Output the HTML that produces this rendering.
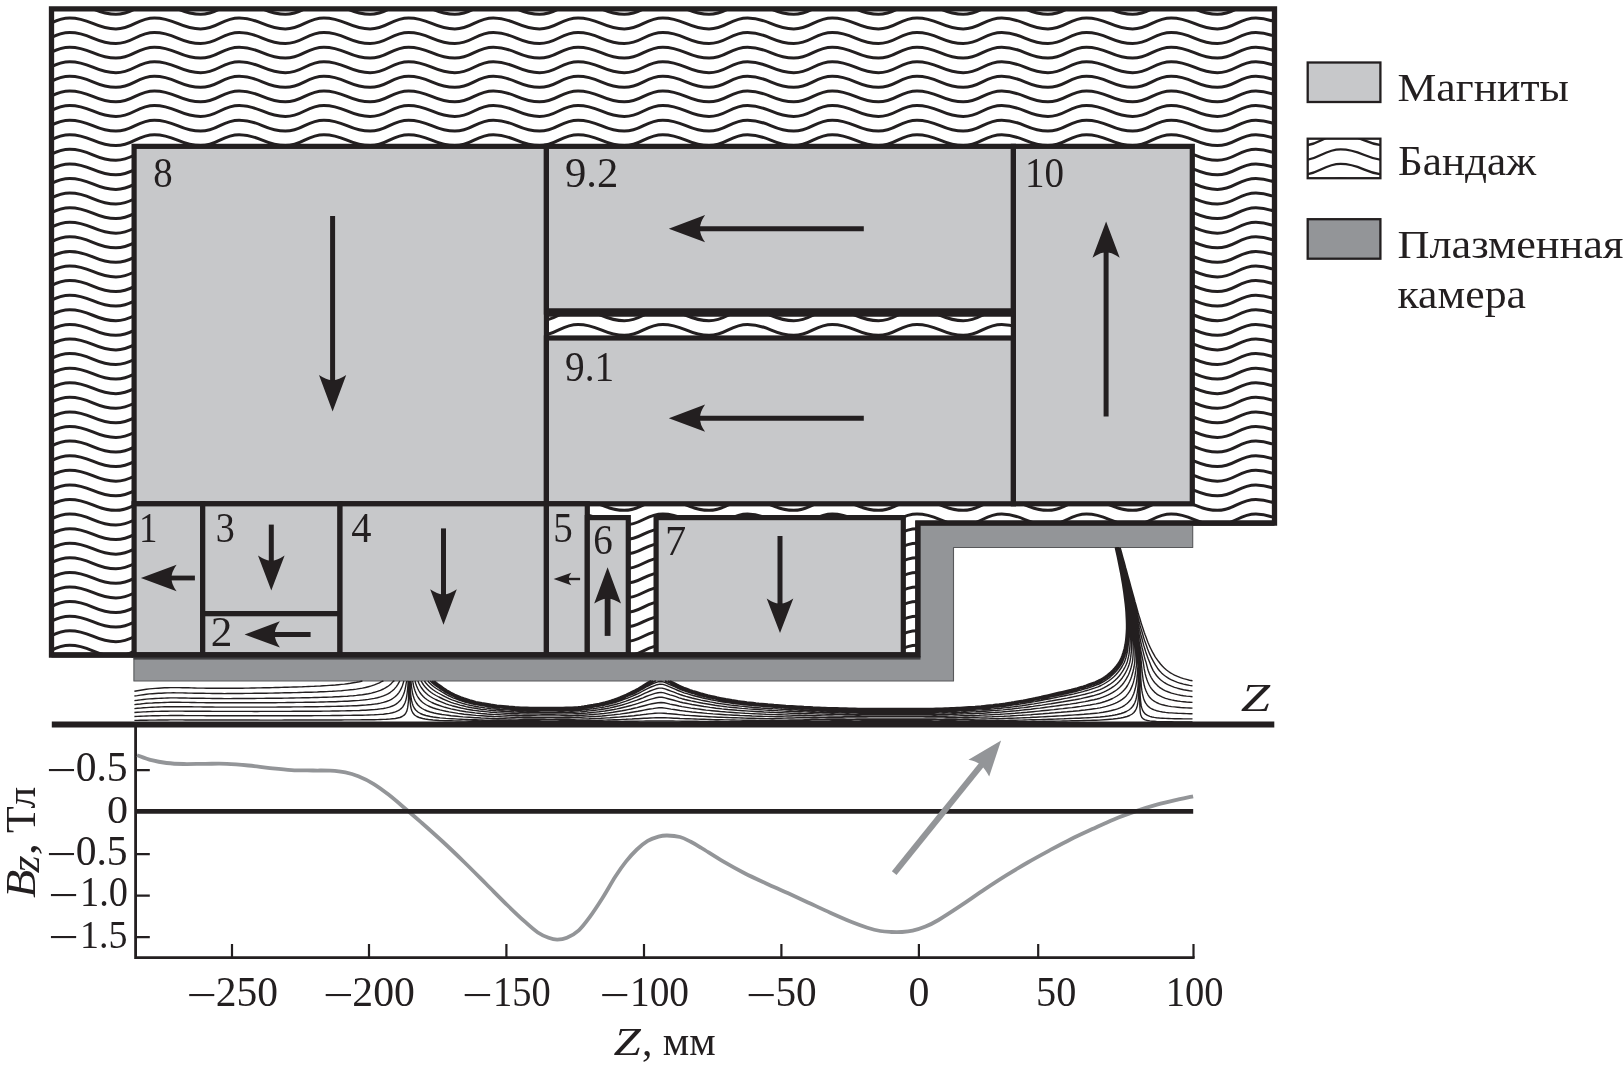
<!DOCTYPE html>
<html lang="ru"><head><meta charset="utf-8"><title>Магнитная система</title>
<style>html,body{margin:0;padding:0;background:#fff}body{width:1624px;height:1068px;overflow:hidden}svg{display:block;will-change:transform}text{font-family:'Liberation Serif','Times New Roman',serif;fill:#231f20}</style></head><body>
<svg width="1624" height="1068" viewBox="0 0 1624 1068">
<rect width="1624" height="1068" fill="#fff"/>
<defs><clipPath id="cb"><path d="M51.5 8.95H1274.5V523.1H917.9V655H51.5Z"/></clipPath>
<clipPath id="cl2"><rect x="1307.7" y="138.7" width="72.7" height="39.5"/></clipPath>
</defs>
<g clip-path="url(#cb)" fill="none" stroke="#231f20" stroke-width="3">
<path d="M-99.76 3.41C-78.97 3.41 -74.35 14.31 -53.56 14.31C-36.22 14.31 -32.37 3.41 -15.03 3.41C5.76 3.41 10.38 14.31 31.17 14.31C48.51 14.31 52.36 3.41 69.7 3.41C90.49 3.41 95.11 14.31 115.9 14.31C133.24 14.31 137.09 3.41 154.43 3.41C175.22 3.41 179.84 14.31 200.63 14.31C217.97 14.31 221.82 3.41 239.16 3.41C259.95 3.41 264.57 14.31 285.36 14.31C302.7 14.31 306.55 3.41 323.89 3.41C344.68 3.41 349.3 14.31 370.09 14.31C387.43 14.31 391.28 3.41 408.62 3.41C429.41 3.41 434.03 14.31 454.82 14.31C472.16 14.31 476.01 3.41 493.35 3.41C514.14 3.41 518.76 14.31 539.55 14.31C556.89 14.31 560.74 3.41 578.08 3.41C598.87 3.41 603.49 14.31 624.28 14.31C641.62 14.31 645.47 3.41 662.81 3.41C683.6 3.41 688.22 14.31 709.01 14.31C726.35 14.31 730.2 3.41 747.54 3.41C768.33 3.41 772.95 14.31 793.74 14.31C811.08 14.31 814.93 3.41 832.27 3.41C853.06 3.41 857.68 14.31 878.47 14.31C895.81 14.31 899.66 3.41 917 3.41C937.79 3.41 942.41 14.31 963.2 14.31C980.54 14.31 984.39 3.41 1001.73 3.41C1022.52 3.41 1027.14 14.31 1047.93 14.31C1065.27 14.31 1069.12 3.41 1086.46 3.41C1107.25 3.41 1111.87 14.31 1132.66 14.31C1150 14.31 1153.85 3.41 1171.19 3.41C1191.98 3.41 1196.6 14.31 1217.39 14.31C1234.73 14.31 1238.58 3.41 1255.92 3.41C1276.71 3.41 1281.33 14.31 1302.12 14.31C1319.46 14.31 1323.31 3.41 1340.65 3.41C1361.44 3.41 1366.06 14.31 1386.85 14.31C1404.19 14.31 1408.04 3.41 1425.38 3.41"/>
<path d="M-99.76 18C-78.97 18 -74.35 28.9 -53.56 28.9C-36.22 28.9 -32.37 18 -15.03 18C5.76 18 10.38 28.9 31.17 28.9C48.51 28.9 52.36 18 69.7 18C90.49 18 95.11 28.9 115.9 28.9C133.24 28.9 137.09 18 154.43 18C175.22 18 179.84 28.9 200.63 28.9C217.97 28.9 221.82 18 239.16 18C259.95 18 264.57 28.9 285.36 28.9C302.7 28.9 306.55 18 323.89 18C344.68 18 349.3 28.9 370.09 28.9C387.43 28.9 391.28 18 408.62 18C429.41 18 434.03 28.9 454.82 28.9C472.16 28.9 476.01 18 493.35 18C514.14 18 518.76 28.9 539.55 28.9C556.89 28.9 560.74 18 578.08 18C598.87 18 603.49 28.9 624.28 28.9C641.62 28.9 645.47 18 662.81 18C683.6 18 688.22 28.9 709.01 28.9C726.35 28.9 730.2 18 747.54 18C768.33 18 772.95 28.9 793.74 28.9C811.08 28.9 814.93 18 832.27 18C853.06 18 857.68 28.9 878.47 28.9C895.81 28.9 899.66 18 917 18C937.79 18 942.41 28.9 963.2 28.9C980.54 28.9 984.39 18 1001.73 18C1022.52 18 1027.14 28.9 1047.93 28.9C1065.27 28.9 1069.12 18 1086.46 18C1107.25 18 1111.87 28.9 1132.66 28.9C1150 28.9 1153.85 18 1171.19 18C1191.98 18 1196.6 28.9 1217.39 28.9C1234.73 28.9 1238.58 18 1255.92 18C1276.71 18 1281.33 28.9 1302.12 28.9C1319.46 28.9 1323.31 18 1340.65 18C1361.44 18 1366.06 28.9 1386.85 28.9C1404.19 28.9 1408.04 18 1425.38 18"/>
<path d="M-99.76 32.59C-78.97 32.59 -74.35 43.49 -53.56 43.49C-36.22 43.49 -32.37 32.59 -15.03 32.59C5.76 32.59 10.38 43.49 31.17 43.49C48.51 43.49 52.36 32.59 69.7 32.59C90.49 32.59 95.11 43.49 115.9 43.49C133.24 43.49 137.09 32.59 154.43 32.59C175.22 32.59 179.84 43.49 200.63 43.49C217.97 43.49 221.82 32.59 239.16 32.59C259.95 32.59 264.57 43.49 285.36 43.49C302.7 43.49 306.55 32.59 323.89 32.59C344.68 32.59 349.3 43.49 370.09 43.49C387.43 43.49 391.28 32.59 408.62 32.59C429.41 32.59 434.03 43.49 454.82 43.49C472.16 43.49 476.01 32.59 493.35 32.59C514.14 32.59 518.76 43.49 539.55 43.49C556.89 43.49 560.74 32.59 578.08 32.59C598.87 32.59 603.49 43.49 624.28 43.49C641.62 43.49 645.47 32.59 662.81 32.59C683.6 32.59 688.22 43.49 709.01 43.49C726.35 43.49 730.2 32.59 747.54 32.59C768.33 32.59 772.95 43.49 793.74 43.49C811.08 43.49 814.93 32.59 832.27 32.59C853.06 32.59 857.68 43.49 878.47 43.49C895.81 43.49 899.66 32.59 917 32.59C937.79 32.59 942.41 43.49 963.2 43.49C980.54 43.49 984.39 32.59 1001.73 32.59C1022.52 32.59 1027.14 43.49 1047.93 43.49C1065.27 43.49 1069.12 32.59 1086.46 32.59C1107.25 32.59 1111.87 43.49 1132.66 43.49C1150 43.49 1153.85 32.59 1171.19 32.59C1191.98 32.59 1196.6 43.49 1217.39 43.49C1234.73 43.49 1238.58 32.59 1255.92 32.59C1276.71 32.59 1281.33 43.49 1302.12 43.49C1319.46 43.49 1323.31 32.59 1340.65 32.59C1361.44 32.59 1366.06 43.49 1386.85 43.49C1404.19 43.49 1408.04 32.59 1425.38 32.59"/>
<path d="M-99.76 47.18C-78.97 47.18 -74.35 58.08 -53.56 58.08C-36.22 58.08 -32.37 47.18 -15.03 47.18C5.76 47.18 10.38 58.08 31.17 58.08C48.51 58.08 52.36 47.18 69.7 47.18C90.49 47.18 95.11 58.08 115.9 58.08C133.24 58.08 137.09 47.18 154.43 47.18C175.22 47.18 179.84 58.08 200.63 58.08C217.97 58.08 221.82 47.18 239.16 47.18C259.95 47.18 264.57 58.08 285.36 58.08C302.7 58.08 306.55 47.18 323.89 47.18C344.68 47.18 349.3 58.08 370.09 58.08C387.43 58.08 391.28 47.18 408.62 47.18C429.41 47.18 434.03 58.08 454.82 58.08C472.16 58.08 476.01 47.18 493.35 47.18C514.14 47.18 518.76 58.08 539.55 58.08C556.89 58.08 560.74 47.18 578.08 47.18C598.87 47.18 603.49 58.08 624.28 58.08C641.62 58.08 645.47 47.18 662.81 47.18C683.6 47.18 688.22 58.08 709.01 58.08C726.35 58.08 730.2 47.18 747.54 47.18C768.33 47.18 772.95 58.08 793.74 58.08C811.08 58.08 814.93 47.18 832.27 47.18C853.06 47.18 857.68 58.08 878.47 58.08C895.81 58.08 899.66 47.18 917 47.18C937.79 47.18 942.41 58.08 963.2 58.08C980.54 58.08 984.39 47.18 1001.73 47.18C1022.52 47.18 1027.14 58.08 1047.93 58.08C1065.27 58.08 1069.12 47.18 1086.46 47.18C1107.25 47.18 1111.87 58.08 1132.66 58.08C1150 58.08 1153.85 47.18 1171.19 47.18C1191.98 47.18 1196.6 58.08 1217.39 58.08C1234.73 58.08 1238.58 47.18 1255.92 47.18C1276.71 47.18 1281.33 58.08 1302.12 58.08C1319.46 58.08 1323.31 47.18 1340.65 47.18C1361.44 47.18 1366.06 58.08 1386.85 58.08C1404.19 58.08 1408.04 47.18 1425.38 47.18"/>
<path d="M-99.76 61.77C-78.97 61.77 -74.35 72.67 -53.56 72.67C-36.22 72.67 -32.37 61.77 -15.03 61.77C5.76 61.77 10.38 72.67 31.17 72.67C48.51 72.67 52.36 61.77 69.7 61.77C90.49 61.77 95.11 72.67 115.9 72.67C133.24 72.67 137.09 61.77 154.43 61.77C175.22 61.77 179.84 72.67 200.63 72.67C217.97 72.67 221.82 61.77 239.16 61.77C259.95 61.77 264.57 72.67 285.36 72.67C302.7 72.67 306.55 61.77 323.89 61.77C344.68 61.77 349.3 72.67 370.09 72.67C387.43 72.67 391.28 61.77 408.62 61.77C429.41 61.77 434.03 72.67 454.82 72.67C472.16 72.67 476.01 61.77 493.35 61.77C514.14 61.77 518.76 72.67 539.55 72.67C556.89 72.67 560.74 61.77 578.08 61.77C598.87 61.77 603.49 72.67 624.28 72.67C641.62 72.67 645.47 61.77 662.81 61.77C683.6 61.77 688.22 72.67 709.01 72.67C726.35 72.67 730.2 61.77 747.54 61.77C768.33 61.77 772.95 72.67 793.74 72.67C811.08 72.67 814.93 61.77 832.27 61.77C853.06 61.77 857.68 72.67 878.47 72.67C895.81 72.67 899.66 61.77 917 61.77C937.79 61.77 942.41 72.67 963.2 72.67C980.54 72.67 984.39 61.77 1001.73 61.77C1022.52 61.77 1027.14 72.67 1047.93 72.67C1065.27 72.67 1069.12 61.77 1086.46 61.77C1107.25 61.77 1111.87 72.67 1132.66 72.67C1150 72.67 1153.85 61.77 1171.19 61.77C1191.98 61.77 1196.6 72.67 1217.39 72.67C1234.73 72.67 1238.58 61.77 1255.92 61.77C1276.71 61.77 1281.33 72.67 1302.12 72.67C1319.46 72.67 1323.31 61.77 1340.65 61.77C1361.44 61.77 1366.06 72.67 1386.85 72.67C1404.19 72.67 1408.04 61.77 1425.38 61.77"/>
<path d="M-99.76 76.36C-78.97 76.36 -74.35 87.26 -53.56 87.26C-36.22 87.26 -32.37 76.36 -15.03 76.36C5.76 76.36 10.38 87.26 31.17 87.26C48.51 87.26 52.36 76.36 69.7 76.36C90.49 76.36 95.11 87.26 115.9 87.26C133.24 87.26 137.09 76.36 154.43 76.36C175.22 76.36 179.84 87.26 200.63 87.26C217.97 87.26 221.82 76.36 239.16 76.36C259.95 76.36 264.57 87.26 285.36 87.26C302.7 87.26 306.55 76.36 323.89 76.36C344.68 76.36 349.3 87.26 370.09 87.26C387.43 87.26 391.28 76.36 408.62 76.36C429.41 76.36 434.03 87.26 454.82 87.26C472.16 87.26 476.01 76.36 493.35 76.36C514.14 76.36 518.76 87.26 539.55 87.26C556.89 87.26 560.74 76.36 578.08 76.36C598.87 76.36 603.49 87.26 624.28 87.26C641.62 87.26 645.47 76.36 662.81 76.36C683.6 76.36 688.22 87.26 709.01 87.26C726.35 87.26 730.2 76.36 747.54 76.36C768.33 76.36 772.95 87.26 793.74 87.26C811.08 87.26 814.93 76.36 832.27 76.36C853.06 76.36 857.68 87.26 878.47 87.26C895.81 87.26 899.66 76.36 917 76.36C937.79 76.36 942.41 87.26 963.2 87.26C980.54 87.26 984.39 76.36 1001.73 76.36C1022.52 76.36 1027.14 87.26 1047.93 87.26C1065.27 87.26 1069.12 76.36 1086.46 76.36C1107.25 76.36 1111.87 87.26 1132.66 87.26C1150 87.26 1153.85 76.36 1171.19 76.36C1191.98 76.36 1196.6 87.26 1217.39 87.26C1234.73 87.26 1238.58 76.36 1255.92 76.36C1276.71 76.36 1281.33 87.26 1302.12 87.26C1319.46 87.26 1323.31 76.36 1340.65 76.36C1361.44 76.36 1366.06 87.26 1386.85 87.26C1404.19 87.26 1408.04 76.36 1425.38 76.36"/>
<path d="M-99.76 90.95C-78.97 90.95 -74.35 101.85 -53.56 101.85C-36.22 101.85 -32.37 90.95 -15.03 90.95C5.76 90.95 10.38 101.85 31.17 101.85C48.51 101.85 52.36 90.95 69.7 90.95C90.49 90.95 95.11 101.85 115.9 101.85C133.24 101.85 137.09 90.95 154.43 90.95C175.22 90.95 179.84 101.85 200.63 101.85C217.97 101.85 221.82 90.95 239.16 90.95C259.95 90.95 264.57 101.85 285.36 101.85C302.7 101.85 306.55 90.95 323.89 90.95C344.68 90.95 349.3 101.85 370.09 101.85C387.43 101.85 391.28 90.95 408.62 90.95C429.41 90.95 434.03 101.85 454.82 101.85C472.16 101.85 476.01 90.95 493.35 90.95C514.14 90.95 518.76 101.85 539.55 101.85C556.89 101.85 560.74 90.95 578.08 90.95C598.87 90.95 603.49 101.85 624.28 101.85C641.62 101.85 645.47 90.95 662.81 90.95C683.6 90.95 688.22 101.85 709.01 101.85C726.35 101.85 730.2 90.95 747.54 90.95C768.33 90.95 772.95 101.85 793.74 101.85C811.08 101.85 814.93 90.95 832.27 90.95C853.06 90.95 857.68 101.85 878.47 101.85C895.81 101.85 899.66 90.95 917 90.95C937.79 90.95 942.41 101.85 963.2 101.85C980.54 101.85 984.39 90.95 1001.73 90.95C1022.52 90.95 1027.14 101.85 1047.93 101.85C1065.27 101.85 1069.12 90.95 1086.46 90.95C1107.25 90.95 1111.87 101.85 1132.66 101.85C1150 101.85 1153.85 90.95 1171.19 90.95C1191.98 90.95 1196.6 101.85 1217.39 101.85C1234.73 101.85 1238.58 90.95 1255.92 90.95C1276.71 90.95 1281.33 101.85 1302.12 101.85C1319.46 101.85 1323.31 90.95 1340.65 90.95C1361.44 90.95 1366.06 101.85 1386.85 101.85C1404.19 101.85 1408.04 90.95 1425.38 90.95"/>
<path d="M-99.76 105.54C-78.97 105.54 -74.35 116.44 -53.56 116.44C-36.22 116.44 -32.37 105.54 -15.03 105.54C5.76 105.54 10.38 116.44 31.17 116.44C48.51 116.44 52.36 105.54 69.7 105.54C90.49 105.54 95.11 116.44 115.9 116.44C133.24 116.44 137.09 105.54 154.43 105.54C175.22 105.54 179.84 116.44 200.63 116.44C217.97 116.44 221.82 105.54 239.16 105.54C259.95 105.54 264.57 116.44 285.36 116.44C302.7 116.44 306.55 105.54 323.89 105.54C344.68 105.54 349.3 116.44 370.09 116.44C387.43 116.44 391.28 105.54 408.62 105.54C429.41 105.54 434.03 116.44 454.82 116.44C472.16 116.44 476.01 105.54 493.35 105.54C514.14 105.54 518.76 116.44 539.55 116.44C556.89 116.44 560.74 105.54 578.08 105.54C598.87 105.54 603.49 116.44 624.28 116.44C641.62 116.44 645.47 105.54 662.81 105.54C683.6 105.54 688.22 116.44 709.01 116.44C726.35 116.44 730.2 105.54 747.54 105.54C768.33 105.54 772.95 116.44 793.74 116.44C811.08 116.44 814.93 105.54 832.27 105.54C853.06 105.54 857.68 116.44 878.47 116.44C895.81 116.44 899.66 105.54 917 105.54C937.79 105.54 942.41 116.44 963.2 116.44C980.54 116.44 984.39 105.54 1001.73 105.54C1022.52 105.54 1027.14 116.44 1047.93 116.44C1065.27 116.44 1069.12 105.54 1086.46 105.54C1107.25 105.54 1111.87 116.44 1132.66 116.44C1150 116.44 1153.85 105.54 1171.19 105.54C1191.98 105.54 1196.6 116.44 1217.39 116.44C1234.73 116.44 1238.58 105.54 1255.92 105.54C1276.71 105.54 1281.33 116.44 1302.12 116.44C1319.46 116.44 1323.31 105.54 1340.65 105.54C1361.44 105.54 1366.06 116.44 1386.85 116.44C1404.19 116.44 1408.04 105.54 1425.38 105.54"/>
<path d="M-99.76 120.13C-78.97 120.13 -74.35 131.03 -53.56 131.03C-36.22 131.03 -32.37 120.13 -15.03 120.13C5.76 120.13 10.38 131.03 31.17 131.03C48.51 131.03 52.36 120.13 69.7 120.13C90.49 120.13 95.11 131.03 115.9 131.03C133.24 131.03 137.09 120.13 154.43 120.13C175.22 120.13 179.84 131.03 200.63 131.03C217.97 131.03 221.82 120.13 239.16 120.13C259.95 120.13 264.57 131.03 285.36 131.03C302.7 131.03 306.55 120.13 323.89 120.13C344.68 120.13 349.3 131.03 370.09 131.03C387.43 131.03 391.28 120.13 408.62 120.13C429.41 120.13 434.03 131.03 454.82 131.03C472.16 131.03 476.01 120.13 493.35 120.13C514.14 120.13 518.76 131.03 539.55 131.03C556.89 131.03 560.74 120.13 578.08 120.13C598.87 120.13 603.49 131.03 624.28 131.03C641.62 131.03 645.47 120.13 662.81 120.13C683.6 120.13 688.22 131.03 709.01 131.03C726.35 131.03 730.2 120.13 747.54 120.13C768.33 120.13 772.95 131.03 793.74 131.03C811.08 131.03 814.93 120.13 832.27 120.13C853.06 120.13 857.68 131.03 878.47 131.03C895.81 131.03 899.66 120.13 917 120.13C937.79 120.13 942.41 131.03 963.2 131.03C980.54 131.03 984.39 120.13 1001.73 120.13C1022.52 120.13 1027.14 131.03 1047.93 131.03C1065.27 131.03 1069.12 120.13 1086.46 120.13C1107.25 120.13 1111.87 131.03 1132.66 131.03C1150 131.03 1153.85 120.13 1171.19 120.13C1191.98 120.13 1196.6 131.03 1217.39 131.03C1234.73 131.03 1238.58 120.13 1255.92 120.13C1276.71 120.13 1281.33 131.03 1302.12 131.03C1319.46 131.03 1323.31 120.13 1340.65 120.13C1361.44 120.13 1366.06 131.03 1386.85 131.03C1404.19 131.03 1408.04 120.13 1425.38 120.13"/>
<path d="M-99.76 134.72C-78.97 134.72 -74.35 145.62 -53.56 145.62C-36.22 145.62 -32.37 134.72 -15.03 134.72C5.76 134.72 10.38 145.62 31.17 145.62C48.51 145.62 52.36 134.72 69.7 134.72C90.49 134.72 95.11 145.62 115.9 145.62C133.24 145.62 137.09 134.72 154.43 134.72C175.22 134.72 179.84 145.62 200.63 145.62C217.97 145.62 221.82 134.72 239.16 134.72C259.95 134.72 264.57 145.62 285.36 145.62C302.7 145.62 306.55 134.72 323.89 134.72C344.68 134.72 349.3 145.62 370.09 145.62C387.43 145.62 391.28 134.72 408.62 134.72C429.41 134.72 434.03 145.62 454.82 145.62C472.16 145.62 476.01 134.72 493.35 134.72C514.14 134.72 518.76 145.62 539.55 145.62C556.89 145.62 560.74 134.72 578.08 134.72C598.87 134.72 603.49 145.62 624.28 145.62C641.62 145.62 645.47 134.72 662.81 134.72C683.6 134.72 688.22 145.62 709.01 145.62C726.35 145.62 730.2 134.72 747.54 134.72C768.33 134.72 772.95 145.62 793.74 145.62C811.08 145.62 814.93 134.72 832.27 134.72C853.06 134.72 857.68 145.62 878.47 145.62C895.81 145.62 899.66 134.72 917 134.72C937.79 134.72 942.41 145.62 963.2 145.62C980.54 145.62 984.39 134.72 1001.73 134.72C1022.52 134.72 1027.14 145.62 1047.93 145.62C1065.27 145.62 1069.12 134.72 1086.46 134.72C1107.25 134.72 1111.87 145.62 1132.66 145.62C1150 145.62 1153.85 134.72 1171.19 134.72C1191.98 134.72 1196.6 145.62 1217.39 145.62C1234.73 145.62 1238.58 134.72 1255.92 134.72C1276.71 134.72 1281.33 145.62 1302.12 145.62C1319.46 145.62 1323.31 134.72 1340.65 134.72C1361.44 134.72 1366.06 145.62 1386.85 145.62C1404.19 145.62 1408.04 134.72 1425.38 134.72"/>
<path d="M-99.76 149.31C-78.97 149.31 -74.35 160.21 -53.56 160.21C-36.22 160.21 -32.37 149.31 -15.03 149.31C5.76 149.31 10.38 160.21 31.17 160.21C48.51 160.21 52.36 149.31 69.7 149.31C90.49 149.31 95.11 160.21 115.9 160.21C133.24 160.21 137.09 149.31 154.43 149.31C175.22 149.31 179.84 160.21 200.63 160.21C217.97 160.21 221.82 149.31 239.16 149.31C259.95 149.31 264.57 160.21 285.36 160.21C302.7 160.21 306.55 149.31 323.89 149.31C344.68 149.31 349.3 160.21 370.09 160.21C387.43 160.21 391.28 149.31 408.62 149.31C429.41 149.31 434.03 160.21 454.82 160.21C472.16 160.21 476.01 149.31 493.35 149.31C514.14 149.31 518.76 160.21 539.55 160.21C556.89 160.21 560.74 149.31 578.08 149.31C598.87 149.31 603.49 160.21 624.28 160.21C641.62 160.21 645.47 149.31 662.81 149.31C683.6 149.31 688.22 160.21 709.01 160.21C726.35 160.21 730.2 149.31 747.54 149.31C768.33 149.31 772.95 160.21 793.74 160.21C811.08 160.21 814.93 149.31 832.27 149.31C853.06 149.31 857.68 160.21 878.47 160.21C895.81 160.21 899.66 149.31 917 149.31C937.79 149.31 942.41 160.21 963.2 160.21C980.54 160.21 984.39 149.31 1001.73 149.31C1022.52 149.31 1027.14 160.21 1047.93 160.21C1065.27 160.21 1069.12 149.31 1086.46 149.31C1107.25 149.31 1111.87 160.21 1132.66 160.21C1150 160.21 1153.85 149.31 1171.19 149.31C1191.98 149.31 1196.6 160.21 1217.39 160.21C1234.73 160.21 1238.58 149.31 1255.92 149.31C1276.71 149.31 1281.33 160.21 1302.12 160.21C1319.46 160.21 1323.31 149.31 1340.65 149.31C1361.44 149.31 1366.06 160.21 1386.85 160.21C1404.19 160.21 1408.04 149.31 1425.38 149.31"/>
<path d="M-99.76 163.9C-78.97 163.9 -74.35 174.8 -53.56 174.8C-36.22 174.8 -32.37 163.9 -15.03 163.9C5.76 163.9 10.38 174.8 31.17 174.8C48.51 174.8 52.36 163.9 69.7 163.9C90.49 163.9 95.11 174.8 115.9 174.8C133.24 174.8 137.09 163.9 154.43 163.9C175.22 163.9 179.84 174.8 200.63 174.8C217.97 174.8 221.82 163.9 239.16 163.9C259.95 163.9 264.57 174.8 285.36 174.8C302.7 174.8 306.55 163.9 323.89 163.9C344.68 163.9 349.3 174.8 370.09 174.8C387.43 174.8 391.28 163.9 408.62 163.9C429.41 163.9 434.03 174.8 454.82 174.8C472.16 174.8 476.01 163.9 493.35 163.9C514.14 163.9 518.76 174.8 539.55 174.8C556.89 174.8 560.74 163.9 578.08 163.9C598.87 163.9 603.49 174.8 624.28 174.8C641.62 174.8 645.47 163.9 662.81 163.9C683.6 163.9 688.22 174.8 709.01 174.8C726.35 174.8 730.2 163.9 747.54 163.9C768.33 163.9 772.95 174.8 793.74 174.8C811.08 174.8 814.93 163.9 832.27 163.9C853.06 163.9 857.68 174.8 878.47 174.8C895.81 174.8 899.66 163.9 917 163.9C937.79 163.9 942.41 174.8 963.2 174.8C980.54 174.8 984.39 163.9 1001.73 163.9C1022.52 163.9 1027.14 174.8 1047.93 174.8C1065.27 174.8 1069.12 163.9 1086.46 163.9C1107.25 163.9 1111.87 174.8 1132.66 174.8C1150 174.8 1153.85 163.9 1171.19 163.9C1191.98 163.9 1196.6 174.8 1217.39 174.8C1234.73 174.8 1238.58 163.9 1255.92 163.9C1276.71 163.9 1281.33 174.8 1302.12 174.8C1319.46 174.8 1323.31 163.9 1340.65 163.9C1361.44 163.9 1366.06 174.8 1386.85 174.8C1404.19 174.8 1408.04 163.9 1425.38 163.9"/>
<path d="M-99.76 178.49C-78.97 178.49 -74.35 189.39 -53.56 189.39C-36.22 189.39 -32.37 178.49 -15.03 178.49C5.76 178.49 10.38 189.39 31.17 189.39C48.51 189.39 52.36 178.49 69.7 178.49C90.49 178.49 95.11 189.39 115.9 189.39C133.24 189.39 137.09 178.49 154.43 178.49C175.22 178.49 179.84 189.39 200.63 189.39C217.97 189.39 221.82 178.49 239.16 178.49C259.95 178.49 264.57 189.39 285.36 189.39C302.7 189.39 306.55 178.49 323.89 178.49C344.68 178.49 349.3 189.39 370.09 189.39C387.43 189.39 391.28 178.49 408.62 178.49C429.41 178.49 434.03 189.39 454.82 189.39C472.16 189.39 476.01 178.49 493.35 178.49C514.14 178.49 518.76 189.39 539.55 189.39C556.89 189.39 560.74 178.49 578.08 178.49C598.87 178.49 603.49 189.39 624.28 189.39C641.62 189.39 645.47 178.49 662.81 178.49C683.6 178.49 688.22 189.39 709.01 189.39C726.35 189.39 730.2 178.49 747.54 178.49C768.33 178.49 772.95 189.39 793.74 189.39C811.08 189.39 814.93 178.49 832.27 178.49C853.06 178.49 857.68 189.39 878.47 189.39C895.81 189.39 899.66 178.49 917 178.49C937.79 178.49 942.41 189.39 963.2 189.39C980.54 189.39 984.39 178.49 1001.73 178.49C1022.52 178.49 1027.14 189.39 1047.93 189.39C1065.27 189.39 1069.12 178.49 1086.46 178.49C1107.25 178.49 1111.87 189.39 1132.66 189.39C1150 189.39 1153.85 178.49 1171.19 178.49C1191.98 178.49 1196.6 189.39 1217.39 189.39C1234.73 189.39 1238.58 178.49 1255.92 178.49C1276.71 178.49 1281.33 189.39 1302.12 189.39C1319.46 189.39 1323.31 178.49 1340.65 178.49C1361.44 178.49 1366.06 189.39 1386.85 189.39C1404.19 189.39 1408.04 178.49 1425.38 178.49"/>
<path d="M-99.76 193.08C-78.97 193.08 -74.35 203.98 -53.56 203.98C-36.22 203.98 -32.37 193.08 -15.03 193.08C5.76 193.08 10.38 203.98 31.17 203.98C48.51 203.98 52.36 193.08 69.7 193.08C90.49 193.08 95.11 203.98 115.9 203.98C133.24 203.98 137.09 193.08 154.43 193.08C175.22 193.08 179.84 203.98 200.63 203.98C217.97 203.98 221.82 193.08 239.16 193.08C259.95 193.08 264.57 203.98 285.36 203.98C302.7 203.98 306.55 193.08 323.89 193.08C344.68 193.08 349.3 203.98 370.09 203.98C387.43 203.98 391.28 193.08 408.62 193.08C429.41 193.08 434.03 203.98 454.82 203.98C472.16 203.98 476.01 193.08 493.35 193.08C514.14 193.08 518.76 203.98 539.55 203.98C556.89 203.98 560.74 193.08 578.08 193.08C598.87 193.08 603.49 203.98 624.28 203.98C641.62 203.98 645.47 193.08 662.81 193.08C683.6 193.08 688.22 203.98 709.01 203.98C726.35 203.98 730.2 193.08 747.54 193.08C768.33 193.08 772.95 203.98 793.74 203.98C811.08 203.98 814.93 193.08 832.27 193.08C853.06 193.08 857.68 203.98 878.47 203.98C895.81 203.98 899.66 193.08 917 193.08C937.79 193.08 942.41 203.98 963.2 203.98C980.54 203.98 984.39 193.08 1001.73 193.08C1022.52 193.08 1027.14 203.98 1047.93 203.98C1065.27 203.98 1069.12 193.08 1086.46 193.08C1107.25 193.08 1111.87 203.98 1132.66 203.98C1150 203.98 1153.85 193.08 1171.19 193.08C1191.98 193.08 1196.6 203.98 1217.39 203.98C1234.73 203.98 1238.58 193.08 1255.92 193.08C1276.71 193.08 1281.33 203.98 1302.12 203.98C1319.46 203.98 1323.31 193.08 1340.65 193.08C1361.44 193.08 1366.06 203.98 1386.85 203.98C1404.19 203.98 1408.04 193.08 1425.38 193.08"/>
<path d="M-99.76 207.67C-78.97 207.67 -74.35 218.57 -53.56 218.57C-36.22 218.57 -32.37 207.67 -15.03 207.67C5.76 207.67 10.38 218.57 31.17 218.57C48.51 218.57 52.36 207.67 69.7 207.67C90.49 207.67 95.11 218.57 115.9 218.57C133.24 218.57 137.09 207.67 154.43 207.67C175.22 207.67 179.84 218.57 200.63 218.57C217.97 218.57 221.82 207.67 239.16 207.67C259.95 207.67 264.57 218.57 285.36 218.57C302.7 218.57 306.55 207.67 323.89 207.67C344.68 207.67 349.3 218.57 370.09 218.57C387.43 218.57 391.28 207.67 408.62 207.67C429.41 207.67 434.03 218.57 454.82 218.57C472.16 218.57 476.01 207.67 493.35 207.67C514.14 207.67 518.76 218.57 539.55 218.57C556.89 218.57 560.74 207.67 578.08 207.67C598.87 207.67 603.49 218.57 624.28 218.57C641.62 218.57 645.47 207.67 662.81 207.67C683.6 207.67 688.22 218.57 709.01 218.57C726.35 218.57 730.2 207.67 747.54 207.67C768.33 207.67 772.95 218.57 793.74 218.57C811.08 218.57 814.93 207.67 832.27 207.67C853.06 207.67 857.68 218.57 878.47 218.57C895.81 218.57 899.66 207.67 917 207.67C937.79 207.67 942.41 218.57 963.2 218.57C980.54 218.57 984.39 207.67 1001.73 207.67C1022.52 207.67 1027.14 218.57 1047.93 218.57C1065.27 218.57 1069.12 207.67 1086.46 207.67C1107.25 207.67 1111.87 218.57 1132.66 218.57C1150 218.57 1153.85 207.67 1171.19 207.67C1191.98 207.67 1196.6 218.57 1217.39 218.57C1234.73 218.57 1238.58 207.67 1255.92 207.67C1276.71 207.67 1281.33 218.57 1302.12 218.57C1319.46 218.57 1323.31 207.67 1340.65 207.67C1361.44 207.67 1366.06 218.57 1386.85 218.57C1404.19 218.57 1408.04 207.67 1425.38 207.67"/>
<path d="M-99.76 222.26C-78.97 222.26 -74.35 233.16 -53.56 233.16C-36.22 233.16 -32.37 222.26 -15.03 222.26C5.76 222.26 10.38 233.16 31.17 233.16C48.51 233.16 52.36 222.26 69.7 222.26C90.49 222.26 95.11 233.16 115.9 233.16C133.24 233.16 137.09 222.26 154.43 222.26C175.22 222.26 179.84 233.16 200.63 233.16C217.97 233.16 221.82 222.26 239.16 222.26C259.95 222.26 264.57 233.16 285.36 233.16C302.7 233.16 306.55 222.26 323.89 222.26C344.68 222.26 349.3 233.16 370.09 233.16C387.43 233.16 391.28 222.26 408.62 222.26C429.41 222.26 434.03 233.16 454.82 233.16C472.16 233.16 476.01 222.26 493.35 222.26C514.14 222.26 518.76 233.16 539.55 233.16C556.89 233.16 560.74 222.26 578.08 222.26C598.87 222.26 603.49 233.16 624.28 233.16C641.62 233.16 645.47 222.26 662.81 222.26C683.6 222.26 688.22 233.16 709.01 233.16C726.35 233.16 730.2 222.26 747.54 222.26C768.33 222.26 772.95 233.16 793.74 233.16C811.08 233.16 814.93 222.26 832.27 222.26C853.06 222.26 857.68 233.16 878.47 233.16C895.81 233.16 899.66 222.26 917 222.26C937.79 222.26 942.41 233.16 963.2 233.16C980.54 233.16 984.39 222.26 1001.73 222.26C1022.52 222.26 1027.14 233.16 1047.93 233.16C1065.27 233.16 1069.12 222.26 1086.46 222.26C1107.25 222.26 1111.87 233.16 1132.66 233.16C1150 233.16 1153.85 222.26 1171.19 222.26C1191.98 222.26 1196.6 233.16 1217.39 233.16C1234.73 233.16 1238.58 222.26 1255.92 222.26C1276.71 222.26 1281.33 233.16 1302.12 233.16C1319.46 233.16 1323.31 222.26 1340.65 222.26C1361.44 222.26 1366.06 233.16 1386.85 233.16C1404.19 233.16 1408.04 222.26 1425.38 222.26"/>
<path d="M-99.76 236.85C-78.97 236.85 -74.35 247.75 -53.56 247.75C-36.22 247.75 -32.37 236.85 -15.03 236.85C5.76 236.85 10.38 247.75 31.17 247.75C48.51 247.75 52.36 236.85 69.7 236.85C90.49 236.85 95.11 247.75 115.9 247.75C133.24 247.75 137.09 236.85 154.43 236.85C175.22 236.85 179.84 247.75 200.63 247.75C217.97 247.75 221.82 236.85 239.16 236.85C259.95 236.85 264.57 247.75 285.36 247.75C302.7 247.75 306.55 236.85 323.89 236.85C344.68 236.85 349.3 247.75 370.09 247.75C387.43 247.75 391.28 236.85 408.62 236.85C429.41 236.85 434.03 247.75 454.82 247.75C472.16 247.75 476.01 236.85 493.35 236.85C514.14 236.85 518.76 247.75 539.55 247.75C556.89 247.75 560.74 236.85 578.08 236.85C598.87 236.85 603.49 247.75 624.28 247.75C641.62 247.75 645.47 236.85 662.81 236.85C683.6 236.85 688.22 247.75 709.01 247.75C726.35 247.75 730.2 236.85 747.54 236.85C768.33 236.85 772.95 247.75 793.74 247.75C811.08 247.75 814.93 236.85 832.27 236.85C853.06 236.85 857.68 247.75 878.47 247.75C895.81 247.75 899.66 236.85 917 236.85C937.79 236.85 942.41 247.75 963.2 247.75C980.54 247.75 984.39 236.85 1001.73 236.85C1022.52 236.85 1027.14 247.75 1047.93 247.75C1065.27 247.75 1069.12 236.85 1086.46 236.85C1107.25 236.85 1111.87 247.75 1132.66 247.75C1150 247.75 1153.85 236.85 1171.19 236.85C1191.98 236.85 1196.6 247.75 1217.39 247.75C1234.73 247.75 1238.58 236.85 1255.92 236.85C1276.71 236.85 1281.33 247.75 1302.12 247.75C1319.46 247.75 1323.31 236.85 1340.65 236.85C1361.44 236.85 1366.06 247.75 1386.85 247.75C1404.19 247.75 1408.04 236.85 1425.38 236.85"/>
<path d="M-99.76 251.44C-78.97 251.44 -74.35 262.34 -53.56 262.34C-36.22 262.34 -32.37 251.44 -15.03 251.44C5.76 251.44 10.38 262.34 31.17 262.34C48.51 262.34 52.36 251.44 69.7 251.44C90.49 251.44 95.11 262.34 115.9 262.34C133.24 262.34 137.09 251.44 154.43 251.44C175.22 251.44 179.84 262.34 200.63 262.34C217.97 262.34 221.82 251.44 239.16 251.44C259.95 251.44 264.57 262.34 285.36 262.34C302.7 262.34 306.55 251.44 323.89 251.44C344.68 251.44 349.3 262.34 370.09 262.34C387.43 262.34 391.28 251.44 408.62 251.44C429.41 251.44 434.03 262.34 454.82 262.34C472.16 262.34 476.01 251.44 493.35 251.44C514.14 251.44 518.76 262.34 539.55 262.34C556.89 262.34 560.74 251.44 578.08 251.44C598.87 251.44 603.49 262.34 624.28 262.34C641.62 262.34 645.47 251.44 662.81 251.44C683.6 251.44 688.22 262.34 709.01 262.34C726.35 262.34 730.2 251.44 747.54 251.44C768.33 251.44 772.95 262.34 793.74 262.34C811.08 262.34 814.93 251.44 832.27 251.44C853.06 251.44 857.68 262.34 878.47 262.34C895.81 262.34 899.66 251.44 917 251.44C937.79 251.44 942.41 262.34 963.2 262.34C980.54 262.34 984.39 251.44 1001.73 251.44C1022.52 251.44 1027.14 262.34 1047.93 262.34C1065.27 262.34 1069.12 251.44 1086.46 251.44C1107.25 251.44 1111.87 262.34 1132.66 262.34C1150 262.34 1153.85 251.44 1171.19 251.44C1191.98 251.44 1196.6 262.34 1217.39 262.34C1234.73 262.34 1238.58 251.44 1255.92 251.44C1276.71 251.44 1281.33 262.34 1302.12 262.34C1319.46 262.34 1323.31 251.44 1340.65 251.44C1361.44 251.44 1366.06 262.34 1386.85 262.34C1404.19 262.34 1408.04 251.44 1425.38 251.44"/>
<path d="M-99.76 266.03C-78.97 266.03 -74.35 276.93 -53.56 276.93C-36.22 276.93 -32.37 266.03 -15.03 266.03C5.76 266.03 10.38 276.93 31.17 276.93C48.51 276.93 52.36 266.03 69.7 266.03C90.49 266.03 95.11 276.93 115.9 276.93C133.24 276.93 137.09 266.03 154.43 266.03C175.22 266.03 179.84 276.93 200.63 276.93C217.97 276.93 221.82 266.03 239.16 266.03C259.95 266.03 264.57 276.93 285.36 276.93C302.7 276.93 306.55 266.03 323.89 266.03C344.68 266.03 349.3 276.93 370.09 276.93C387.43 276.93 391.28 266.03 408.62 266.03C429.41 266.03 434.03 276.93 454.82 276.93C472.16 276.93 476.01 266.03 493.35 266.03C514.14 266.03 518.76 276.93 539.55 276.93C556.89 276.93 560.74 266.03 578.08 266.03C598.87 266.03 603.49 276.93 624.28 276.93C641.62 276.93 645.47 266.03 662.81 266.03C683.6 266.03 688.22 276.93 709.01 276.93C726.35 276.93 730.2 266.03 747.54 266.03C768.33 266.03 772.95 276.93 793.74 276.93C811.08 276.93 814.93 266.03 832.27 266.03C853.06 266.03 857.68 276.93 878.47 276.93C895.81 276.93 899.66 266.03 917 266.03C937.79 266.03 942.41 276.93 963.2 276.93C980.54 276.93 984.39 266.03 1001.73 266.03C1022.52 266.03 1027.14 276.93 1047.93 276.93C1065.27 276.93 1069.12 266.03 1086.46 266.03C1107.25 266.03 1111.87 276.93 1132.66 276.93C1150 276.93 1153.85 266.03 1171.19 266.03C1191.98 266.03 1196.6 276.93 1217.39 276.93C1234.73 276.93 1238.58 266.03 1255.92 266.03C1276.71 266.03 1281.33 276.93 1302.12 276.93C1319.46 276.93 1323.31 266.03 1340.65 266.03C1361.44 266.03 1366.06 276.93 1386.85 276.93C1404.19 276.93 1408.04 266.03 1425.38 266.03"/>
<path d="M-99.76 280.62C-78.97 280.62 -74.35 291.52 -53.56 291.52C-36.22 291.52 -32.37 280.62 -15.03 280.62C5.76 280.62 10.38 291.52 31.17 291.52C48.51 291.52 52.36 280.62 69.7 280.62C90.49 280.62 95.11 291.52 115.9 291.52C133.24 291.52 137.09 280.62 154.43 280.62C175.22 280.62 179.84 291.52 200.63 291.52C217.97 291.52 221.82 280.62 239.16 280.62C259.95 280.62 264.57 291.52 285.36 291.52C302.7 291.52 306.55 280.62 323.89 280.62C344.68 280.62 349.3 291.52 370.09 291.52C387.43 291.52 391.28 280.62 408.62 280.62C429.41 280.62 434.03 291.52 454.82 291.52C472.16 291.52 476.01 280.62 493.35 280.62C514.14 280.62 518.76 291.52 539.55 291.52C556.89 291.52 560.74 280.62 578.08 280.62C598.87 280.62 603.49 291.52 624.28 291.52C641.62 291.52 645.47 280.62 662.81 280.62C683.6 280.62 688.22 291.52 709.01 291.52C726.35 291.52 730.2 280.62 747.54 280.62C768.33 280.62 772.95 291.52 793.74 291.52C811.08 291.52 814.93 280.62 832.27 280.62C853.06 280.62 857.68 291.52 878.47 291.52C895.81 291.52 899.66 280.62 917 280.62C937.79 280.62 942.41 291.52 963.2 291.52C980.54 291.52 984.39 280.62 1001.73 280.62C1022.52 280.62 1027.14 291.52 1047.93 291.52C1065.27 291.52 1069.12 280.62 1086.46 280.62C1107.25 280.62 1111.87 291.52 1132.66 291.52C1150 291.52 1153.85 280.62 1171.19 280.62C1191.98 280.62 1196.6 291.52 1217.39 291.52C1234.73 291.52 1238.58 280.62 1255.92 280.62C1276.71 280.62 1281.33 291.52 1302.12 291.52C1319.46 291.52 1323.31 280.62 1340.65 280.62C1361.44 280.62 1366.06 291.52 1386.85 291.52C1404.19 291.52 1408.04 280.62 1425.38 280.62"/>
<path d="M-99.76 295.21C-78.97 295.21 -74.35 306.11 -53.56 306.11C-36.22 306.11 -32.37 295.21 -15.03 295.21C5.76 295.21 10.38 306.11 31.17 306.11C48.51 306.11 52.36 295.21 69.7 295.21C90.49 295.21 95.11 306.11 115.9 306.11C133.24 306.11 137.09 295.21 154.43 295.21C175.22 295.21 179.84 306.11 200.63 306.11C217.97 306.11 221.82 295.21 239.16 295.21C259.95 295.21 264.57 306.11 285.36 306.11C302.7 306.11 306.55 295.21 323.89 295.21C344.68 295.21 349.3 306.11 370.09 306.11C387.43 306.11 391.28 295.21 408.62 295.21C429.41 295.21 434.03 306.11 454.82 306.11C472.16 306.11 476.01 295.21 493.35 295.21C514.14 295.21 518.76 306.11 539.55 306.11C556.89 306.11 560.74 295.21 578.08 295.21C598.87 295.21 603.49 306.11 624.28 306.11C641.62 306.11 645.47 295.21 662.81 295.21C683.6 295.21 688.22 306.11 709.01 306.11C726.35 306.11 730.2 295.21 747.54 295.21C768.33 295.21 772.95 306.11 793.74 306.11C811.08 306.11 814.93 295.21 832.27 295.21C853.06 295.21 857.68 306.11 878.47 306.11C895.81 306.11 899.66 295.21 917 295.21C937.79 295.21 942.41 306.11 963.2 306.11C980.54 306.11 984.39 295.21 1001.73 295.21C1022.52 295.21 1027.14 306.11 1047.93 306.11C1065.27 306.11 1069.12 295.21 1086.46 295.21C1107.25 295.21 1111.87 306.11 1132.66 306.11C1150 306.11 1153.85 295.21 1171.19 295.21C1191.98 295.21 1196.6 306.11 1217.39 306.11C1234.73 306.11 1238.58 295.21 1255.92 295.21C1276.71 295.21 1281.33 306.11 1302.12 306.11C1319.46 306.11 1323.31 295.21 1340.65 295.21C1361.44 295.21 1366.06 306.11 1386.85 306.11C1404.19 306.11 1408.04 295.21 1425.38 295.21"/>
<path d="M-99.76 309.8C-78.97 309.8 -74.35 320.7 -53.56 320.7C-36.22 320.7 -32.37 309.8 -15.03 309.8C5.76 309.8 10.38 320.7 31.17 320.7C48.51 320.7 52.36 309.8 69.7 309.8C90.49 309.8 95.11 320.7 115.9 320.7C133.24 320.7 137.09 309.8 154.43 309.8C175.22 309.8 179.84 320.7 200.63 320.7C217.97 320.7 221.82 309.8 239.16 309.8C259.95 309.8 264.57 320.7 285.36 320.7C302.7 320.7 306.55 309.8 323.89 309.8C344.68 309.8 349.3 320.7 370.09 320.7C387.43 320.7 391.28 309.8 408.62 309.8C429.41 309.8 434.03 320.7 454.82 320.7C472.16 320.7 476.01 309.8 493.35 309.8C514.14 309.8 518.76 320.7 539.55 320.7C556.89 320.7 560.74 309.8 578.08 309.8C598.87 309.8 603.49 320.7 624.28 320.7C641.62 320.7 645.47 309.8 662.81 309.8C683.6 309.8 688.22 320.7 709.01 320.7C726.35 320.7 730.2 309.8 747.54 309.8C768.33 309.8 772.95 320.7 793.74 320.7C811.08 320.7 814.93 309.8 832.27 309.8C853.06 309.8 857.68 320.7 878.47 320.7C895.81 320.7 899.66 309.8 917 309.8C937.79 309.8 942.41 320.7 963.2 320.7C980.54 320.7 984.39 309.8 1001.73 309.8C1022.52 309.8 1027.14 320.7 1047.93 320.7C1065.27 320.7 1069.12 309.8 1086.46 309.8C1107.25 309.8 1111.87 320.7 1132.66 320.7C1150 320.7 1153.85 309.8 1171.19 309.8C1191.98 309.8 1196.6 320.7 1217.39 320.7C1234.73 320.7 1238.58 309.8 1255.92 309.8C1276.71 309.8 1281.33 320.7 1302.12 320.7C1319.46 320.7 1323.31 309.8 1340.65 309.8C1361.44 309.8 1366.06 320.7 1386.85 320.7C1404.19 320.7 1408.04 309.8 1425.38 309.8"/>
<path d="M-99.76 324.39C-78.97 324.39 -74.35 335.29 -53.56 335.29C-36.22 335.29 -32.37 324.39 -15.03 324.39C5.76 324.39 10.38 335.29 31.17 335.29C48.51 335.29 52.36 324.39 69.7 324.39C90.49 324.39 95.11 335.29 115.9 335.29C133.24 335.29 137.09 324.39 154.43 324.39C175.22 324.39 179.84 335.29 200.63 335.29C217.97 335.29 221.82 324.39 239.16 324.39C259.95 324.39 264.57 335.29 285.36 335.29C302.7 335.29 306.55 324.39 323.89 324.39C344.68 324.39 349.3 335.29 370.09 335.29C387.43 335.29 391.28 324.39 408.62 324.39C429.41 324.39 434.03 335.29 454.82 335.29C472.16 335.29 476.01 324.39 493.35 324.39C514.14 324.39 518.76 335.29 539.55 335.29C556.89 335.29 560.74 324.39 578.08 324.39C598.87 324.39 603.49 335.29 624.28 335.29C641.62 335.29 645.47 324.39 662.81 324.39C683.6 324.39 688.22 335.29 709.01 335.29C726.35 335.29 730.2 324.39 747.54 324.39C768.33 324.39 772.95 335.29 793.74 335.29C811.08 335.29 814.93 324.39 832.27 324.39C853.06 324.39 857.68 335.29 878.47 335.29C895.81 335.29 899.66 324.39 917 324.39C937.79 324.39 942.41 335.29 963.2 335.29C980.54 335.29 984.39 324.39 1001.73 324.39C1022.52 324.39 1027.14 335.29 1047.93 335.29C1065.27 335.29 1069.12 324.39 1086.46 324.39C1107.25 324.39 1111.87 335.29 1132.66 335.29C1150 335.29 1153.85 324.39 1171.19 324.39C1191.98 324.39 1196.6 335.29 1217.39 335.29C1234.73 335.29 1238.58 324.39 1255.92 324.39C1276.71 324.39 1281.33 335.29 1302.12 335.29C1319.46 335.29 1323.31 324.39 1340.65 324.39C1361.44 324.39 1366.06 335.29 1386.85 335.29C1404.19 335.29 1408.04 324.39 1425.38 324.39"/>
<path d="M-99.76 338.98C-78.97 338.98 -74.35 349.88 -53.56 349.88C-36.22 349.88 -32.37 338.98 -15.03 338.98C5.76 338.98 10.38 349.88 31.17 349.88C48.51 349.88 52.36 338.98 69.7 338.98C90.49 338.98 95.11 349.88 115.9 349.88C133.24 349.88 137.09 338.98 154.43 338.98C175.22 338.98 179.84 349.88 200.63 349.88C217.97 349.88 221.82 338.98 239.16 338.98C259.95 338.98 264.57 349.88 285.36 349.88C302.7 349.88 306.55 338.98 323.89 338.98C344.68 338.98 349.3 349.88 370.09 349.88C387.43 349.88 391.28 338.98 408.62 338.98C429.41 338.98 434.03 349.88 454.82 349.88C472.16 349.88 476.01 338.98 493.35 338.98C514.14 338.98 518.76 349.88 539.55 349.88C556.89 349.88 560.74 338.98 578.08 338.98C598.87 338.98 603.49 349.88 624.28 349.88C641.62 349.88 645.47 338.98 662.81 338.98C683.6 338.98 688.22 349.88 709.01 349.88C726.35 349.88 730.2 338.98 747.54 338.98C768.33 338.98 772.95 349.88 793.74 349.88C811.08 349.88 814.93 338.98 832.27 338.98C853.06 338.98 857.68 349.88 878.47 349.88C895.81 349.88 899.66 338.98 917 338.98C937.79 338.98 942.41 349.88 963.2 349.88C980.54 349.88 984.39 338.98 1001.73 338.98C1022.52 338.98 1027.14 349.88 1047.93 349.88C1065.27 349.88 1069.12 338.98 1086.46 338.98C1107.25 338.98 1111.87 349.88 1132.66 349.88C1150 349.88 1153.85 338.98 1171.19 338.98C1191.98 338.98 1196.6 349.88 1217.39 349.88C1234.73 349.88 1238.58 338.98 1255.92 338.98C1276.71 338.98 1281.33 349.88 1302.12 349.88C1319.46 349.88 1323.31 338.98 1340.65 338.98C1361.44 338.98 1366.06 349.88 1386.85 349.88C1404.19 349.88 1408.04 338.98 1425.38 338.98"/>
<path d="M-99.76 353.57C-78.97 353.57 -74.35 364.47 -53.56 364.47C-36.22 364.47 -32.37 353.57 -15.03 353.57C5.76 353.57 10.38 364.47 31.17 364.47C48.51 364.47 52.36 353.57 69.7 353.57C90.49 353.57 95.11 364.47 115.9 364.47C133.24 364.47 137.09 353.57 154.43 353.57C175.22 353.57 179.84 364.47 200.63 364.47C217.97 364.47 221.82 353.57 239.16 353.57C259.95 353.57 264.57 364.47 285.36 364.47C302.7 364.47 306.55 353.57 323.89 353.57C344.68 353.57 349.3 364.47 370.09 364.47C387.43 364.47 391.28 353.57 408.62 353.57C429.41 353.57 434.03 364.47 454.82 364.47C472.16 364.47 476.01 353.57 493.35 353.57C514.14 353.57 518.76 364.47 539.55 364.47C556.89 364.47 560.74 353.57 578.08 353.57C598.87 353.57 603.49 364.47 624.28 364.47C641.62 364.47 645.47 353.57 662.81 353.57C683.6 353.57 688.22 364.47 709.01 364.47C726.35 364.47 730.2 353.57 747.54 353.57C768.33 353.57 772.95 364.47 793.74 364.47C811.08 364.47 814.93 353.57 832.27 353.57C853.06 353.57 857.68 364.47 878.47 364.47C895.81 364.47 899.66 353.57 917 353.57C937.79 353.57 942.41 364.47 963.2 364.47C980.54 364.47 984.39 353.57 1001.73 353.57C1022.52 353.57 1027.14 364.47 1047.93 364.47C1065.27 364.47 1069.12 353.57 1086.46 353.57C1107.25 353.57 1111.87 364.47 1132.66 364.47C1150 364.47 1153.85 353.57 1171.19 353.57C1191.98 353.57 1196.6 364.47 1217.39 364.47C1234.73 364.47 1238.58 353.57 1255.92 353.57C1276.71 353.57 1281.33 364.47 1302.12 364.47C1319.46 364.47 1323.31 353.57 1340.65 353.57C1361.44 353.57 1366.06 364.47 1386.85 364.47C1404.19 364.47 1408.04 353.57 1425.38 353.57"/>
<path d="M-99.76 368.16C-78.97 368.16 -74.35 379.06 -53.56 379.06C-36.22 379.06 -32.37 368.16 -15.03 368.16C5.76 368.16 10.38 379.06 31.17 379.06C48.51 379.06 52.36 368.16 69.7 368.16C90.49 368.16 95.11 379.06 115.9 379.06C133.24 379.06 137.09 368.16 154.43 368.16C175.22 368.16 179.84 379.06 200.63 379.06C217.97 379.06 221.82 368.16 239.16 368.16C259.95 368.16 264.57 379.06 285.36 379.06C302.7 379.06 306.55 368.16 323.89 368.16C344.68 368.16 349.3 379.06 370.09 379.06C387.43 379.06 391.28 368.16 408.62 368.16C429.41 368.16 434.03 379.06 454.82 379.06C472.16 379.06 476.01 368.16 493.35 368.16C514.14 368.16 518.76 379.06 539.55 379.06C556.89 379.06 560.74 368.16 578.08 368.16C598.87 368.16 603.49 379.06 624.28 379.06C641.62 379.06 645.47 368.16 662.81 368.16C683.6 368.16 688.22 379.06 709.01 379.06C726.35 379.06 730.2 368.16 747.54 368.16C768.33 368.16 772.95 379.06 793.74 379.06C811.08 379.06 814.93 368.16 832.27 368.16C853.06 368.16 857.68 379.06 878.47 379.06C895.81 379.06 899.66 368.16 917 368.16C937.79 368.16 942.41 379.06 963.2 379.06C980.54 379.06 984.39 368.16 1001.73 368.16C1022.52 368.16 1027.14 379.06 1047.93 379.06C1065.27 379.06 1069.12 368.16 1086.46 368.16C1107.25 368.16 1111.87 379.06 1132.66 379.06C1150 379.06 1153.85 368.16 1171.19 368.16C1191.98 368.16 1196.6 379.06 1217.39 379.06C1234.73 379.06 1238.58 368.16 1255.92 368.16C1276.71 368.16 1281.33 379.06 1302.12 379.06C1319.46 379.06 1323.31 368.16 1340.65 368.16C1361.44 368.16 1366.06 379.06 1386.85 379.06C1404.19 379.06 1408.04 368.16 1425.38 368.16"/>
<path d="M-99.76 382.75C-78.97 382.75 -74.35 393.65 -53.56 393.65C-36.22 393.65 -32.37 382.75 -15.03 382.75C5.76 382.75 10.38 393.65 31.17 393.65C48.51 393.65 52.36 382.75 69.7 382.75C90.49 382.75 95.11 393.65 115.9 393.65C133.24 393.65 137.09 382.75 154.43 382.75C175.22 382.75 179.84 393.65 200.63 393.65C217.97 393.65 221.82 382.75 239.16 382.75C259.95 382.75 264.57 393.65 285.36 393.65C302.7 393.65 306.55 382.75 323.89 382.75C344.68 382.75 349.3 393.65 370.09 393.65C387.43 393.65 391.28 382.75 408.62 382.75C429.41 382.75 434.03 393.65 454.82 393.65C472.16 393.65 476.01 382.75 493.35 382.75C514.14 382.75 518.76 393.65 539.55 393.65C556.89 393.65 560.74 382.75 578.08 382.75C598.87 382.75 603.49 393.65 624.28 393.65C641.62 393.65 645.47 382.75 662.81 382.75C683.6 382.75 688.22 393.65 709.01 393.65C726.35 393.65 730.2 382.75 747.54 382.75C768.33 382.75 772.95 393.65 793.74 393.65C811.08 393.65 814.93 382.75 832.27 382.75C853.06 382.75 857.68 393.65 878.47 393.65C895.81 393.65 899.66 382.75 917 382.75C937.79 382.75 942.41 393.65 963.2 393.65C980.54 393.65 984.39 382.75 1001.73 382.75C1022.52 382.75 1027.14 393.65 1047.93 393.65C1065.27 393.65 1069.12 382.75 1086.46 382.75C1107.25 382.75 1111.87 393.65 1132.66 393.65C1150 393.65 1153.85 382.75 1171.19 382.75C1191.98 382.75 1196.6 393.65 1217.39 393.65C1234.73 393.65 1238.58 382.75 1255.92 382.75C1276.71 382.75 1281.33 393.65 1302.12 393.65C1319.46 393.65 1323.31 382.75 1340.65 382.75C1361.44 382.75 1366.06 393.65 1386.85 393.65C1404.19 393.65 1408.04 382.75 1425.38 382.75"/>
<path d="M-99.76 397.34C-78.97 397.34 -74.35 408.24 -53.56 408.24C-36.22 408.24 -32.37 397.34 -15.03 397.34C5.76 397.34 10.38 408.24 31.17 408.24C48.51 408.24 52.36 397.34 69.7 397.34C90.49 397.34 95.11 408.24 115.9 408.24C133.24 408.24 137.09 397.34 154.43 397.34C175.22 397.34 179.84 408.24 200.63 408.24C217.97 408.24 221.82 397.34 239.16 397.34C259.95 397.34 264.57 408.24 285.36 408.24C302.7 408.24 306.55 397.34 323.89 397.34C344.68 397.34 349.3 408.24 370.09 408.24C387.43 408.24 391.28 397.34 408.62 397.34C429.41 397.34 434.03 408.24 454.82 408.24C472.16 408.24 476.01 397.34 493.35 397.34C514.14 397.34 518.76 408.24 539.55 408.24C556.89 408.24 560.74 397.34 578.08 397.34C598.87 397.34 603.49 408.24 624.28 408.24C641.62 408.24 645.47 397.34 662.81 397.34C683.6 397.34 688.22 408.24 709.01 408.24C726.35 408.24 730.2 397.34 747.54 397.34C768.33 397.34 772.95 408.24 793.74 408.24C811.08 408.24 814.93 397.34 832.27 397.34C853.06 397.34 857.68 408.24 878.47 408.24C895.81 408.24 899.66 397.34 917 397.34C937.79 397.34 942.41 408.24 963.2 408.24C980.54 408.24 984.39 397.34 1001.73 397.34C1022.52 397.34 1027.14 408.24 1047.93 408.24C1065.27 408.24 1069.12 397.34 1086.46 397.34C1107.25 397.34 1111.87 408.24 1132.66 408.24C1150 408.24 1153.85 397.34 1171.19 397.34C1191.98 397.34 1196.6 408.24 1217.39 408.24C1234.73 408.24 1238.58 397.34 1255.92 397.34C1276.71 397.34 1281.33 408.24 1302.12 408.24C1319.46 408.24 1323.31 397.34 1340.65 397.34C1361.44 397.34 1366.06 408.24 1386.85 408.24C1404.19 408.24 1408.04 397.34 1425.38 397.34"/>
<path d="M-99.76 411.93C-78.97 411.93 -74.35 422.83 -53.56 422.83C-36.22 422.83 -32.37 411.93 -15.03 411.93C5.76 411.93 10.38 422.83 31.17 422.83C48.51 422.83 52.36 411.93 69.7 411.93C90.49 411.93 95.11 422.83 115.9 422.83C133.24 422.83 137.09 411.93 154.43 411.93C175.22 411.93 179.84 422.83 200.63 422.83C217.97 422.83 221.82 411.93 239.16 411.93C259.95 411.93 264.57 422.83 285.36 422.83C302.7 422.83 306.55 411.93 323.89 411.93C344.68 411.93 349.3 422.83 370.09 422.83C387.43 422.83 391.28 411.93 408.62 411.93C429.41 411.93 434.03 422.83 454.82 422.83C472.16 422.83 476.01 411.93 493.35 411.93C514.14 411.93 518.76 422.83 539.55 422.83C556.89 422.83 560.74 411.93 578.08 411.93C598.87 411.93 603.49 422.83 624.28 422.83C641.62 422.83 645.47 411.93 662.81 411.93C683.6 411.93 688.22 422.83 709.01 422.83C726.35 422.83 730.2 411.93 747.54 411.93C768.33 411.93 772.95 422.83 793.74 422.83C811.08 422.83 814.93 411.93 832.27 411.93C853.06 411.93 857.68 422.83 878.47 422.83C895.81 422.83 899.66 411.93 917 411.93C937.79 411.93 942.41 422.83 963.2 422.83C980.54 422.83 984.39 411.93 1001.73 411.93C1022.52 411.93 1027.14 422.83 1047.93 422.83C1065.27 422.83 1069.12 411.93 1086.46 411.93C1107.25 411.93 1111.87 422.83 1132.66 422.83C1150 422.83 1153.85 411.93 1171.19 411.93C1191.98 411.93 1196.6 422.83 1217.39 422.83C1234.73 422.83 1238.58 411.93 1255.92 411.93C1276.71 411.93 1281.33 422.83 1302.12 422.83C1319.46 422.83 1323.31 411.93 1340.65 411.93C1361.44 411.93 1366.06 422.83 1386.85 422.83C1404.19 422.83 1408.04 411.93 1425.38 411.93"/>
<path d="M-99.76 426.52C-78.97 426.52 -74.35 437.42 -53.56 437.42C-36.22 437.42 -32.37 426.52 -15.03 426.52C5.76 426.52 10.38 437.42 31.17 437.42C48.51 437.42 52.36 426.52 69.7 426.52C90.49 426.52 95.11 437.42 115.9 437.42C133.24 437.42 137.09 426.52 154.43 426.52C175.22 426.52 179.84 437.42 200.63 437.42C217.97 437.42 221.82 426.52 239.16 426.52C259.95 426.52 264.57 437.42 285.36 437.42C302.7 437.42 306.55 426.52 323.89 426.52C344.68 426.52 349.3 437.42 370.09 437.42C387.43 437.42 391.28 426.52 408.62 426.52C429.41 426.52 434.03 437.42 454.82 437.42C472.16 437.42 476.01 426.52 493.35 426.52C514.14 426.52 518.76 437.42 539.55 437.42C556.89 437.42 560.74 426.52 578.08 426.52C598.87 426.52 603.49 437.42 624.28 437.42C641.62 437.42 645.47 426.52 662.81 426.52C683.6 426.52 688.22 437.42 709.01 437.42C726.35 437.42 730.2 426.52 747.54 426.52C768.33 426.52 772.95 437.42 793.74 437.42C811.08 437.42 814.93 426.52 832.27 426.52C853.06 426.52 857.68 437.42 878.47 437.42C895.81 437.42 899.66 426.52 917 426.52C937.79 426.52 942.41 437.42 963.2 437.42C980.54 437.42 984.39 426.52 1001.73 426.52C1022.52 426.52 1027.14 437.42 1047.93 437.42C1065.27 437.42 1069.12 426.52 1086.46 426.52C1107.25 426.52 1111.87 437.42 1132.66 437.42C1150 437.42 1153.85 426.52 1171.19 426.52C1191.98 426.52 1196.6 437.42 1217.39 437.42C1234.73 437.42 1238.58 426.52 1255.92 426.52C1276.71 426.52 1281.33 437.42 1302.12 437.42C1319.46 437.42 1323.31 426.52 1340.65 426.52C1361.44 426.52 1366.06 437.42 1386.85 437.42C1404.19 437.42 1408.04 426.52 1425.38 426.52"/>
<path d="M-99.76 441.11C-78.97 441.11 -74.35 452.01 -53.56 452.01C-36.22 452.01 -32.37 441.11 -15.03 441.11C5.76 441.11 10.38 452.01 31.17 452.01C48.51 452.01 52.36 441.11 69.7 441.11C90.49 441.11 95.11 452.01 115.9 452.01C133.24 452.01 137.09 441.11 154.43 441.11C175.22 441.11 179.84 452.01 200.63 452.01C217.97 452.01 221.82 441.11 239.16 441.11C259.95 441.11 264.57 452.01 285.36 452.01C302.7 452.01 306.55 441.11 323.89 441.11C344.68 441.11 349.3 452.01 370.09 452.01C387.43 452.01 391.28 441.11 408.62 441.11C429.41 441.11 434.03 452.01 454.82 452.01C472.16 452.01 476.01 441.11 493.35 441.11C514.14 441.11 518.76 452.01 539.55 452.01C556.89 452.01 560.74 441.11 578.08 441.11C598.87 441.11 603.49 452.01 624.28 452.01C641.62 452.01 645.47 441.11 662.81 441.11C683.6 441.11 688.22 452.01 709.01 452.01C726.35 452.01 730.2 441.11 747.54 441.11C768.33 441.11 772.95 452.01 793.74 452.01C811.08 452.01 814.93 441.11 832.27 441.11C853.06 441.11 857.68 452.01 878.47 452.01C895.81 452.01 899.66 441.11 917 441.11C937.79 441.11 942.41 452.01 963.2 452.01C980.54 452.01 984.39 441.11 1001.73 441.11C1022.52 441.11 1027.14 452.01 1047.93 452.01C1065.27 452.01 1069.12 441.11 1086.46 441.11C1107.25 441.11 1111.87 452.01 1132.66 452.01C1150 452.01 1153.85 441.11 1171.19 441.11C1191.98 441.11 1196.6 452.01 1217.39 452.01C1234.73 452.01 1238.58 441.11 1255.92 441.11C1276.71 441.11 1281.33 452.01 1302.12 452.01C1319.46 452.01 1323.31 441.11 1340.65 441.11C1361.44 441.11 1366.06 452.01 1386.85 452.01C1404.19 452.01 1408.04 441.11 1425.38 441.11"/>
<path d="M-99.76 455.7C-78.97 455.7 -74.35 466.6 -53.56 466.6C-36.22 466.6 -32.37 455.7 -15.03 455.7C5.76 455.7 10.38 466.6 31.17 466.6C48.51 466.6 52.36 455.7 69.7 455.7C90.49 455.7 95.11 466.6 115.9 466.6C133.24 466.6 137.09 455.7 154.43 455.7C175.22 455.7 179.84 466.6 200.63 466.6C217.97 466.6 221.82 455.7 239.16 455.7C259.95 455.7 264.57 466.6 285.36 466.6C302.7 466.6 306.55 455.7 323.89 455.7C344.68 455.7 349.3 466.6 370.09 466.6C387.43 466.6 391.28 455.7 408.62 455.7C429.41 455.7 434.03 466.6 454.82 466.6C472.16 466.6 476.01 455.7 493.35 455.7C514.14 455.7 518.76 466.6 539.55 466.6C556.89 466.6 560.74 455.7 578.08 455.7C598.87 455.7 603.49 466.6 624.28 466.6C641.62 466.6 645.47 455.7 662.81 455.7C683.6 455.7 688.22 466.6 709.01 466.6C726.35 466.6 730.2 455.7 747.54 455.7C768.33 455.7 772.95 466.6 793.74 466.6C811.08 466.6 814.93 455.7 832.27 455.7C853.06 455.7 857.68 466.6 878.47 466.6C895.81 466.6 899.66 455.7 917 455.7C937.79 455.7 942.41 466.6 963.2 466.6C980.54 466.6 984.39 455.7 1001.73 455.7C1022.52 455.7 1027.14 466.6 1047.93 466.6C1065.27 466.6 1069.12 455.7 1086.46 455.7C1107.25 455.7 1111.87 466.6 1132.66 466.6C1150 466.6 1153.85 455.7 1171.19 455.7C1191.98 455.7 1196.6 466.6 1217.39 466.6C1234.73 466.6 1238.58 455.7 1255.92 455.7C1276.71 455.7 1281.33 466.6 1302.12 466.6C1319.46 466.6 1323.31 455.7 1340.65 455.7C1361.44 455.7 1366.06 466.6 1386.85 466.6C1404.19 466.6 1408.04 455.7 1425.38 455.7"/>
<path d="M-99.76 470.29C-78.97 470.29 -74.35 481.19 -53.56 481.19C-36.22 481.19 -32.37 470.29 -15.03 470.29C5.76 470.29 10.38 481.19 31.17 481.19C48.51 481.19 52.36 470.29 69.7 470.29C90.49 470.29 95.11 481.19 115.9 481.19C133.24 481.19 137.09 470.29 154.43 470.29C175.22 470.29 179.84 481.19 200.63 481.19C217.97 481.19 221.82 470.29 239.16 470.29C259.95 470.29 264.57 481.19 285.36 481.19C302.7 481.19 306.55 470.29 323.89 470.29C344.68 470.29 349.3 481.19 370.09 481.19C387.43 481.19 391.28 470.29 408.62 470.29C429.41 470.29 434.03 481.19 454.82 481.19C472.16 481.19 476.01 470.29 493.35 470.29C514.14 470.29 518.76 481.19 539.55 481.19C556.89 481.19 560.74 470.29 578.08 470.29C598.87 470.29 603.49 481.19 624.28 481.19C641.62 481.19 645.47 470.29 662.81 470.29C683.6 470.29 688.22 481.19 709.01 481.19C726.35 481.19 730.2 470.29 747.54 470.29C768.33 470.29 772.95 481.19 793.74 481.19C811.08 481.19 814.93 470.29 832.27 470.29C853.06 470.29 857.68 481.19 878.47 481.19C895.81 481.19 899.66 470.29 917 470.29C937.79 470.29 942.41 481.19 963.2 481.19C980.54 481.19 984.39 470.29 1001.73 470.29C1022.52 470.29 1027.14 481.19 1047.93 481.19C1065.27 481.19 1069.12 470.29 1086.46 470.29C1107.25 470.29 1111.87 481.19 1132.66 481.19C1150 481.19 1153.85 470.29 1171.19 470.29C1191.98 470.29 1196.6 481.19 1217.39 481.19C1234.73 481.19 1238.58 470.29 1255.92 470.29C1276.71 470.29 1281.33 481.19 1302.12 481.19C1319.46 481.19 1323.31 470.29 1340.65 470.29C1361.44 470.29 1366.06 481.19 1386.85 481.19C1404.19 481.19 1408.04 470.29 1425.38 470.29"/>
<path d="M-99.76 484.88C-78.97 484.88 -74.35 495.78 -53.56 495.78C-36.22 495.78 -32.37 484.88 -15.03 484.88C5.76 484.88 10.38 495.78 31.17 495.78C48.51 495.78 52.36 484.88 69.7 484.88C90.49 484.88 95.11 495.78 115.9 495.78C133.24 495.78 137.09 484.88 154.43 484.88C175.22 484.88 179.84 495.78 200.63 495.78C217.97 495.78 221.82 484.88 239.16 484.88C259.95 484.88 264.57 495.78 285.36 495.78C302.7 495.78 306.55 484.88 323.89 484.88C344.68 484.88 349.3 495.78 370.09 495.78C387.43 495.78 391.28 484.88 408.62 484.88C429.41 484.88 434.03 495.78 454.82 495.78C472.16 495.78 476.01 484.88 493.35 484.88C514.14 484.88 518.76 495.78 539.55 495.78C556.89 495.78 560.74 484.88 578.08 484.88C598.87 484.88 603.49 495.78 624.28 495.78C641.62 495.78 645.47 484.88 662.81 484.88C683.6 484.88 688.22 495.78 709.01 495.78C726.35 495.78 730.2 484.88 747.54 484.88C768.33 484.88 772.95 495.78 793.74 495.78C811.08 495.78 814.93 484.88 832.27 484.88C853.06 484.88 857.68 495.78 878.47 495.78C895.81 495.78 899.66 484.88 917 484.88C937.79 484.88 942.41 495.78 963.2 495.78C980.54 495.78 984.39 484.88 1001.73 484.88C1022.52 484.88 1027.14 495.78 1047.93 495.78C1065.27 495.78 1069.12 484.88 1086.46 484.88C1107.25 484.88 1111.87 495.78 1132.66 495.78C1150 495.78 1153.85 484.88 1171.19 484.88C1191.98 484.88 1196.6 495.78 1217.39 495.78C1234.73 495.78 1238.58 484.88 1255.92 484.88C1276.71 484.88 1281.33 495.78 1302.12 495.78C1319.46 495.78 1323.31 484.88 1340.65 484.88C1361.44 484.88 1366.06 495.78 1386.85 495.78C1404.19 495.78 1408.04 484.88 1425.38 484.88"/>
<path d="M-99.76 499.47C-78.97 499.47 -74.35 510.37 -53.56 510.37C-36.22 510.37 -32.37 499.47 -15.03 499.47C5.76 499.47 10.38 510.37 31.17 510.37C48.51 510.37 52.36 499.47 69.7 499.47C90.49 499.47 95.11 510.37 115.9 510.37C133.24 510.37 137.09 499.47 154.43 499.47C175.22 499.47 179.84 510.37 200.63 510.37C217.97 510.37 221.82 499.47 239.16 499.47C259.95 499.47 264.57 510.37 285.36 510.37C302.7 510.37 306.55 499.47 323.89 499.47C344.68 499.47 349.3 510.37 370.09 510.37C387.43 510.37 391.28 499.47 408.62 499.47C429.41 499.47 434.03 510.37 454.82 510.37C472.16 510.37 476.01 499.47 493.35 499.47C514.14 499.47 518.76 510.37 539.55 510.37C556.89 510.37 560.74 499.47 578.08 499.47C598.87 499.47 603.49 510.37 624.28 510.37C641.62 510.37 645.47 499.47 662.81 499.47C683.6 499.47 688.22 510.37 709.01 510.37C726.35 510.37 730.2 499.47 747.54 499.47C768.33 499.47 772.95 510.37 793.74 510.37C811.08 510.37 814.93 499.47 832.27 499.47C853.06 499.47 857.68 510.37 878.47 510.37C895.81 510.37 899.66 499.47 917 499.47C937.79 499.47 942.41 510.37 963.2 510.37C980.54 510.37 984.39 499.47 1001.73 499.47C1022.52 499.47 1027.14 510.37 1047.93 510.37C1065.27 510.37 1069.12 499.47 1086.46 499.47C1107.25 499.47 1111.87 510.37 1132.66 510.37C1150 510.37 1153.85 499.47 1171.19 499.47C1191.98 499.47 1196.6 510.37 1217.39 510.37C1234.73 510.37 1238.58 499.47 1255.92 499.47C1276.71 499.47 1281.33 510.37 1302.12 510.37C1319.46 510.37 1323.31 499.47 1340.65 499.47C1361.44 499.47 1366.06 510.37 1386.85 510.37C1404.19 510.37 1408.04 499.47 1425.38 499.47"/>
<path d="M-99.76 514.06C-78.97 514.06 -74.35 524.96 -53.56 524.96C-36.22 524.96 -32.37 514.06 -15.03 514.06C5.76 514.06 10.38 524.96 31.17 524.96C48.51 524.96 52.36 514.06 69.7 514.06C90.49 514.06 95.11 524.96 115.9 524.96C133.24 524.96 137.09 514.06 154.43 514.06C175.22 514.06 179.84 524.96 200.63 524.96C217.97 524.96 221.82 514.06 239.16 514.06C259.95 514.06 264.57 524.96 285.36 524.96C302.7 524.96 306.55 514.06 323.89 514.06C344.68 514.06 349.3 524.96 370.09 524.96C387.43 524.96 391.28 514.06 408.62 514.06C429.41 514.06 434.03 524.96 454.82 524.96C472.16 524.96 476.01 514.06 493.35 514.06C514.14 514.06 518.76 524.96 539.55 524.96C556.89 524.96 560.74 514.06 578.08 514.06C598.87 514.06 603.49 524.96 624.28 524.96C641.62 524.96 645.47 514.06 662.81 514.06C683.6 514.06 688.22 524.96 709.01 524.96C726.35 524.96 730.2 514.06 747.54 514.06C768.33 514.06 772.95 524.96 793.74 524.96C811.08 524.96 814.93 514.06 832.27 514.06C853.06 514.06 857.68 524.96 878.47 524.96C895.81 524.96 899.66 514.06 917 514.06C937.79 514.06 942.41 524.96 963.2 524.96C980.54 524.96 984.39 514.06 1001.73 514.06C1022.52 514.06 1027.14 524.96 1047.93 524.96C1065.27 524.96 1069.12 514.06 1086.46 514.06C1107.25 514.06 1111.87 524.96 1132.66 524.96C1150 524.96 1153.85 514.06 1171.19 514.06C1191.98 514.06 1196.6 524.96 1217.39 524.96C1234.73 524.96 1238.58 514.06 1255.92 514.06C1276.71 514.06 1281.33 524.96 1302.12 524.96C1319.46 524.96 1323.31 514.06 1340.65 514.06C1361.44 514.06 1366.06 524.96 1386.85 524.96C1404.19 524.96 1408.04 514.06 1425.38 514.06"/>
<path d="M-99.76 528.65C-78.97 528.65 -74.35 539.55 -53.56 539.55C-36.22 539.55 -32.37 528.65 -15.03 528.65C5.76 528.65 10.38 539.55 31.17 539.55C48.51 539.55 52.36 528.65 69.7 528.65C90.49 528.65 95.11 539.55 115.9 539.55C133.24 539.55 137.09 528.65 154.43 528.65C175.22 528.65 179.84 539.55 200.63 539.55C217.97 539.55 221.82 528.65 239.16 528.65C259.95 528.65 264.57 539.55 285.36 539.55C302.7 539.55 306.55 528.65 323.89 528.65C344.68 528.65 349.3 539.55 370.09 539.55C387.43 539.55 391.28 528.65 408.62 528.65C429.41 528.65 434.03 539.55 454.82 539.55C472.16 539.55 476.01 528.65 493.35 528.65C514.14 528.65 518.76 539.55 539.55 539.55C556.89 539.55 560.74 528.65 578.08 528.65C598.87 528.65 603.49 539.55 624.28 539.55C641.62 539.55 645.47 528.65 662.81 528.65C683.6 528.65 688.22 539.55 709.01 539.55C726.35 539.55 730.2 528.65 747.54 528.65C768.33 528.65 772.95 539.55 793.74 539.55C811.08 539.55 814.93 528.65 832.27 528.65C853.06 528.65 857.68 539.55 878.47 539.55C895.81 539.55 899.66 528.65 917 528.65C937.79 528.65 942.41 539.55 963.2 539.55C980.54 539.55 984.39 528.65 1001.73 528.65C1022.52 528.65 1027.14 539.55 1047.93 539.55C1065.27 539.55 1069.12 528.65 1086.46 528.65C1107.25 528.65 1111.87 539.55 1132.66 539.55C1150 539.55 1153.85 528.65 1171.19 528.65C1191.98 528.65 1196.6 539.55 1217.39 539.55C1234.73 539.55 1238.58 528.65 1255.92 528.65C1276.71 528.65 1281.33 539.55 1302.12 539.55C1319.46 539.55 1323.31 528.65 1340.65 528.65C1361.44 528.65 1366.06 539.55 1386.85 539.55C1404.19 539.55 1408.04 528.65 1425.38 528.65"/>
<path d="M-99.76 543.24C-78.97 543.24 -74.35 554.14 -53.56 554.14C-36.22 554.14 -32.37 543.24 -15.03 543.24C5.76 543.24 10.38 554.14 31.17 554.14C48.51 554.14 52.36 543.24 69.7 543.24C90.49 543.24 95.11 554.14 115.9 554.14C133.24 554.14 137.09 543.24 154.43 543.24C175.22 543.24 179.84 554.14 200.63 554.14C217.97 554.14 221.82 543.24 239.16 543.24C259.95 543.24 264.57 554.14 285.36 554.14C302.7 554.14 306.55 543.24 323.89 543.24C344.68 543.24 349.3 554.14 370.09 554.14C387.43 554.14 391.28 543.24 408.62 543.24C429.41 543.24 434.03 554.14 454.82 554.14C472.16 554.14 476.01 543.24 493.35 543.24C514.14 543.24 518.76 554.14 539.55 554.14C556.89 554.14 560.74 543.24 578.08 543.24C598.87 543.24 603.49 554.14 624.28 554.14C641.62 554.14 645.47 543.24 662.81 543.24C683.6 543.24 688.22 554.14 709.01 554.14C726.35 554.14 730.2 543.24 747.54 543.24C768.33 543.24 772.95 554.14 793.74 554.14C811.08 554.14 814.93 543.24 832.27 543.24C853.06 543.24 857.68 554.14 878.47 554.14C895.81 554.14 899.66 543.24 917 543.24C937.79 543.24 942.41 554.14 963.2 554.14C980.54 554.14 984.39 543.24 1001.73 543.24C1022.52 543.24 1027.14 554.14 1047.93 554.14C1065.27 554.14 1069.12 543.24 1086.46 543.24C1107.25 543.24 1111.87 554.14 1132.66 554.14C1150 554.14 1153.85 543.24 1171.19 543.24C1191.98 543.24 1196.6 554.14 1217.39 554.14C1234.73 554.14 1238.58 543.24 1255.92 543.24C1276.71 543.24 1281.33 554.14 1302.12 554.14C1319.46 554.14 1323.31 543.24 1340.65 543.24C1361.44 543.24 1366.06 554.14 1386.85 554.14C1404.19 554.14 1408.04 543.24 1425.38 543.24"/>
<path d="M-99.76 557.83C-78.97 557.83 -74.35 568.73 -53.56 568.73C-36.22 568.73 -32.37 557.83 -15.03 557.83C5.76 557.83 10.38 568.73 31.17 568.73C48.51 568.73 52.36 557.83 69.7 557.83C90.49 557.83 95.11 568.73 115.9 568.73C133.24 568.73 137.09 557.83 154.43 557.83C175.22 557.83 179.84 568.73 200.63 568.73C217.97 568.73 221.82 557.83 239.16 557.83C259.95 557.83 264.57 568.73 285.36 568.73C302.7 568.73 306.55 557.83 323.89 557.83C344.68 557.83 349.3 568.73 370.09 568.73C387.43 568.73 391.28 557.83 408.62 557.83C429.41 557.83 434.03 568.73 454.82 568.73C472.16 568.73 476.01 557.83 493.35 557.83C514.14 557.83 518.76 568.73 539.55 568.73C556.89 568.73 560.74 557.83 578.08 557.83C598.87 557.83 603.49 568.73 624.28 568.73C641.62 568.73 645.47 557.83 662.81 557.83C683.6 557.83 688.22 568.73 709.01 568.73C726.35 568.73 730.2 557.83 747.54 557.83C768.33 557.83 772.95 568.73 793.74 568.73C811.08 568.73 814.93 557.83 832.27 557.83C853.06 557.83 857.68 568.73 878.47 568.73C895.81 568.73 899.66 557.83 917 557.83C937.79 557.83 942.41 568.73 963.2 568.73C980.54 568.73 984.39 557.83 1001.73 557.83C1022.52 557.83 1027.14 568.73 1047.93 568.73C1065.27 568.73 1069.12 557.83 1086.46 557.83C1107.25 557.83 1111.87 568.73 1132.66 568.73C1150 568.73 1153.85 557.83 1171.19 557.83C1191.98 557.83 1196.6 568.73 1217.39 568.73C1234.73 568.73 1238.58 557.83 1255.92 557.83C1276.71 557.83 1281.33 568.73 1302.12 568.73C1319.46 568.73 1323.31 557.83 1340.65 557.83C1361.44 557.83 1366.06 568.73 1386.85 568.73C1404.19 568.73 1408.04 557.83 1425.38 557.83"/>
<path d="M-99.76 572.42C-78.97 572.42 -74.35 583.32 -53.56 583.32C-36.22 583.32 -32.37 572.42 -15.03 572.42C5.76 572.42 10.38 583.32 31.17 583.32C48.51 583.32 52.36 572.42 69.7 572.42C90.49 572.42 95.11 583.32 115.9 583.32C133.24 583.32 137.09 572.42 154.43 572.42C175.22 572.42 179.84 583.32 200.63 583.32C217.97 583.32 221.82 572.42 239.16 572.42C259.95 572.42 264.57 583.32 285.36 583.32C302.7 583.32 306.55 572.42 323.89 572.42C344.68 572.42 349.3 583.32 370.09 583.32C387.43 583.32 391.28 572.42 408.62 572.42C429.41 572.42 434.03 583.32 454.82 583.32C472.16 583.32 476.01 572.42 493.35 572.42C514.14 572.42 518.76 583.32 539.55 583.32C556.89 583.32 560.74 572.42 578.08 572.42C598.87 572.42 603.49 583.32 624.28 583.32C641.62 583.32 645.47 572.42 662.81 572.42C683.6 572.42 688.22 583.32 709.01 583.32C726.35 583.32 730.2 572.42 747.54 572.42C768.33 572.42 772.95 583.32 793.74 583.32C811.08 583.32 814.93 572.42 832.27 572.42C853.06 572.42 857.68 583.32 878.47 583.32C895.81 583.32 899.66 572.42 917 572.42C937.79 572.42 942.41 583.32 963.2 583.32C980.54 583.32 984.39 572.42 1001.73 572.42C1022.52 572.42 1027.14 583.32 1047.93 583.32C1065.27 583.32 1069.12 572.42 1086.46 572.42C1107.25 572.42 1111.87 583.32 1132.66 583.32C1150 583.32 1153.85 572.42 1171.19 572.42C1191.98 572.42 1196.6 583.32 1217.39 583.32C1234.73 583.32 1238.58 572.42 1255.92 572.42C1276.71 572.42 1281.33 583.32 1302.12 583.32C1319.46 583.32 1323.31 572.42 1340.65 572.42C1361.44 572.42 1366.06 583.32 1386.85 583.32C1404.19 583.32 1408.04 572.42 1425.38 572.42"/>
<path d="M-99.76 587.01C-78.97 587.01 -74.35 597.91 -53.56 597.91C-36.22 597.91 -32.37 587.01 -15.03 587.01C5.76 587.01 10.38 597.91 31.17 597.91C48.51 597.91 52.36 587.01 69.7 587.01C90.49 587.01 95.11 597.91 115.9 597.91C133.24 597.91 137.09 587.01 154.43 587.01C175.22 587.01 179.84 597.91 200.63 597.91C217.97 597.91 221.82 587.01 239.16 587.01C259.95 587.01 264.57 597.91 285.36 597.91C302.7 597.91 306.55 587.01 323.89 587.01C344.68 587.01 349.3 597.91 370.09 597.91C387.43 597.91 391.28 587.01 408.62 587.01C429.41 587.01 434.03 597.91 454.82 597.91C472.16 597.91 476.01 587.01 493.35 587.01C514.14 587.01 518.76 597.91 539.55 597.91C556.89 597.91 560.74 587.01 578.08 587.01C598.87 587.01 603.49 597.91 624.28 597.91C641.62 597.91 645.47 587.01 662.81 587.01C683.6 587.01 688.22 597.91 709.01 597.91C726.35 597.91 730.2 587.01 747.54 587.01C768.33 587.01 772.95 597.91 793.74 597.91C811.08 597.91 814.93 587.01 832.27 587.01C853.06 587.01 857.68 597.91 878.47 597.91C895.81 597.91 899.66 587.01 917 587.01C937.79 587.01 942.41 597.91 963.2 597.91C980.54 597.91 984.39 587.01 1001.73 587.01C1022.52 587.01 1027.14 597.91 1047.93 597.91C1065.27 597.91 1069.12 587.01 1086.46 587.01C1107.25 587.01 1111.87 597.91 1132.66 597.91C1150 597.91 1153.85 587.01 1171.19 587.01C1191.98 587.01 1196.6 597.91 1217.39 597.91C1234.73 597.91 1238.58 587.01 1255.92 587.01C1276.71 587.01 1281.33 597.91 1302.12 597.91C1319.46 597.91 1323.31 587.01 1340.65 587.01C1361.44 587.01 1366.06 597.91 1386.85 597.91C1404.19 597.91 1408.04 587.01 1425.38 587.01"/>
<path d="M-99.76 601.6C-78.97 601.6 -74.35 612.5 -53.56 612.5C-36.22 612.5 -32.37 601.6 -15.03 601.6C5.76 601.6 10.38 612.5 31.17 612.5C48.51 612.5 52.36 601.6 69.7 601.6C90.49 601.6 95.11 612.5 115.9 612.5C133.24 612.5 137.09 601.6 154.43 601.6C175.22 601.6 179.84 612.5 200.63 612.5C217.97 612.5 221.82 601.6 239.16 601.6C259.95 601.6 264.57 612.5 285.36 612.5C302.7 612.5 306.55 601.6 323.89 601.6C344.68 601.6 349.3 612.5 370.09 612.5C387.43 612.5 391.28 601.6 408.62 601.6C429.41 601.6 434.03 612.5 454.82 612.5C472.16 612.5 476.01 601.6 493.35 601.6C514.14 601.6 518.76 612.5 539.55 612.5C556.89 612.5 560.74 601.6 578.08 601.6C598.87 601.6 603.49 612.5 624.28 612.5C641.62 612.5 645.47 601.6 662.81 601.6C683.6 601.6 688.22 612.5 709.01 612.5C726.35 612.5 730.2 601.6 747.54 601.6C768.33 601.6 772.95 612.5 793.74 612.5C811.08 612.5 814.93 601.6 832.27 601.6C853.06 601.6 857.68 612.5 878.47 612.5C895.81 612.5 899.66 601.6 917 601.6C937.79 601.6 942.41 612.5 963.2 612.5C980.54 612.5 984.39 601.6 1001.73 601.6C1022.52 601.6 1027.14 612.5 1047.93 612.5C1065.27 612.5 1069.12 601.6 1086.46 601.6C1107.25 601.6 1111.87 612.5 1132.66 612.5C1150 612.5 1153.85 601.6 1171.19 601.6C1191.98 601.6 1196.6 612.5 1217.39 612.5C1234.73 612.5 1238.58 601.6 1255.92 601.6C1276.71 601.6 1281.33 612.5 1302.12 612.5C1319.46 612.5 1323.31 601.6 1340.65 601.6C1361.44 601.6 1366.06 612.5 1386.85 612.5C1404.19 612.5 1408.04 601.6 1425.38 601.6"/>
<path d="M-99.76 616.19C-78.97 616.19 -74.35 627.09 -53.56 627.09C-36.22 627.09 -32.37 616.19 -15.03 616.19C5.76 616.19 10.38 627.09 31.17 627.09C48.51 627.09 52.36 616.19 69.7 616.19C90.49 616.19 95.11 627.09 115.9 627.09C133.24 627.09 137.09 616.19 154.43 616.19C175.22 616.19 179.84 627.09 200.63 627.09C217.97 627.09 221.82 616.19 239.16 616.19C259.95 616.19 264.57 627.09 285.36 627.09C302.7 627.09 306.55 616.19 323.89 616.19C344.68 616.19 349.3 627.09 370.09 627.09C387.43 627.09 391.28 616.19 408.62 616.19C429.41 616.19 434.03 627.09 454.82 627.09C472.16 627.09 476.01 616.19 493.35 616.19C514.14 616.19 518.76 627.09 539.55 627.09C556.89 627.09 560.74 616.19 578.08 616.19C598.87 616.19 603.49 627.09 624.28 627.09C641.62 627.09 645.47 616.19 662.81 616.19C683.6 616.19 688.22 627.09 709.01 627.09C726.35 627.09 730.2 616.19 747.54 616.19C768.33 616.19 772.95 627.09 793.74 627.09C811.08 627.09 814.93 616.19 832.27 616.19C853.06 616.19 857.68 627.09 878.47 627.09C895.81 627.09 899.66 616.19 917 616.19C937.79 616.19 942.41 627.09 963.2 627.09C980.54 627.09 984.39 616.19 1001.73 616.19C1022.52 616.19 1027.14 627.09 1047.93 627.09C1065.27 627.09 1069.12 616.19 1086.46 616.19C1107.25 616.19 1111.87 627.09 1132.66 627.09C1150 627.09 1153.85 616.19 1171.19 616.19C1191.98 616.19 1196.6 627.09 1217.39 627.09C1234.73 627.09 1238.58 616.19 1255.92 616.19C1276.71 616.19 1281.33 627.09 1302.12 627.09C1319.46 627.09 1323.31 616.19 1340.65 616.19C1361.44 616.19 1366.06 627.09 1386.85 627.09C1404.19 627.09 1408.04 616.19 1425.38 616.19"/>
<path d="M-99.76 630.78C-78.97 630.78 -74.35 641.68 -53.56 641.68C-36.22 641.68 -32.37 630.78 -15.03 630.78C5.76 630.78 10.38 641.68 31.17 641.68C48.51 641.68 52.36 630.78 69.7 630.78C90.49 630.78 95.11 641.68 115.9 641.68C133.24 641.68 137.09 630.78 154.43 630.78C175.22 630.78 179.84 641.68 200.63 641.68C217.97 641.68 221.82 630.78 239.16 630.78C259.95 630.78 264.57 641.68 285.36 641.68C302.7 641.68 306.55 630.78 323.89 630.78C344.68 630.78 349.3 641.68 370.09 641.68C387.43 641.68 391.28 630.78 408.62 630.78C429.41 630.78 434.03 641.68 454.82 641.68C472.16 641.68 476.01 630.78 493.35 630.78C514.14 630.78 518.76 641.68 539.55 641.68C556.89 641.68 560.74 630.78 578.08 630.78C598.87 630.78 603.49 641.68 624.28 641.68C641.62 641.68 645.47 630.78 662.81 630.78C683.6 630.78 688.22 641.68 709.01 641.68C726.35 641.68 730.2 630.78 747.54 630.78C768.33 630.78 772.95 641.68 793.74 641.68C811.08 641.68 814.93 630.78 832.27 630.78C853.06 630.78 857.68 641.68 878.47 641.68C895.81 641.68 899.66 630.78 917 630.78C937.79 630.78 942.41 641.68 963.2 641.68C980.54 641.68 984.39 630.78 1001.73 630.78C1022.52 630.78 1027.14 641.68 1047.93 641.68C1065.27 641.68 1069.12 630.78 1086.46 630.78C1107.25 630.78 1111.87 641.68 1132.66 641.68C1150 641.68 1153.85 630.78 1171.19 630.78C1191.98 630.78 1196.6 641.68 1217.39 641.68C1234.73 641.68 1238.58 630.78 1255.92 630.78C1276.71 630.78 1281.33 641.68 1302.12 641.68C1319.46 641.68 1323.31 630.78 1340.65 630.78C1361.44 630.78 1366.06 641.68 1386.85 641.68C1404.19 641.68 1408.04 630.78 1425.38 630.78"/>
<path d="M-99.76 645.37C-78.97 645.37 -74.35 656.27 -53.56 656.27C-36.22 656.27 -32.37 645.37 -15.03 645.37C5.76 645.37 10.38 656.27 31.17 656.27C48.51 656.27 52.36 645.37 69.7 645.37C90.49 645.37 95.11 656.27 115.9 656.27C133.24 656.27 137.09 645.37 154.43 645.37C175.22 645.37 179.84 656.27 200.63 656.27C217.97 656.27 221.82 645.37 239.16 645.37C259.95 645.37 264.57 656.27 285.36 656.27C302.7 656.27 306.55 645.37 323.89 645.37C344.68 645.37 349.3 656.27 370.09 656.27C387.43 656.27 391.28 645.37 408.62 645.37C429.41 645.37 434.03 656.27 454.82 656.27C472.16 656.27 476.01 645.37 493.35 645.37C514.14 645.37 518.76 656.27 539.55 656.27C556.89 656.27 560.74 645.37 578.08 645.37C598.87 645.37 603.49 656.27 624.28 656.27C641.62 656.27 645.47 645.37 662.81 645.37C683.6 645.37 688.22 656.27 709.01 656.27C726.35 656.27 730.2 645.37 747.54 645.37C768.33 645.37 772.95 656.27 793.74 656.27C811.08 656.27 814.93 645.37 832.27 645.37C853.06 645.37 857.68 656.27 878.47 656.27C895.81 656.27 899.66 645.37 917 645.37C937.79 645.37 942.41 656.27 963.2 656.27C980.54 656.27 984.39 645.37 1001.73 645.37C1022.52 645.37 1027.14 656.27 1047.93 656.27C1065.27 656.27 1069.12 645.37 1086.46 645.37C1107.25 645.37 1111.87 656.27 1132.66 656.27C1150 656.27 1153.85 645.37 1171.19 645.37C1191.98 645.37 1196.6 656.27 1217.39 656.27C1234.73 656.27 1238.58 645.37 1255.92 645.37C1276.71 645.37 1281.33 656.27 1302.12 656.27C1319.46 656.27 1323.31 645.37 1340.65 645.37C1361.44 645.37 1366.06 656.27 1386.85 656.27C1404.19 656.27 1408.04 645.37 1425.38 645.37"/>
</g>
<g fill="#c7c8ca" stroke="#231f20" stroke-width="5.2" stroke-linejoin="miter">
<rect x="134.1" y="146.35" width="412.3" height="357.45"/>
<rect x="546.4" y="146.35" width="467" height="165.65"/>
<rect x="546.4" y="338" width="467" height="165.8"/>
<rect x="1013.4" y="146.35" width="178.9" height="357.45"/>
<rect x="134.1" y="503.8" width="68.6" height="151.2"/>
<rect x="202.7" y="503.8" width="137.3" height="109.9"/>
<rect x="202.7" y="613.7" width="137.3" height="41.3"/>
<rect x="340" y="503.8" width="206.4" height="151.2"/>
<rect x="546.4" y="503.8" width="40.9" height="151.2"/>
<rect x="587.3" y="517.6" width="41" height="137.4"/>
<rect x="656.1" y="517.6" width="247.2" height="137.4"/>
</g>
<path d="M51.5 8.95H1274.5V523.1H917.9V655H51.5Z" fill="none" stroke="#231f20" stroke-width="5.3" stroke-linejoin="miter"/>
<path d="M546.4 312.5H1013.4" stroke="#231f20" stroke-width="8.4" fill="none"/>
<path d="M920 525H1192.7V547.5H953.5V681H133.9V657H920Z" fill="#939598" stroke="#58595b" stroke-width="1.1" stroke-linejoin="round"/>
<rect x="133.6" y="656" width="786.9" height="3.6" fill="#414042"/>
<path d="M1274.5 523.1H917.9V655H51.5" fill="none" stroke="#231f20" stroke-width="5.2"/>
<path d="M134.4 720.4L137.4 720.4L140.4 720.3L143.4 720.2L146.4 720.2L149.4 720.1L152.4 720.1L155.4 720.1L158.4 720.0L161.4 720.0L164.4 720.0L167.4 720.0L170.4 719.9L173.4 719.9L176.4 719.9L179.4 719.9L182.4 719.9L185.4 720.0L188.4 720.0L191.4 720.0L194.4 720.0L197.4 720.0L200.4 720.0L203.4 720.0L206.4 720.0L209.4 720.0L212.4 720.0L215.4 720.0L218.4 720.0L221.4 720.0L224.4 720.0L227.4 720.0L230.4 720.0L233.4 720.0L236.4 720.0L239.4 720.0L242.4 720.0L245.4 720.0L248.4 720.0L251.4 720.0L254.4 720.0L257.4 720.0L260.4 720.1L263.4 720.1L266.4 720.1L269.4 720.1L272.4 720.1L275.4 720.1L278.4 720.1L281.4 720.1L284.4 720.0L287.4 720.0L290.4 720.0L293.4 720.0L296.4 720.0L299.4 720.0L302.4 720.0L305.4 720.0L308.4 720.0L311.4 720.0L314.4 720.0L317.4 720.0L320.4 720.0L323.4 720.0L326.4 720.0L329.4 720.0L332.4 720.0L335.4 720.0L338.4 720.0L341.4 720.0L344.4 719.9L347.4 719.9L350.4 719.9L353.4 719.9L356.4 719.9L359.4 719.9L362.4 719.8L365.4 719.8L368.4 719.8L371.4 719.7L374.4 719.7L377.4 719.6L380.4 719.5L383.4 719.4L386.4 719.3L389.4 719.1L392.4 718.8L395.4 718.5L397.6 718.0L399.9 717.5L402.1 716.5L404.1 715.2L405.6 713.5L406.9 710.9L407.6 707.9L408.1 704.3L408.4 701.4L408.6 696.6L408.9 686.7L409.1 681.0M134.4 716.5L137.4 716.4L140.4 716.2L143.4 716.1L146.4 716.0L149.4 715.9L152.4 715.8L155.4 715.8L158.4 715.7L161.4 715.6L164.4 715.6L167.4 715.6L170.4 715.5L173.4 715.5L176.4 715.5L179.4 715.5L182.4 715.5L185.4 715.6L188.4 715.6L191.4 715.6L194.4 715.6L197.4 715.6L200.4 715.6L203.4 715.6L206.4 715.7L209.4 715.7L212.4 715.7L215.4 715.7L218.4 715.7L221.4 715.7L224.4 715.7L227.4 715.7L230.4 715.7L233.4 715.7L236.4 715.7L239.4 715.7L242.4 715.7L245.4 715.7L248.4 715.7L251.4 715.7L254.4 715.7L257.4 715.8L260.4 715.8L263.4 715.8L266.4 715.8L269.4 715.8L272.4 715.7L275.4 715.7L278.4 715.7L281.4 715.7L284.4 715.7L287.4 715.7L290.4 715.7L293.4 715.7L296.4 715.7L299.4 715.7L302.4 715.7L305.4 715.7L308.4 715.7L311.4 715.7L314.4 715.6L317.4 715.6L320.4 715.6L323.4 715.6L326.4 715.6L329.4 715.6L332.4 715.5L335.4 715.5L338.4 715.5L341.4 715.5L344.4 715.4L347.4 715.4L350.4 715.4L353.4 715.3L356.4 715.3L359.4 715.2L362.4 715.2L365.4 715.1L368.4 715.0L371.4 714.9L374.4 714.8L377.4 714.6L380.4 714.4L383.4 714.2L386.4 713.8L389.4 713.4L392.4 712.7L395.4 711.9L397.6 710.9L399.6 709.8L401.4 708.4L402.9 706.7L404.1 704.7L405.1 702.5L405.9 700.1L406.6 696.8L407.1 693.6L407.6 689.0L407.9 685.8L408.1 681.4L408.4 681.0M134.4 712.5L137.4 712.3L140.4 712.1L143.4 711.9L146.4 711.8L149.4 711.6L152.4 711.5L155.4 711.4L158.4 711.4L161.4 711.3L164.4 711.2L167.4 711.2L170.4 711.1L173.4 711.1L176.4 711.1L179.4 711.1L182.4 711.1L185.4 711.2L188.4 711.2L191.4 711.2L194.4 711.2L197.4 711.3L200.4 711.3L203.4 711.3L206.4 711.3L209.4 711.3L212.4 711.4L215.4 711.4L218.4 711.4L221.4 711.4L224.4 711.4L227.4 711.4L230.4 711.4L233.4 711.4L236.4 711.4L239.4 711.4L242.4 711.4L245.4 711.4L248.4 711.4L251.4 711.4L254.4 711.5L257.4 711.5L260.4 711.4L263.4 711.4L266.4 711.4L269.4 711.4L272.4 711.4L275.4 711.4L278.4 711.4L281.4 711.4L284.4 711.4L287.4 711.4L290.4 711.4L293.4 711.3L296.4 711.3L299.4 711.3L302.4 711.3L305.4 711.3L308.4 711.3L311.4 711.2L314.4 711.2L317.4 711.2L320.4 711.2L323.4 711.1L326.4 711.1L329.4 711.1L332.4 711.0L335.4 711.0L338.4 711.0L341.4 710.9L344.4 710.9L347.4 710.8L350.4 710.7L353.4 710.6L356.4 710.6L359.4 710.5L362.4 710.3L365.4 710.2L368.4 710.0L371.4 709.8L374.4 709.6L377.4 709.3L380.4 708.9L383.4 708.5L386.4 707.9L389.4 707.1L392.4 706.0L394.4 705.1L396.4 703.9L398.1 702.5L399.9 700.8L401.4 698.8L402.6 696.5L403.6 694.2L404.4 692.0L405.1 689.2L405.6 686.8L406.1 683.9L406.6 681.0M134.4 708.6L137.4 708.3L140.4 708.1L143.4 707.8L146.4 707.6L149.4 707.4L152.4 707.2L155.4 707.1L158.4 707.0L161.4 706.9L164.4 706.8L167.4 706.8L170.4 706.7L173.4 706.7L176.4 706.7L179.4 706.7L182.4 706.7L185.4 706.8L188.4 706.8L191.4 706.8L194.4 706.9L197.4 706.9L200.4 706.9L203.4 707.0L206.4 707.0L209.4 707.0L212.4 707.0L215.4 707.1L218.4 707.1L221.4 707.1L224.4 707.1L227.4 707.1L230.4 707.1L233.4 707.1L236.4 707.1L239.4 707.1L242.4 707.1L245.4 707.1L248.4 707.1L251.4 707.1L254.4 707.1L257.4 707.1L260.4 707.1L263.4 707.1L266.4 707.1L269.4 707.1L272.4 707.1L275.4 707.1L278.4 707.0L281.4 707.0L284.4 707.0L287.4 707.0L290.4 707.0L293.4 706.9L296.4 706.9L299.4 706.9L302.4 706.9L305.4 706.8L308.4 706.8L311.4 706.8L314.4 706.7L317.4 706.7L320.4 706.6L323.4 706.6L326.4 706.5L329.4 706.5L332.4 706.4L335.4 706.4L338.4 706.3L341.4 706.2L344.4 706.1L347.4 706.0L350.4 705.9L353.4 705.8L356.4 705.7L359.4 705.5L362.4 705.3L365.4 705.1L368.4 704.8L371.4 704.5L374.4 704.1L377.4 703.7L380.4 703.1L383.4 702.4L386.4 701.5L389.4 700.3L391.4 699.3L393.4 698.0L395.4 696.5L397.4 694.5L398.9 692.6L400.1 690.6L401.4 688.2L402.4 685.7L403.1 683.5L403.9 681.0M134.4 704.6L137.4 704.3L140.4 704.0L143.4 703.6L146.4 703.3L149.4 703.1L152.4 703.0L155.4 702.8L158.4 702.7L161.4 702.6L164.4 702.5L167.4 702.4L170.4 702.3L173.4 702.3L176.4 702.3L179.4 702.3L182.4 702.4L185.4 702.4L188.4 702.4L191.4 702.5L194.4 702.5L197.4 702.6L200.4 702.6L203.4 702.6L206.4 702.7L209.4 702.7L212.4 702.8L215.4 702.8L218.4 702.8L221.4 702.8L224.4 702.8L227.4 702.8L230.4 702.8L233.4 702.8L236.4 702.8L239.4 702.8L242.4 702.8L245.4 702.8L248.4 702.8L251.4 702.8L254.4 702.8L257.4 702.8L260.4 702.8L263.4 702.8L266.4 702.7L269.4 702.7L272.4 702.7L275.4 702.7L278.4 702.6L281.4 702.6L284.4 702.6L287.4 702.5L290.4 702.5L293.4 702.5L296.4 702.4L299.4 702.4L302.4 702.4L305.4 702.3L308.4 702.3L311.4 702.2L314.4 702.2L317.4 702.1L320.4 702.0L323.4 702.0L326.4 701.9L329.4 701.8L332.4 701.7L335.4 701.7L338.4 701.5L341.4 701.4L344.4 701.3L347.4 701.2L350.4 701.0L353.4 700.8L356.4 700.6L359.4 700.4L362.4 700.1L365.4 699.8L368.4 699.4L371.4 698.9L374.4 698.4L377.4 697.7L380.4 696.9L383.4 695.9L386.4 694.6L388.4 693.6L390.4 692.3L392.4 690.8L394.4 688.9L396.4 686.6L397.9 684.4L399.1 682.1L399.9 681.0M134.4 700.6L137.4 700.3L140.4 699.9L143.4 699.5L146.4 699.1L149.4 698.9L152.4 698.7L155.4 698.5L158.4 698.4L161.4 698.2L164.4 698.1L167.4 698.0L170.4 697.9L173.4 697.9L176.4 697.9L179.4 698.0L182.4 698.0L185.4 698.0L188.4 698.1L191.4 698.2L194.4 698.2L197.4 698.3L200.4 698.3L203.4 698.3L206.4 698.4L209.4 698.4L212.4 698.5L215.4 698.5L218.4 698.5L221.4 698.5L224.4 698.6L227.4 698.6L230.4 698.6L233.4 698.5L236.4 698.5L239.4 698.5L242.4 698.5L245.4 698.5L248.4 698.5L251.4 698.5L254.4 698.5L257.4 698.4L260.4 698.4L263.4 698.4L266.4 698.3L269.4 698.3L272.4 698.3L275.4 698.2L278.4 698.2L281.4 698.2L284.4 698.1L287.4 698.1L290.4 698.0L293.4 698.0L296.4 697.9L299.4 697.9L302.4 697.8L305.4 697.7L308.4 697.7L311.4 697.6L314.4 697.5L317.4 697.5L320.4 697.4L323.4 697.3L326.4 697.2L329.4 697.1L332.4 697.0L335.4 696.8L338.4 696.7L341.4 696.5L344.4 696.4L347.4 696.2L350.4 695.9L353.4 695.7L356.4 695.4L359.4 695.0L362.4 694.7L365.4 694.2L368.4 693.7L371.4 693.1L374.4 692.3L377.4 691.4L380.4 690.3L383.4 689.0L385.4 687.9L387.4 686.7L389.4 685.2L391.4 683.4L393.4 681.2L394.4 681.0M134.4 696.0L137.4 695.6L140.4 695.1L143.4 694.7L146.4 694.3L149.4 693.9L152.4 693.7L155.4 693.5L158.4 693.3L161.4 693.2L164.4 693.0L167.4 692.9L170.4 692.9L173.4 692.8L176.4 692.9L179.4 692.9L182.4 692.9L185.4 693.0L188.4 693.1L191.4 693.1L194.4 693.2L197.4 693.3L200.4 693.3L203.4 693.3L206.4 693.4L209.4 693.4L212.4 693.5L215.4 693.5L218.4 693.5L221.4 693.5L224.4 693.6L227.4 693.5L230.4 693.5L233.4 693.5L236.4 693.5L239.4 693.5L242.4 693.5L245.4 693.4L248.4 693.4L251.4 693.4L254.4 693.3L257.4 693.3L260.4 693.3L263.4 693.2L266.4 693.2L269.4 693.1L272.4 693.1L275.4 693.0L278.4 693.0L281.4 692.9L284.4 692.8L287.4 692.8L290.4 692.7L293.4 692.6L296.4 692.6L299.4 692.5L302.4 692.4L305.4 692.3L308.4 692.3L311.4 692.2L314.4 692.1L317.4 692.0L320.4 691.8L323.4 691.7L326.4 691.6L329.4 691.4L332.4 691.3L335.4 691.1L338.4 690.9L341.4 690.7L344.4 690.4L347.4 690.1L350.4 689.8L353.4 689.5L356.4 689.1L359.4 688.6L362.4 688.1L365.4 687.5L368.4 686.7L371.4 685.9L374.4 684.9L377.4 683.7L379.4 682.8L381.4 681.7L383.4 681.0M134.4 691.2L137.4 690.7L140.4 690.2L143.4 689.7L146.4 689.2L149.4 688.9L152.4 688.6L155.4 688.4L158.4 688.2L161.4 688.0L164.4 687.8L167.4 687.7L170.4 687.6L173.4 687.6L176.4 687.6L179.4 687.6L182.4 687.7L185.4 687.8L188.4 687.8L191.4 687.9L194.4 688.0L197.4 688.1L200.4 688.1L203.4 688.1L206.4 688.2L209.4 688.2L212.4 688.3L215.4 688.3L218.4 688.3L221.4 688.3L224.4 688.3L227.4 688.3L230.4 688.3L233.4 688.3L236.4 688.2L239.4 688.2L242.4 688.2L245.4 688.1L248.4 688.1L251.4 688.0L254.4 688.0L257.4 687.9L260.4 687.9L263.4 687.8L266.4 687.7L269.4 687.7L272.4 687.6L275.4 687.5L278.4 687.5L281.4 687.4L284.4 687.3L287.4 687.2L290.4 687.1L293.4 687.0L296.4 687.0L299.4 686.9L302.4 686.8L305.4 686.6L308.4 686.5L311.4 686.4L314.4 686.3L317.4 686.1L320.4 686.0L323.4 685.8L326.4 685.6L329.4 685.4L332.4 685.2L335.4 685.0L338.4 684.7L341.4 684.4L344.4 684.1L347.4 683.7L350.4 683.3L353.4 682.8L356.4 682.3L359.4 681.7L362.4 681.0M409.5 681.0L409.5 683.5L409.5 686.0L409.6 688.5L409.6 691.0L409.7 693.5L409.8 696.0L409.9 698.5L410.1 701.0L410.3 703.5L410.6 706.0L411.1 708.5L411.9 711.0L412.9 713.0L414.6 715.0L416.8 716.5L419.1 717.5L422.7 718.5L425.2 719.0L428.5 719.5L433.0 720.0L439.2 720.5L442.0 720.6L445.0 720.7L448.0 720.8L451.0 720.8L454.0 720.9L457.0 721.0L460.0 721.0L463.0 721.1L466.0 721.1L469.0 721.2L472.0 721.2L475.0 721.3L478.0 721.3L481.0 721.4L484.0 721.4L487.0 721.4L490.0 721.5L493.0 721.5L496.0 721.6L499.0 721.6L502.0 721.6L505.0 721.7L508.0 721.7L511.0 721.7L514.0 721.8L517.0 721.8L520.0 721.8L523.0 721.8L526.0 721.9L529.0 721.9L532.0 721.9L535.0 721.9L538.0 721.9L541.0 721.9L544.0 721.9L547.0 721.9L550.0 721.9L553.0 721.9L556.0 721.9L559.0 721.9L562.0 721.9L565.0 721.9L568.0 721.9L571.0 721.9L574.0 721.9L577.0 721.8L580.0 721.8L583.0 721.8L586.0 721.8L589.0 721.7L592.0 721.7L595.0 721.7L598.0 721.7L601.0 721.6L604.0 721.6L607.0 721.6L610.0 721.5L613.0 721.5L616.0 721.4L619.0 721.4L622.0 721.4L625.0 721.3L628.0 721.3L631.0 721.2L634.0 721.2L637.0 721.2L640.0 721.1L643.0 721.1L646.0 721.0L649.0 721.0L652.0 721.0L655.0 721.0L658.0 721.0L661.0 721.0L664.0 721.0L667.0 721.0L670.0 721.0L673.0 721.0L676.0 721.1L679.0 721.1L682.0 721.2L685.0 721.2L688.0 721.2L691.0 721.3L694.0 721.3L697.0 721.3L700.0 721.4L703.0 721.4L706.0 721.4L709.0 721.5L712.0 721.5L715.0 721.5L718.0 721.5L721.0 721.6L724.0 721.6L727.0 721.6L730.0 721.6L733.0 721.6L736.0 721.7L739.0 721.7L742.0 721.7L745.0 721.7L748.0 721.7L751.0 721.7L754.0 721.8L757.0 721.8L760.0 721.8L763.0 721.8L766.0 721.8L769.0 721.8L772.0 721.8L775.0 721.9L778.0 721.9L781.0 721.9L784.0 721.9L787.0 721.9L790.0 721.9L793.0 721.9L796.0 721.9L799.0 721.9L802.0 722.0L805.0 722.0L808.0 722.0L811.0 722.0L814.0 722.0L817.0 722.0L820.0 722.0L823.0 722.0L826.0 722.0L829.0 722.0L832.0 722.0L835.0 722.0L838.0 722.1L841.0 722.1L844.0 722.1L847.0 722.1L850.0 722.1L853.0 722.1L856.0 722.1L859.0 722.1L862.0 722.1L865.0 722.1L868.0 722.1L871.0 722.1L874.0 722.1L877.0 722.1L880.0 722.1L883.0 722.1L886.0 722.1L889.0 722.1L892.0 722.1L895.0 722.1L898.0 722.1L901.0 722.1L904.0 722.1L907.0 722.1L910.0 722.1L913.0 722.1L916.0 722.1L919.0 722.1L922.0 722.1L925.0 722.1L928.0 722.1L931.0 722.1L934.0 722.1L937.0 722.1L940.0 722.1L943.0 722.1L946.0 722.1L949.0 722.1L952.0 722.1L955.0 722.0L958.0 722.0L961.0 722.0L964.0 722.0L967.0 722.0L970.0 722.0L973.0 722.0L976.0 722.0L979.0 722.0L982.0 721.9L985.0 721.9L988.0 721.9L991.0 721.9L994.0 721.9L997.0 721.9L1000.0 721.8L1003.0 721.8L1006.0 721.8L1009.0 721.8L1012.0 721.8L1015.0 721.7L1018.0 721.7L1021.0 721.7L1024.0 721.6L1027.0 721.6L1030.0 721.6L1033.0 721.5L1036.0 721.5L1039.0 721.4L1042.0 721.4L1045.0 721.3L1048.0 721.3L1051.0 721.2L1054.0 721.2L1057.0 721.1L1060.0 721.1L1063.0 721.0L1066.0 721.0L1069.0 720.9L1072.0 720.8L1075.0 720.8L1078.0 720.7L1081.0 720.6L1084.0 720.5L1087.0 720.4L1090.0 720.4L1093.0 720.3L1096.0 720.2L1099.0 720.1L1107.5 719.5L1113.1 719.0L1117.3 718.5L1120.6 718.0L1123.2 717.5L1127.0 716.5L1129.6 715.5L1132.2 714.0L1133.9 712.5L1135.4 710.5L1136.4 708.5L1137.2 706.0L1137.7 703.5L1138.1 701.0L1138.3 698.5L1138.5 696.0L1138.7 693.5L1138.8 691.0L1138.9 688.5L1139.0 686.0L1139.0 683.5L1139.1 681.0L1139.1 678.5L1139.2 676.0L1139.2 673.5L1139.2 671.0L1139.2 668.5L1139.3 666.0L1139.3 663.5L1139.2 661.0L1138.9 658.5L1138.7 656.0L1138.3 652.5L1137.9 648.5L1137.4 644.5L1136.8 640.5L1136.3 636.5L1135.7 632.5L1135.1 628.5L1134.4 624.5L1133.7 620.5L1133.0 616.5L1132.3 612.5L1131.5 608.5L1130.8 604.5L1130.0 600.5L1129.2 596.5L1128.3 592.5L1127.5 588.5L1126.6 584.5L1125.7 580.5L1124.8 576.5L1123.9 572.5L1123.0 568.5L1122.0 564.5L1121.0 560.5L1120.1 556.5L1119.1 552.5L1118.1 548.5L1117.8 547.6M409.9 681.0L410.0 683.5L410.1 686.0L410.3 688.5L410.4 691.0L410.6 693.5L410.9 696.0L411.2 698.5L411.7 701.0L412.3 703.5L413.2 706.0L414.2 708.0L415.7 710.0L417.9 712.0L420.4 713.5L422.7 714.5L425.9 715.5L430.3 716.5L433.2 717.0L436.7 717.5L440.0 717.9L443.0 718.1L446.0 718.4L449.0 718.6L452.0 718.7L455.0 718.9L458.0 719.1L461.0 719.2L464.0 719.4L467.0 719.5L470.0 719.6L473.0 719.7L476.0 719.8L479.0 719.9L482.0 720.0L485.0 720.1L488.0 720.1L491.0 720.2L494.0 720.3L497.0 720.3L500.0 720.4L503.0 720.4L506.0 720.5L509.0 720.5L512.0 720.6L515.0 720.6L518.0 720.7L521.0 720.7L524.0 720.8L527.0 720.8L530.0 720.8L533.0 720.8L536.0 720.8L539.0 720.8L542.0 720.9L545.0 720.9L548.0 720.9L551.0 720.9L554.0 720.9L557.0 720.9L560.0 720.8L563.0 720.8L566.0 720.8L569.0 720.8L572.0 720.8L575.0 720.7L578.0 720.7L581.0 720.7L584.0 720.6L587.0 720.5L590.0 720.5L593.0 720.4L596.0 720.4L599.0 720.3L602.0 720.2L605.0 720.1L608.0 720.0L611.0 719.9L614.0 719.8L617.0 719.7L620.0 719.6L623.0 719.4L626.0 719.3L629.0 719.1L632.0 719.0L635.0 718.8L638.0 718.7L641.0 718.5L644.0 718.3L647.0 718.2L650.0 718.0L653.0 717.9L656.0 717.7L659.0 717.7L662.0 717.7L665.0 717.8L668.0 717.9L671.0 718.0L674.0 718.2L677.0 718.3L680.0 718.5L683.0 718.6L686.0 718.7L689.0 718.8L692.0 718.9L695.0 719.0L698.0 719.1L701.0 719.2L704.0 719.3L707.0 719.4L710.0 719.5L713.0 719.6L716.0 719.7L719.0 719.7L722.0 719.8L725.0 719.9L728.0 719.9L731.0 720.0L734.0 720.0L737.0 720.1L740.0 720.1L743.0 720.2L746.0 720.2L749.0 720.3L752.0 720.3L755.0 720.3L758.0 720.4L761.0 720.4L764.0 720.4L767.0 720.5L770.0 720.5L773.0 720.5L776.0 720.6L779.0 720.6L782.0 720.6L785.0 720.7L788.0 720.7L791.0 720.7L794.0 720.7L797.0 720.7L800.0 720.8L803.0 720.8L806.0 720.8L809.0 720.8L812.0 720.9L815.0 720.9L818.0 720.9L821.0 720.9L824.0 720.9L827.0 720.9L830.0 721.0L833.0 721.0L836.0 721.0L839.0 721.0L842.0 721.0L845.0 721.0L848.0 721.0L851.0 721.0L854.0 721.1L857.0 721.1L860.0 721.1L863.0 721.1L866.0 721.1L869.0 721.1L872.0 721.1L875.0 721.1L878.0 721.1L881.0 721.1L884.0 721.1L887.0 721.1L890.0 721.1L893.0 721.1L896.0 721.1L899.0 721.1L902.0 721.1L905.0 721.1L908.0 721.1L911.0 721.1L914.0 721.1L917.0 721.1L920.0 721.1L923.0 721.1L926.0 721.1L929.0 721.1L932.0 721.1L935.0 721.1L938.0 721.1L941.0 721.0L944.0 721.0L947.0 721.0L950.0 721.0L953.0 721.0L956.0 721.0L959.0 720.9L962.0 720.9L965.0 720.9L968.0 720.9L971.0 720.8L974.0 720.8L977.0 720.8L980.0 720.7L983.0 720.7L986.0 720.7L989.0 720.6L992.0 720.6L995.0 720.6L998.0 720.5L1001.0 720.5L1004.0 720.4L1007.0 720.4L1010.0 720.3L1013.0 720.3L1016.0 720.2L1019.0 720.1L1022.0 720.1L1025.0 720.0L1028.0 719.9L1031.0 719.8L1034.0 719.7L1037.0 719.6L1040.0 719.6L1043.0 719.5L1046.0 719.4L1049.0 719.3L1052.0 719.2L1055.0 719.1L1058.0 719.0L1061.0 718.9L1064.0 718.8L1067.0 718.6L1070.0 718.5L1073.0 718.4L1076.0 718.3L1079.0 718.2L1082.0 718.0L1085.0 717.9L1088.0 717.7L1091.0 717.6L1094.0 717.4L1097.0 717.2L1100.0 717.0L1104.8 716.5L1108.7 716.0L1112.0 715.5L1114.8 715.0L1117.2 714.5L1121.1 713.5L1124.0 712.5L1126.3 711.5L1128.9 710.0L1130.8 708.5L1132.6 706.5L1133.9 704.5L1134.9 702.5L1135.8 700.0L1136.4 697.5L1136.9 695.0L1137.3 692.5L1137.6 690.0L1137.9 687.5L1138.1 685.0L1138.2 682.5L1138.4 680.0L1138.5 677.5L1138.6 675.0L1138.7 672.5L1138.7 670.0L1138.8 667.5L1138.9 665.0L1138.9 662.5L1138.7 660.0L1138.5 657.5L1138.3 655.0L1138.0 652.5L1137.6 648.5L1137.1 644.5L1136.6 640.5L1136.1 636.5L1135.5 632.5L1134.9 628.5L1134.2 624.5L1133.6 620.5L1132.9 616.5L1132.2 612.5L1131.4 608.5L1130.7 604.5L1129.9 600.5L1129.1 596.5L1128.2 592.5L1127.4 588.5L1126.5 584.5L1125.6 580.5L1124.7 576.5L1123.8 572.5L1122.9 568.5L1121.9 564.5L1121.0 560.5L1120.0 556.5L1119.0 552.5L1118.0 548.5L1117.8 547.6M411.0 681.0L411.2 683.5L411.4 686.0L411.8 688.5L412.2 691.0L412.6 693.5L413.3 696.0L414.1 698.5L415.2 701.0L416.4 703.0L417.9 705.0L420.0 707.0L422.1 708.5L424.9 710.0L427.3 711.0L430.3 712.0L434.1 713.0L436.4 713.5L439.1 714.0L442.0 714.5L445.0 714.9L448.0 715.3L451.0 715.7L454.0 716.0L457.0 716.3L460.0 716.6L463.0 716.9L466.0 717.1L469.0 717.3L472.0 717.5L475.0 717.7L478.0 717.8L481.0 718.0L484.0 718.1L487.0 718.2L490.0 718.4L493.0 718.5L496.0 718.6L499.0 718.7L502.0 718.7L505.0 718.8L508.0 718.9L511.0 719.0L514.0 719.0L517.0 719.1L520.0 719.2L523.0 719.2L526.0 719.2L529.0 719.3L532.0 719.3L535.0 719.3L538.0 719.3L541.0 719.3L544.0 719.3L547.0 719.4L550.0 719.4L553.0 719.4L556.0 719.3L559.0 719.3L562.0 719.3L565.0 719.3L568.0 719.3L571.0 719.2L574.0 719.2L577.0 719.1L580.0 719.1L583.0 719.0L586.0 718.9L589.0 718.8L592.0 718.6L595.0 718.5L598.0 718.4L601.0 718.3L604.0 718.1L607.0 717.9L610.0 717.8L613.0 717.5L616.0 717.3L619.0 717.1L622.0 716.8L625.0 716.5L628.0 716.3L631.0 716.0L634.0 715.7L637.0 715.3L640.0 715.0L643.0 714.6L646.0 714.3L649.0 713.9L652.0 713.6L655.0 713.3L658.0 713.1L661.0 713.1L664.0 713.2L667.0 713.5L670.0 713.7L673.0 714.0L676.0 714.3L679.0 714.6L682.0 714.9L685.0 715.2L688.0 715.4L691.0 715.6L694.0 715.8L697.0 716.0L700.0 716.2L703.0 716.4L706.0 716.5L709.0 716.7L712.0 716.9L715.0 717.0L718.0 717.2L721.0 717.3L724.0 717.4L727.0 717.5L730.0 717.6L733.0 717.7L736.0 717.8L739.0 717.9L742.0 718.0L745.0 718.1L748.0 718.2L751.0 718.2L754.0 718.3L757.0 718.4L760.0 718.5L763.0 718.5L766.0 718.6L769.0 718.6L772.0 718.7L775.0 718.7L778.0 718.8L781.0 718.8L784.0 718.9L787.0 718.9L790.0 719.0L793.0 719.0L796.0 719.1L799.0 719.1L802.0 719.1L805.0 719.2L808.0 719.2L811.0 719.3L814.0 719.3L817.0 719.3L820.0 719.4L823.0 719.4L826.0 719.4L829.0 719.4L832.0 719.5L835.0 719.5L838.0 719.5L841.0 719.5L844.0 719.5L847.0 719.6L850.0 719.6L853.0 719.6L856.0 719.6L859.0 719.6L862.0 719.7L865.0 719.7L868.0 719.7L871.0 719.7L874.0 719.7L877.0 719.7L880.0 719.7L883.0 719.7L886.0 719.7L889.0 719.7L892.0 719.7L895.0 719.7L898.0 719.7L901.0 719.7L904.0 719.7L907.0 719.7L910.0 719.7L913.0 719.7L916.0 719.7L919.0 719.7L922.0 719.7L925.0 719.7L928.0 719.7L931.0 719.7L934.0 719.6L937.0 719.6L940.0 719.6L943.0 719.6L946.0 719.5L949.0 719.5L952.0 719.5L955.0 719.5L958.0 719.4L961.0 719.4L964.0 719.3L967.0 719.3L970.0 719.2L973.0 719.2L976.0 719.1L979.0 719.1L982.0 719.0L985.0 719.0L988.0 718.9L991.0 718.8L994.0 718.8L997.0 718.7L1000.0 718.6L1003.0 718.5L1006.0 718.4L1009.0 718.3L1012.0 718.2L1015.0 718.1L1018.0 718.0L1021.0 717.9L1024.0 717.7L1027.0 717.6L1030.0 717.5L1033.0 717.3L1036.0 717.2L1039.0 717.0L1042.0 716.9L1045.0 716.7L1048.0 716.5L1051.0 716.4L1054.0 716.2L1057.0 716.0L1060.0 715.9L1063.0 715.7L1066.0 715.5L1069.0 715.3L1072.0 715.1L1075.0 714.9L1078.0 714.7L1081.0 714.5L1084.0 714.3L1087.0 714.0L1090.0 713.8L1093.0 713.5L1096.0 713.2L1099.0 712.9L1103.1 712.3L1105.9 711.8L1108.4 711.3L1110.6 710.8L1114.4 709.8L1117.5 708.8L1120.0 707.8L1122.2 706.8L1124.7 705.3L1126.8 703.8L1128.4 702.3L1130.2 700.3L1131.6 698.3L1132.6 696.3L1133.7 693.8L1134.5 691.3L1135.2 688.8L1135.8 686.3L1136.2 683.8L1136.6 681.3L1136.9 678.8L1137.1 676.3L1137.4 673.8L1137.6 671.3L1137.7 668.8L1137.9 666.3L1138.0 663.8L1138.0 661.3L1137.9 658.8L1137.7 656.3L1137.4 652.3L1137.0 648.3L1136.6 644.3L1136.1 640.3L1135.6 636.3L1135.1 632.3L1134.5 628.3L1133.9 624.3L1133.2 620.3L1132.6 616.3L1131.9 612.3L1131.1 608.3L1130.4 604.3L1129.6 600.3L1128.8 596.3L1128.0 592.3L1127.2 588.3L1126.3 584.3L1125.4 580.3L1124.5 576.3L1123.6 572.3L1122.7 568.3L1121.8 564.3L1120.8 560.3L1119.8 556.3L1118.9 552.3L1117.9 548.3L1117.7 547.6M412.7 681.0L413.1 683.5L413.6 686.0L414.3 688.5L415.1 691.0L416.1 693.5L417.0 695.5L418.2 697.5L419.7 699.5L421.6 701.5L423.4 703.0L425.6 704.5L428.4 706.0L430.7 707.0L433.3 708.0L436.5 709.0L440.0 709.9L443.0 710.6L446.0 711.3L449.0 711.9L452.0 712.4L455.0 712.9L458.0 713.4L461.0 713.8L464.0 714.2L467.0 714.5L470.0 714.8L473.0 715.1L476.0 715.4L479.0 715.6L482.0 715.8L485.0 716.0L488.0 716.2L491.0 716.3L494.0 716.5L497.0 716.6L500.0 716.7L503.0 716.9L506.0 717.0L509.0 717.1L512.0 717.2L515.0 717.3L518.0 717.3L521.0 717.4L524.0 717.5L527.0 717.5L530.0 717.5L533.0 717.6L536.0 717.6L539.0 717.6L542.0 717.6L545.0 717.6L548.0 717.6L551.0 717.6L554.0 717.6L557.0 717.6L560.0 717.6L563.0 717.6L566.0 717.5L569.0 717.5L572.0 717.4L575.0 717.4L578.0 717.3L581.0 717.2L584.0 717.0L587.0 716.9L590.0 716.7L593.0 716.5L596.0 716.4L599.0 716.2L602.0 716.0L605.0 715.7L608.0 715.4L611.0 715.1L614.0 714.8L617.0 714.4L620.0 714.1L623.0 713.6L626.0 713.2L629.0 712.8L632.0 712.3L635.0 711.8L638.0 711.3L641.0 710.7L644.0 710.1L647.0 709.5L650.0 709.0L653.0 708.6L656.0 708.1L659.0 707.8L662.0 707.8L665.0 708.1L668.0 708.6L671.0 709.1L674.0 709.5L677.0 710.0L680.0 710.5L683.0 710.9L686.0 711.3L689.0 711.6L692.0 712.0L695.0 712.3L698.0 712.6L701.0 712.8L704.0 713.1L707.0 713.4L710.0 713.6L713.0 713.9L716.0 714.1L719.0 714.3L722.0 714.5L725.0 714.7L728.0 714.9L731.0 715.0L734.0 715.2L737.0 715.3L740.0 715.5L743.0 715.6L746.0 715.7L749.0 715.8L752.0 716.0L755.0 716.1L758.0 716.2L761.0 716.3L764.0 716.4L767.0 716.4L770.0 716.5L773.0 716.6L776.0 716.7L779.0 716.8L782.0 716.8L785.0 716.9L788.0 717.0L791.0 717.0L794.0 717.1L797.0 717.2L800.0 717.2L803.0 717.3L806.0 717.4L809.0 717.4L812.0 717.5L815.0 717.5L818.0 717.6L821.0 717.6L824.0 717.6L827.0 717.7L830.0 717.7L833.0 717.7L836.0 717.8L839.0 717.8L842.0 717.8L845.0 717.9L848.0 717.9L851.0 717.9L854.0 717.9L857.0 718.0L860.0 718.0L863.0 718.0L866.0 718.0L869.0 718.1L872.0 718.1L875.0 718.1L878.0 718.1L881.0 718.1L884.0 718.1L887.0 718.1L890.0 718.1L893.0 718.1L896.0 718.1L899.0 718.1L902.0 718.1L905.0 718.1L908.0 718.1L911.0 718.1L914.0 718.1L917.0 718.1L920.0 718.1L923.0 718.1L926.0 718.0L929.0 718.0L932.0 718.0L935.0 718.0L938.0 717.9L941.0 717.9L944.0 717.9L947.0 717.8L950.0 717.8L953.0 717.8L956.0 717.7L959.0 717.6L962.0 717.6L965.0 717.5L968.0 717.5L971.0 717.4L974.0 717.3L977.0 717.2L980.0 717.1L983.0 717.1L986.0 717.0L989.0 716.9L992.0 716.8L995.0 716.6L998.0 716.5L1001.0 716.4L1004.0 716.3L1007.0 716.1L1010.0 716.0L1013.0 715.8L1016.0 715.6L1019.0 715.4L1022.0 715.3L1025.0 715.1L1028.0 714.9L1031.0 714.7L1034.0 714.4L1037.0 714.2L1040.0 714.0L1043.0 713.8L1046.0 713.5L1049.0 713.3L1052.0 713.0L1055.0 712.8L1058.0 712.5L1061.0 712.3L1064.0 712.0L1067.0 711.8L1070.0 711.5L1073.0 711.3L1076.0 711.0L1079.0 710.7L1082.0 710.3L1085.0 710.0L1088.0 709.6L1091.0 709.2L1094.0 708.8L1097.0 708.4L1100.0 707.9L1102.3 707.4L1106.3 706.4L1109.6 705.4L1112.5 704.4L1115.0 703.4L1117.2 702.4L1119.9 700.9L1122.2 699.4L1124.1 697.9L1126.2 695.9L1127.8 693.9L1129.2 691.9L1130.4 689.9L1131.3 687.9L1132.4 685.4L1133.2 682.9L1133.9 680.4L1134.5 677.9L1135.0 675.4L1135.4 672.9L1135.8 670.4L1136.1 667.9L1136.4 665.4L1136.6 662.9L1136.6 660.4L1136.6 657.9L1136.5 655.4L1136.4 652.4L1136.1 648.4L1135.8 644.4L1135.4 640.4L1134.9 636.4L1134.5 632.4L1133.9 628.4L1133.4 624.4L1132.8 620.4L1132.1 616.4L1131.5 612.4L1130.8 608.4L1130.0 604.4L1129.3 600.4L1128.5 596.4L1127.7 592.4L1126.9 588.4L1126.1 584.4L1125.2 580.4L1124.3 576.4L1123.4 572.4L1122.5 568.4L1121.6 564.4L1120.6 560.4L1119.7 556.4L1118.7 552.4L1117.7 548.4L1117.5 547.6M415.0 681.0L415.7 683.5L416.6 686.0L417.7 688.5L418.7 690.5L419.9 692.5L421.4 694.5L423.2 696.5L424.8 698.0L426.8 699.5L429.1 701.0L431.9 702.5L434.1 703.5L436.6 704.5L439.5 705.5L442.0 706.3L445.0 707.3L448.0 708.1L451.0 708.9L454.0 709.5L457.0 710.1L460.0 710.7L463.0 711.2L466.0 711.7L469.0 712.1L472.0 712.5L475.0 712.9L478.0 713.2L481.0 713.5L484.0 713.7L487.0 714.0L490.0 714.2L493.0 714.4L496.0 714.6L499.0 714.7L502.0 714.9L505.0 715.0L508.0 715.2L511.0 715.3L514.0 715.4L517.0 715.5L520.0 715.6L523.0 715.7L526.0 715.8L529.0 715.8L532.0 715.8L535.0 715.8L538.0 715.9L541.0 715.9L544.0 715.9L547.0 715.9L550.0 715.9L553.0 715.9L556.0 715.9L559.0 715.9L562.0 715.8L565.0 715.8L568.0 715.7L571.0 715.7L574.0 715.6L577.0 715.5L580.0 715.4L583.0 715.2L586.0 715.0L589.0 714.8L592.0 714.5L595.0 714.3L598.0 714.1L601.0 713.8L604.0 713.5L607.0 713.1L610.0 712.7L613.0 712.3L616.0 711.8L619.0 711.3L622.0 710.8L625.0 710.2L628.0 709.6L631.0 709.0L634.0 708.3L637.0 707.6L640.0 706.8L643.0 706.0L646.0 705.2L649.0 704.4L652.0 703.8L655.0 703.2L658.0 702.7L661.0 702.5L664.0 702.8L667.0 703.4L670.0 704.1L673.0 704.7L676.0 705.3L679.0 706.0L682.0 706.6L685.0 707.1L688.0 707.6L691.0 708.1L694.0 708.5L697.0 708.9L700.0 709.3L703.0 709.7L706.0 710.1L709.0 710.4L712.0 710.7L715.0 711.0L718.0 711.3L721.0 711.6L724.0 711.8L727.0 712.1L730.0 712.3L733.0 712.5L736.0 712.7L739.0 712.9L742.0 713.1L745.0 713.3L748.0 713.4L751.0 713.6L754.0 713.7L757.0 713.9L760.0 714.0L763.0 714.1L766.0 714.3L769.0 714.4L772.0 714.5L775.0 714.6L778.0 714.7L781.0 714.8L784.0 714.9L787.0 715.0L790.0 715.1L793.0 715.2L796.0 715.2L799.0 715.3L802.0 715.4L805.0 715.5L808.0 715.6L811.0 715.6L814.0 715.7L817.0 715.8L820.0 715.8L823.0 715.9L826.0 715.9L829.0 716.0L832.0 716.0L835.0 716.1L838.0 716.1L841.0 716.1L844.0 716.2L847.0 716.2L850.0 716.2L853.0 716.3L856.0 716.3L859.0 716.3L862.0 716.4L865.0 716.4L868.0 716.4L871.0 716.4L874.0 716.4L877.0 716.4L880.0 716.4L883.0 716.4L886.0 716.4L889.0 716.4L892.0 716.4L895.0 716.4L898.0 716.4L901.0 716.4L904.0 716.4L907.0 716.4L910.0 716.4L913.0 716.4L916.0 716.4L919.0 716.4L922.0 716.4L925.0 716.4L928.0 716.4L931.0 716.4L934.0 716.3L937.0 716.3L940.0 716.3L943.0 716.2L946.0 716.2L949.0 716.1L952.0 716.1L955.0 716.0L958.0 715.9L961.0 715.8L964.0 715.8L967.0 715.7L970.0 715.6L973.0 715.5L976.0 715.4L979.0 715.3L982.0 715.1L985.0 715.0L988.0 714.9L991.0 714.7L994.0 714.6L997.0 714.4L1000.0 714.3L1003.0 714.1L1006.0 713.9L1009.0 713.7L1012.0 713.5L1015.0 713.3L1018.0 713.0L1021.0 712.8L1024.0 712.5L1027.0 712.3L1030.0 712.0L1033.0 711.7L1036.0 711.4L1039.0 711.1L1042.0 710.8L1045.0 710.5L1048.0 710.2L1051.0 709.9L1054.0 709.6L1057.0 709.2L1060.0 708.9L1063.0 708.6L1066.0 708.2L1069.0 707.9L1072.0 707.6L1075.0 707.2L1078.0 706.8L1081.0 706.4L1084.0 705.9L1087.0 705.4L1090.0 705.0L1093.0 704.4L1096.0 703.9L1099.0 703.3L1101.8 702.5L1105.0 701.5L1107.8 700.5L1110.3 699.5L1112.5 698.5L1114.4 697.5L1117.0 696.0L1119.2 694.5L1121.1 693.0L1122.7 691.5L1124.6 689.5L1126.2 687.5L1127.5 685.5L1128.6 683.5L1129.6 681.5L1130.7 679.0L1131.6 676.5L1132.3 674.0L1133.0 671.5L1133.6 669.0L1134.1 666.5L1134.5 664.0L1134.8 661.5L1134.9 659.0L1135.0 656.5L1135.0 652.5L1134.8 648.5L1134.6 644.5L1134.4 640.5L1134.0 636.5L1133.6 632.5L1133.2 628.5L1132.7 624.5L1132.1 620.5L1131.5 616.5L1130.9 612.5L1130.2 608.5L1129.5 604.5L1128.8 600.5L1128.1 596.5L1127.3 592.5L1126.5 588.5L1125.7 584.5L1124.9 580.5L1124.0 576.5L1123.1 572.5L1122.2 568.5L1121.3 564.5L1120.4 560.5L1119.5 556.5L1118.5 552.5L1117.5 548.5L1117.3 547.6M417.9 681.0L419.0 683.5L420.0 685.5L421.2 687.5L422.7 689.5L424.3 691.5L426.4 693.5L428.1 695.0L430.2 696.5L432.7 698.0L435.6 699.5L437.8 700.5L440.0 701.4L443.0 702.6L446.0 703.8L449.0 704.8L452.0 705.7L455.0 706.5L458.0 707.3L461.0 708.0L464.0 708.6L467.0 709.2L470.0 709.7L473.0 710.2L476.0 710.6L479.0 711.0L482.0 711.3L485.0 711.6L488.0 711.9L491.0 712.2L494.0 712.4L497.0 712.7L500.0 712.9L503.0 713.0L506.0 713.2L509.0 713.4L512.0 713.5L515.0 713.7L518.0 713.8L521.0 713.9L524.0 714.0L527.0 714.0L530.0 714.1L533.0 714.1L536.0 714.1L539.0 714.1L542.0 714.2L545.0 714.2L548.0 714.2L551.0 714.2L554.0 714.2L557.0 714.1L560.0 714.1L563.0 714.1L566.0 714.0L569.0 713.9L572.0 713.9L575.0 713.8L578.0 713.7L581.0 713.5L584.0 713.2L587.0 713.0L590.0 712.7L593.0 712.4L596.0 712.1L599.0 711.8L602.0 711.4L605.0 711.0L608.0 710.5L611.0 710.0L614.0 709.5L617.0 708.9L620.0 708.2L623.0 707.5L626.0 706.8L629.0 706.0L632.0 705.2L635.0 704.3L638.0 703.4L641.0 702.4L644.0 701.4L647.0 700.3L650.0 699.4L653.0 698.6L656.0 697.8L659.0 697.3L662.0 697.3L665.0 697.9L668.0 698.7L671.0 699.5L674.0 700.3L677.0 701.1L680.0 702.0L683.0 702.7L686.0 703.3L689.0 703.9L692.0 704.5L695.0 705.0L698.0 705.5L701.0 706.0L704.0 706.5L707.0 706.9L710.0 707.4L713.0 707.8L716.0 708.2L719.0 708.5L722.0 708.9L725.0 709.2L728.0 709.5L731.0 709.7L734.0 710.0L737.0 710.3L740.0 710.5L743.0 710.7L746.0 710.9L749.0 711.1L752.0 711.3L755.0 711.5L758.0 711.7L761.0 711.8L764.0 712.0L767.0 712.1L770.0 712.3L773.0 712.4L776.0 712.6L779.0 712.7L782.0 712.8L785.0 712.9L788.0 713.0L791.0 713.2L794.0 713.3L797.0 713.4L800.0 713.5L803.0 713.6L806.0 713.7L809.0 713.8L812.0 713.8L815.0 713.9L818.0 714.0L821.0 714.1L824.0 714.1L827.0 714.2L830.0 714.3L833.0 714.3L836.0 714.4L839.0 714.4L842.0 714.4L845.0 714.5L848.0 714.5L851.0 714.6L854.0 714.6L857.0 714.7L860.0 714.7L863.0 714.7L866.0 714.8L869.0 714.8L872.0 714.8L875.0 714.8L878.0 714.8L881.0 714.8L884.0 714.8L887.0 714.8L890.0 714.8L893.0 714.8L896.0 714.8L899.0 714.8L902.0 714.8L905.0 714.8L908.0 714.8L911.0 714.8L914.0 714.8L917.0 714.8L920.0 714.8L923.0 714.8L926.0 714.8L929.0 714.7L932.0 714.7L935.0 714.7L938.0 714.6L941.0 714.6L944.0 714.5L947.0 714.5L950.0 714.4L953.0 714.3L956.0 714.2L959.0 714.1L962.0 714.0L965.0 713.9L968.0 713.8L971.0 713.7L974.0 713.6L977.0 713.4L980.0 713.3L983.0 713.2L986.0 713.0L989.0 712.8L992.0 712.6L995.0 712.5L998.0 712.3L1001.0 712.1L1004.0 711.8L1007.0 711.6L1010.0 711.3L1013.0 711.0L1016.0 710.8L1019.0 710.5L1022.0 710.1L1025.0 709.8L1028.0 709.5L1031.0 709.2L1034.0 708.8L1037.0 708.4L1040.0 708.1L1043.0 707.7L1046.0 707.3L1049.0 706.9L1052.0 706.5L1055.0 706.1L1058.0 705.7L1061.0 705.3L1064.0 704.9L1067.0 704.5L1070.0 704.1L1073.0 703.6L1076.0 703.2L1079.0 702.6L1082.0 702.1L1085.0 701.6L1088.0 701.0L1091.0 700.3L1094.0 699.7L1097.0 699.0L1100.0 698.2L1102.8 697.2L1105.4 696.2L1107.7 695.2L1109.7 694.2L1112.5 692.7L1114.8 691.2L1116.9 689.7L1118.7 688.2L1120.3 686.7L1122.2 684.7L1123.8 682.7L1125.2 680.7L1126.4 678.7L1127.5 676.7L1128.5 674.7L1129.5 672.2L1130.4 669.7L1131.2 667.2L1131.8 664.7L1132.4 662.2L1132.7 659.7L1132.9 657.2L1133.1 654.7L1133.2 652.2L1133.2 648.2L1133.2 644.2L1133.0 640.2L1132.8 636.2L1132.5 632.2L1132.1 628.2L1131.7 624.2L1131.2 620.2L1130.7 616.2L1130.1 612.2L1129.5 608.2L1128.9 604.2L1128.2 600.2L1127.5 596.2L1126.7 592.2L1126.0 588.2L1125.2 584.2L1124.4 580.2L1123.5 576.2L1122.7 572.2L1121.8 568.2L1120.9 564.2L1120.0 560.2L1119.0 556.2L1118.1 552.2L1117.1 548.2L1117.0 547.6M421.1 681.0L422.3 683.0L423.6 685.0L425.2 687.0L427.1 689.0L429.3 691.0L431.2 692.5L433.4 694.0L436.0 695.5L438.9 697.0L441.0 698.0L443.0 699.0L445.0 699.9L448.0 701.2L451.0 702.3L454.0 703.3L457.0 704.2L460.0 705.1L463.0 705.8L466.0 706.6L469.0 707.2L472.0 707.8L475.0 708.3L478.0 708.8L481.0 709.2L484.0 709.5L487.0 709.9L490.0 710.2L493.0 710.5L496.0 710.8L499.0 711.0L502.0 711.2L505.0 711.4L508.0 711.6L511.0 711.8L514.0 712.0L517.0 712.1L520.0 712.2L523.0 712.3L526.0 712.4L529.0 712.5L532.0 712.5L535.0 712.5L538.0 712.5L541.0 712.6L544.0 712.6L547.0 712.6L550.0 712.6L553.0 712.6L556.0 712.6L559.0 712.5L562.0 712.5L565.0 712.4L568.0 712.4L571.0 712.3L574.0 712.2L577.0 712.1L580.0 711.9L583.0 711.6L586.0 711.3L589.0 710.9L592.0 710.6L595.0 710.3L598.0 709.9L601.0 709.5L604.0 709.0L607.0 708.5L610.0 707.9L613.0 707.2L616.0 706.5L619.0 705.8L622.0 705.0L625.0 704.1L628.0 703.2L631.0 702.2L634.0 701.2L637.0 700.2L640.0 699.0L643.0 697.8L646.0 696.5L649.0 695.4L652.0 694.4L655.0 693.4L658.0 692.7L661.0 692.4L664.0 692.9L667.0 693.8L670.0 694.8L673.0 695.7L676.0 696.7L679.0 697.8L682.0 698.7L685.0 699.5L688.0 700.2L691.0 700.9L694.0 701.5L697.0 702.1L700.0 702.7L703.0 703.3L706.0 703.8L709.0 704.3L712.0 704.8L715.0 705.3L718.0 705.7L721.0 706.1L724.0 706.5L727.0 706.9L730.0 707.2L733.0 707.5L736.0 707.8L739.0 708.1L742.0 708.4L745.0 708.6L748.0 708.9L751.0 709.1L754.0 709.3L757.0 709.5L760.0 709.7L763.0 709.9L766.0 710.1L769.0 710.3L772.0 710.5L775.0 710.6L778.0 710.8L781.0 710.9L784.0 711.1L787.0 711.2L790.0 711.3L793.0 711.4L796.0 711.6L799.0 711.7L802.0 711.8L805.0 711.9L808.0 712.0L811.0 712.2L814.0 712.3L817.0 712.4L820.0 712.4L823.0 712.5L826.0 712.6L829.0 712.6L832.0 712.7L835.0 712.8L838.0 712.8L841.0 712.9L844.0 712.9L847.0 713.0L850.0 713.0L853.0 713.1L856.0 713.1L859.0 713.2L862.0 713.2L865.0 713.3L868.0 713.3L871.0 713.3L874.0 713.3L877.0 713.3L880.0 713.3L883.0 713.3L886.0 713.3L889.0 713.3L892.0 713.3L895.0 713.3L898.0 713.3L901.0 713.3L904.0 713.3L907.0 713.3L910.0 713.3L913.0 713.3L916.0 713.3L919.0 713.3L922.0 713.3L925.0 713.3L928.0 713.3L931.0 713.2L934.0 713.2L937.0 713.1L940.0 713.1L943.0 713.0L946.0 712.9L949.0 712.9L952.0 712.8L955.0 712.7L958.0 712.6L961.0 712.5L964.0 712.3L967.0 712.2L970.0 712.1L973.0 711.9L976.0 711.8L979.0 711.6L982.0 711.4L985.0 711.2L988.0 711.0L991.0 710.8L994.0 710.6L997.0 710.4L1000.0 710.1L1003.0 709.9L1006.0 709.6L1009.0 709.3L1012.0 709.0L1015.0 708.6L1018.0 708.3L1021.0 707.9L1024.0 707.6L1027.0 707.2L1030.0 706.8L1033.0 706.4L1036.0 705.9L1039.0 705.5L1042.0 705.1L1045.0 704.6L1048.0 704.1L1051.0 703.7L1054.0 703.2L1057.0 702.7L1060.0 702.2L1063.0 701.8L1066.0 701.3L1069.0 700.8L1072.0 700.3L1075.0 699.8L1078.0 699.2L1081.0 698.6L1084.0 697.9L1087.0 697.2L1090.0 696.5L1093.0 695.8L1096.0 694.9L1099.0 694.0L1101.3 693.2L1103.6 692.2L1105.7 691.2L1108.6 689.7L1111.1 688.2L1113.3 686.7L1115.2 685.2L1117.0 683.7L1119.0 681.7L1120.8 679.7L1122.4 677.7L1123.8 675.7L1125.0 673.7L1126.0 671.7L1127.0 669.7L1128.1 667.2L1129.0 664.7L1129.8 662.2L1130.3 659.7L1130.7 657.2L1131.0 654.7L1131.3 652.2L1131.5 648.2L1131.6 644.2L1131.6 640.2L1131.5 636.2L1131.3 632.2L1131.0 628.2L1130.7 624.2L1130.3 620.2L1129.8 616.2L1129.3 612.2L1128.8 608.2L1128.2 604.2L1127.5 600.2L1126.9 596.2L1126.2 592.2L1125.4 588.2L1124.7 584.2L1123.9 580.2L1123.1 576.2L1122.2 572.2L1121.4 568.2L1120.5 564.2L1119.6 560.2L1118.7 556.2L1117.8 552.2L1116.8 548.2L1116.7 547.6M424.4 681.0L425.9 683.0L427.7 685.0L429.7 687.0L431.4 688.5L433.4 690.0L435.6 691.5L438.2 693.0L441.0 694.5L443.0 695.6L445.0 696.7L447.0 697.7L449.0 698.6L452.0 699.9L455.0 700.9L458.0 702.0L461.0 702.9L464.0 703.8L467.0 704.6L470.0 705.3L473.0 705.9L476.0 706.5L479.0 707.0L482.0 707.4L485.0 707.9L488.0 708.2L491.0 708.6L494.0 708.9L497.0 709.2L500.0 709.5L503.0 709.7L506.0 709.9L509.0 710.1L512.0 710.3L515.0 710.5L518.0 710.7L521.0 710.8L524.0 710.9L527.0 711.0L530.0 711.0L533.0 711.0L536.0 711.1L539.0 711.1L542.0 711.1L545.0 711.1L548.0 711.1L551.0 711.1L554.0 711.1L557.0 711.1L560.0 711.1L563.0 711.0L566.0 710.9L569.0 710.9L572.0 710.8L575.0 710.6L578.0 710.5L581.0 710.3L584.0 709.9L587.0 709.5L590.0 709.1L593.0 708.8L596.0 708.4L599.0 707.9L602.0 707.5L605.0 706.9L608.0 706.2L611.0 705.5L614.0 704.8L617.0 704.0L620.0 703.1L623.0 702.1L626.0 701.1L629.0 700.0L632.0 698.9L635.0 697.7L638.0 696.5L641.0 695.2L643.0 694.2L645.0 693.2L647.0 692.3L650.0 691.0L653.0 689.9L656.0 688.8L659.0 688.1L662.0 688.1L665.0 688.9L668.0 690.0L671.0 691.1L674.0 692.2L677.0 693.4L680.0 694.5L683.0 695.5L686.0 696.4L689.0 697.2L692.0 698.0L695.0 698.7L698.0 699.4L701.0 700.1L704.0 700.7L707.0 701.3L710.0 701.9L713.0 702.4L716.0 703.0L719.0 703.5L722.0 703.9L725.0 704.3L728.0 704.7L731.0 705.1L734.0 705.5L737.0 705.8L740.0 706.1L743.0 706.4L746.0 706.7L749.0 707.0L752.0 707.3L755.0 707.5L758.0 707.7L761.0 708.0L764.0 708.2L767.0 708.4L770.0 708.6L773.0 708.8L776.0 708.9L779.0 709.1L782.0 709.3L785.0 709.4L788.0 709.6L791.0 709.7L794.0 709.9L797.0 710.0L800.0 710.2L803.0 710.3L806.0 710.4L809.0 710.6L812.0 710.7L815.0 710.8L818.0 710.9L821.0 711.0L824.0 711.1L827.0 711.2L830.0 711.2L833.0 711.3L836.0 711.4L839.0 711.4L842.0 711.5L845.0 711.5L848.0 711.6L851.0 711.7L854.0 711.7L857.0 711.8L860.0 711.8L863.0 711.9L866.0 711.9L869.0 711.9L872.0 711.9L875.0 711.9L878.0 711.9L881.0 711.9L884.0 711.9L887.0 711.9L890.0 711.9L893.0 711.9L896.0 711.9L899.0 711.9L902.0 711.9L905.0 711.9L908.0 711.9L911.0 711.9L914.0 711.9L917.0 711.9L920.0 711.9L923.0 711.9L926.0 711.9L929.0 711.9L932.0 711.8L935.0 711.8L938.0 711.7L941.0 711.6L944.0 711.6L947.0 711.5L950.0 711.4L953.0 711.3L956.0 711.2L959.0 711.1L962.0 710.9L965.0 710.8L968.0 710.6L971.0 710.5L974.0 710.3L977.0 710.1L980.0 709.9L983.0 709.7L986.0 709.5L989.0 709.3L992.0 709.1L995.0 708.8L998.0 708.5L1001.0 708.3L1004.0 707.9L1007.0 707.6L1010.0 707.3L1013.0 706.9L1016.0 706.5L1019.0 706.1L1022.0 705.7L1025.0 705.2L1028.0 704.8L1031.0 704.3L1034.0 703.9L1037.0 703.4L1040.0 702.9L1043.0 702.4L1046.0 701.9L1049.0 701.3L1052.0 700.8L1055.0 700.2L1058.0 699.7L1061.0 699.2L1064.0 698.6L1067.0 698.1L1070.0 697.5L1073.0 696.9L1076.0 696.3L1079.0 695.6L1082.0 694.9L1085.0 694.2L1088.0 693.4L1091.0 692.6L1094.0 691.7L1097.0 690.7L1100.0 689.7L1102.2 688.7L1104.2 687.7L1106.9 686.2L1109.3 684.7L1111.4 683.2L1113.4 681.7L1115.1 680.2L1117.2 678.2L1119.0 676.2L1120.6 674.2L1122.0 672.2L1123.3 670.2L1124.4 668.2L1125.4 666.2L1126.3 664.2L1127.3 661.7L1127.9 659.2L1128.5 656.7L1129.0 654.2L1129.5 650.2L1129.9 646.2L1130.1 642.2L1130.2 638.2L1130.1 634.2L1130.0 630.2L1129.8 626.2L1129.5 622.2L1129.1 618.2L1128.7 614.2L1128.2 610.2L1127.7 606.2L1127.1 602.2L1126.5 598.2L1125.9 594.2L1125.2 590.2L1124.5 586.2L1123.7 582.2L1123.0 578.2L1122.2 574.2L1121.4 570.2L1120.5 566.2L1119.6 562.2L1118.8 558.2L1117.9 554.2L1116.9 550.2L1116.3 547.6M427.8 681.0L429.6 683.0L431.7 685.0L433.5 686.5L435.6 688.0L437.9 689.5L440.0 690.7L442.0 692.0L444.0 693.2L446.0 694.4L448.0 695.5L450.0 696.4L453.0 697.8L456.0 698.9L459.0 700.0L462.0 701.1L465.0 702.0L468.0 702.8L471.0 703.6L474.0 704.3L477.0 704.9L480.0 705.4L483.0 705.9L486.0 706.4L489.0 706.8L492.0 707.2L495.0 707.5L498.0 707.8L501.0 708.1L504.0 708.3L507.0 708.6L510.0 708.8L513.0 709.0L516.0 709.2L519.0 709.4L522.0 709.5L525.0 709.6L528.0 709.7L531.0 709.7L534.0 709.8L537.0 709.8L540.0 709.8L543.0 709.8L546.0 709.8L549.0 709.9L552.0 709.9L555.0 709.8L558.0 709.8L561.0 709.8L564.0 709.7L567.0 709.6L570.0 709.5L573.0 709.4L576.0 709.3L579.0 709.1L582.0 708.7L585.0 708.3L588.0 707.9L591.0 707.5L594.0 707.1L597.0 706.6L600.0 706.1L603.0 705.5L606.0 704.9L609.0 704.1L612.0 703.3L615.0 702.5L618.0 701.5L621.0 700.5L624.0 699.4L627.0 698.3L630.0 697.1L633.0 695.8L636.0 694.5L638.0 693.6L640.0 692.6L642.0 691.5L644.0 690.4L646.0 689.3L648.0 688.3L651.0 687.0L654.0 685.8L657.0 684.7L660.0 684.1L663.0 684.4L666.0 685.4L669.0 686.7L672.0 687.9L675.0 689.2L678.0 690.5L681.0 691.7L684.0 692.8L687.0 693.7L690.0 694.6L693.0 695.5L696.0 696.3L699.0 697.0L702.0 697.8L705.0 698.5L708.0 699.1L711.0 699.8L714.0 700.4L717.0 700.9L720.0 701.5L723.0 702.0L726.0 702.4L729.0 702.9L732.0 703.3L735.0 703.7L738.0 704.0L741.0 704.4L744.0 704.7L747.0 705.0L750.0 705.3L753.0 705.6L756.0 705.9L759.0 706.1L762.0 706.4L765.0 706.6L768.0 706.8L771.0 707.1L774.0 707.3L777.0 707.5L780.0 707.6L783.0 707.8L786.0 708.0L789.0 708.2L792.0 708.3L795.0 708.5L798.0 708.6L801.0 708.8L804.0 708.9L807.0 709.1L810.0 709.2L813.0 709.4L816.0 709.5L819.0 709.6L822.0 709.7L825.0 709.8L828.0 709.9L831.0 710.0L834.0 710.0L837.0 710.1L840.0 710.2L843.0 710.2L846.0 710.3L849.0 710.4L852.0 710.4L855.0 710.5L858.0 710.6L861.0 710.6L864.0 710.7L867.0 710.7L870.0 710.7L873.0 710.7L876.0 710.7L879.0 710.7L882.0 710.7L885.0 710.7L888.0 710.7L891.0 710.7L894.0 710.7L897.0 710.7L900.0 710.7L903.0 710.7L906.0 710.7L909.0 710.7L912.0 710.7L915.0 710.7L918.0 710.7L921.0 710.7L924.0 710.7L927.0 710.7L930.0 710.6L933.0 710.6L936.0 710.5L939.0 710.4L942.0 710.4L945.0 710.3L948.0 710.2L951.0 710.1L954.0 710.0L957.0 709.8L960.0 709.7L963.0 709.5L966.0 709.4L969.0 709.2L972.0 709.0L975.0 708.9L978.0 708.6L981.0 708.4L984.0 708.2L987.0 708.0L990.0 707.7L993.0 707.4L996.0 707.1L999.0 706.8L1002.0 706.5L1005.0 706.2L1008.0 705.8L1011.0 705.4L1014.0 704.9L1017.0 704.5L1020.0 704.1L1023.0 703.6L1026.0 703.1L1029.0 702.6L1032.0 702.1L1035.0 701.6L1038.0 701.0L1041.0 700.5L1044.0 699.9L1047.0 699.3L1050.0 698.7L1053.0 698.1L1056.0 697.5L1059.0 696.9L1062.0 696.3L1065.0 695.7L1068.0 695.1L1071.0 694.5L1074.0 693.9L1077.0 693.1L1080.0 692.4L1083.0 691.6L1086.0 690.7L1089.0 689.9L1092.0 688.9L1095.0 687.9L1098.0 686.8L1101.0 685.5L1103.8 684.0L1106.3 682.5L1108.6 681.0L1110.6 679.5L1112.4 678.0L1114.1 676.5L1116.1 674.5L1117.8 672.5L1119.4 670.5L1120.8 668.5L1122.1 666.5L1123.2 664.5L1124.3 662.5L1125.2 660.0L1126.0 657.5L1126.6 655.0L1127.2 652.5L1127.9 648.5L1128.3 644.5L1128.6 640.5L1128.8 636.5L1128.8 632.5L1128.8 628.5L1128.6 624.5L1128.4 620.5L1128.1 616.5L1127.7 612.5L1127.2 608.5L1126.7 604.5L1126.2 600.5L1125.6 596.5L1125.0 592.5L1124.3 588.5L1123.6 584.5L1122.9 580.5L1122.2 576.5L1121.4 572.5L1120.6 568.5L1119.7 564.5L1118.9 560.5L1118.0 556.5L1117.1 552.5L1116.2 548.5L1116.0 547.6M430.2 681.0L432.3 683.0L434.0 684.5L436.0 686.0L438.2 687.5L441.0 689.3L443.0 690.6L445.0 691.9L447.0 693.1L449.0 694.2L451.0 695.2L454.0 696.5L457.0 697.8L460.0 698.9L463.0 700.0L466.0 700.9L469.0 701.8L472.0 702.6L475.0 703.3L478.0 703.9L481.0 704.5L484.0 705.0L487.0 705.4L490.0 705.9L493.0 706.3L496.0 706.6L499.0 706.9L502.0 707.2L505.0 707.5L508.0 707.7L511.0 708.0L514.0 708.2L517.0 708.4L520.0 708.6L523.0 708.7L526.0 708.8L529.0 708.8L532.0 708.9L535.0 708.9L538.0 708.9L541.0 709.0L544.0 709.0L547.0 709.0L550.0 709.0L553.0 709.0L556.0 709.0L559.0 708.9L562.0 708.9L565.0 708.8L568.0 708.7L571.0 708.6L574.0 708.5L577.0 708.3L580.0 708.1L583.0 707.7L586.0 707.2L589.0 706.8L592.0 706.3L595.0 705.9L598.0 705.4L601.0 704.8L604.0 704.2L607.0 703.4L610.0 702.6L613.0 701.7L616.0 700.8L619.0 699.8L622.0 698.6L625.0 697.5L628.0 696.2L631.0 694.9L633.0 694.0L635.0 693.0L637.0 692.1L639.0 691.1L641.0 690.0L643.0 688.8L645.0 687.6L647.0 686.5L649.0 685.5L652.0 684.2L655.0 682.8L658.0 681.8L661.0 681.5L664.0 682.1L667.0 683.3L669.0 684.3L672.0 685.5L675.0 686.9L677.0 687.8L679.0 688.8L682.0 690.0L685.0 691.1L688.0 692.1L691.0 693.0L694.0 693.9L697.0 694.8L700.0 695.6L703.0 696.3L706.0 697.1L709.0 697.8L712.0 698.4L715.0 699.1L718.0 699.6L721.0 700.2L724.0 700.7L727.0 701.2L730.0 701.7L733.0 702.1L736.0 702.5L739.0 702.9L742.0 703.3L745.0 703.6L748.0 703.9L751.0 704.3L754.0 704.6L757.0 704.8L760.0 705.1L763.0 705.4L766.0 705.6L769.0 705.8L772.0 706.1L775.0 706.3L778.0 706.5L781.0 706.7L784.0 706.9L787.0 707.1L790.0 707.2L793.0 707.4L796.0 707.6L799.0 707.7L802.0 707.9L805.0 708.1L808.0 708.2L811.0 708.4L814.0 708.5L817.0 708.6L820.0 708.8L823.0 708.9L826.0 709.0L829.0 709.0L832.0 709.1L835.0 709.2L838.0 709.3L841.0 709.3L844.0 709.4L847.0 709.5L850.0 709.5L853.0 709.6L856.0 709.7L859.0 709.8L862.0 709.8L865.0 709.9L868.0 709.9L871.0 709.9L874.0 709.9L877.0 709.9L880.0 709.9L883.0 709.9L886.0 709.9L889.0 709.9L892.0 709.9L895.0 709.9L898.0 709.9L901.0 709.9L904.0 709.9L907.0 709.9L910.0 709.9L913.0 709.9L916.0 709.9L919.0 709.9L922.0 709.9L925.0 709.9L928.0 709.8L931.0 709.8L934.0 709.7L937.0 709.7L940.0 709.6L943.0 709.5L946.0 709.4L949.0 709.3L952.0 709.2L955.0 709.1L958.0 708.9L961.0 708.8L964.0 708.6L967.0 708.4L970.0 708.2L973.0 708.1L976.0 707.8L979.0 707.6L982.0 707.4L985.0 707.1L988.0 706.9L991.0 706.6L994.0 706.3L997.0 706.0L1000.0 705.6L1003.0 705.3L1006.0 704.9L1009.0 704.5L1012.0 704.1L1015.0 703.6L1018.0 703.1L1021.0 702.6L1024.0 702.1L1027.0 701.6L1030.0 701.1L1033.0 700.5L1036.0 699.9L1039.0 699.4L1042.0 698.8L1045.0 698.2L1048.0 697.5L1051.0 696.9L1054.0 696.3L1057.0 695.6L1060.0 695.0L1063.0 694.4L1066.0 693.7L1069.0 693.1L1072.0 692.4L1075.0 691.7L1078.0 690.9L1081.0 690.1L1084.0 689.2L1087.0 688.3L1090.0 687.3L1093.0 686.3L1096.0 685.2L1099.0 684.0L1101.9 682.6L1104.4 681.1L1106.7 679.6L1108.8 678.1L1110.7 676.6L1112.4 675.1L1114.5 673.1L1116.3 671.1L1118.0 669.1L1119.4 667.1L1120.8 665.1L1122.0 663.1L1122.9 661.1L1123.9 658.6L1124.7 656.1L1125.8 652.1L1126.6 648.1L1127.2 644.1L1127.6 640.1L1127.8 636.1L1128.0 632.1L1127.9 628.1L1127.8 624.1L1127.6 620.1L1127.4 616.1L1127.0 612.1L1126.6 608.1L1126.2 604.1L1125.7 600.1L1125.1 596.1L1124.5 592.1L1123.9 588.1L1123.2 584.1L1122.5 580.1L1121.7 576.1L1121.0 572.1L1120.2 568.1L1119.4 564.1L1118.5 560.1L1117.7 556.1L1116.8 552.1L1115.9 548.1L1115.8 547.6M431.9 681.0L433.5 682.5L435.4 684.0L437.4 685.5L439.7 687.0L442.0 688.6L444.0 690.0L446.0 691.3L448.0 692.4L450.0 693.5L452.0 694.5L455.0 695.9L458.0 697.1L461.0 698.3L464.0 699.4L467.0 700.4L470.0 701.2L473.0 702.0L476.0 702.7L479.0 703.3L482.0 703.9L485.0 704.4L488.0 704.9L491.0 705.3L494.0 705.7L497.0 706.1L500.0 706.4L503.0 706.7L506.0 706.9L509.0 707.2L512.0 707.4L515.0 707.7L518.0 707.9L521.0 708.0L524.0 708.2L527.0 708.2L530.0 708.3L533.0 708.3L536.0 708.3L539.0 708.4L542.0 708.4L545.0 708.4L548.0 708.4L551.0 708.4L554.0 708.4L557.0 708.4L560.0 708.3L563.0 708.3L566.0 708.2L569.0 708.1L572.0 707.9L575.0 707.8L578.0 707.6L581.0 707.3L584.0 706.9L587.0 706.4L590.0 706.0L593.0 705.5L596.0 705.0L599.0 704.5L602.0 703.9L605.0 703.1L608.0 702.4L611.0 701.5L614.0 700.5L617.0 699.5L620.0 698.4L623.0 697.2L626.0 696.0L629.0 694.7L631.0 693.7L633.0 692.8L635.0 691.8L637.0 690.8L639.0 689.7L641.0 688.6L643.0 687.4L645.0 686.2L647.0 685.0L649.0 683.9L651.0 683.0L653.0 682.0L655.0 681.1L656.0 681.0M665.0 681.0L668.0 682.2L670.0 683.1L673.0 684.4L675.0 685.4L677.0 686.4L679.0 687.3L682.0 688.6L685.0 689.8L688.0 690.8L691.0 691.8L694.0 692.7L697.0 693.6L700.0 694.4L703.0 695.2L706.0 696.0L709.0 696.7L712.0 697.4L715.0 698.1L718.0 698.7L721.0 699.3L724.0 699.8L727.0 700.3L730.0 700.8L733.0 701.2L736.0 701.7L739.0 702.1L742.0 702.5L745.0 702.8L748.0 703.2L751.0 703.5L754.0 703.8L757.0 704.1L760.0 704.4L763.0 704.6L766.0 704.9L769.0 705.1L772.0 705.4L775.0 705.6L778.0 705.8L781.0 706.0L784.0 706.2L787.0 706.4L790.0 706.6L793.0 706.8L796.0 706.9L799.0 707.1L802.0 707.3L805.0 707.5L808.0 707.6L811.0 707.8L814.0 707.9L817.0 708.0L820.0 708.2L823.0 708.3L826.0 708.4L829.0 708.5L832.0 708.5L835.0 708.6L838.0 708.7L841.0 708.8L844.0 708.8L847.0 708.9L850.0 709.0L853.0 709.1L856.0 709.1L859.0 709.2L862.0 709.3L865.0 709.3L868.0 709.4L871.0 709.4L874.0 709.4L877.0 709.4L880.0 709.4L883.0 709.4L886.0 709.4L889.0 709.4L892.0 709.4L895.0 709.4L898.0 709.4L901.0 709.4L904.0 709.4L907.0 709.4L910.0 709.4L913.0 709.4L916.0 709.4L919.0 709.4L922.0 709.4L925.0 709.3L928.0 709.3L931.0 709.2L934.0 709.2L937.0 709.1L940.0 709.0L943.0 708.9L946.0 708.9L949.0 708.8L952.0 708.6L955.0 708.5L958.0 708.3L961.0 708.2L964.0 708.0L967.0 707.8L970.0 707.6L973.0 707.4L976.0 707.2L979.0 707.0L982.0 706.7L985.0 706.5L988.0 706.2L991.0 705.9L994.0 705.6L997.0 705.3L1000.0 704.9L1003.0 704.6L1006.0 704.2L1009.0 703.7L1012.0 703.3L1015.0 702.8L1018.0 702.3L1021.0 701.8L1024.0 701.3L1027.0 700.7L1030.0 700.2L1033.0 699.6L1036.0 699.0L1039.0 698.4L1042.0 697.8L1045.0 697.1L1048.0 696.5L1051.0 695.8L1054.0 695.2L1057.0 694.5L1060.0 693.8L1063.0 693.2L1066.0 692.5L1069.0 691.8L1072.0 691.1L1075.0 690.4L1078.0 689.6L1081.0 688.7L1084.0 687.8L1087.0 686.9L1090.0 685.9L1093.0 684.8L1096.0 683.7L1099.0 682.4L1101.8 681.0L1104.3 679.5L1106.5 678.0L1108.5 676.5L1110.4 675.0L1112.1 673.5L1114.1 671.5L1115.9 669.5L1117.5 667.5L1119.0 665.5L1120.3 663.5L1121.4 661.5L1122.5 659.0L1123.5 656.5L1124.7 652.5L1125.6 648.5L1126.3 644.5L1126.8 640.5L1127.1 636.5L1127.3 632.5L1127.4 628.5L1127.3 624.5L1127.2 620.5L1126.9 616.5L1126.6 612.5L1126.3 608.5L1125.8 604.5L1125.4 600.5L1124.8 596.5L1124.2 592.5L1123.6 588.5L1123.0 584.5L1122.3 580.5L1121.6 576.5L1120.8 572.5L1120.0 568.5L1119.2 564.5L1118.4 560.5L1117.6 556.5L1116.7 552.5L1115.8 548.5L1115.6 547.6M433.4 681.0L435.2 682.5L437.1 684.0L439.3 685.5L442.0 687.4L444.0 688.8L446.0 690.2L448.0 691.4L450.0 692.5L452.0 693.6L454.0 694.5L457.0 695.8L460.0 697.1L463.0 698.2L466.0 699.3L469.0 700.2L472.0 701.1L475.0 701.8L478.0 702.5L481.0 703.1L484.0 703.6L487.0 704.1L490.0 704.6L493.0 705.0L496.0 705.4L499.0 705.7L502.0 706.0L505.0 706.3L508.0 706.6L511.0 706.8L514.0 707.1L517.0 707.3L520.0 707.5L523.0 707.6L526.0 707.7L529.0 707.7L532.0 707.8L535.0 707.8L538.0 707.8L541.0 707.9L544.0 707.9L547.0 707.9L550.0 707.9L553.0 707.9L556.0 707.9L559.0 707.8L562.0 707.8L565.0 707.7L568.0 707.6L571.0 707.5L574.0 707.3L577.0 707.2L580.0 706.9L583.0 706.5L586.0 706.0L589.0 705.5L592.0 705.1L595.0 704.6L598.0 704.0L601.0 703.4L604.0 702.7L607.0 701.9L610.0 701.0L613.0 700.1L616.0 699.1L619.0 698.0L622.0 696.8L625.0 695.5L628.0 694.1L630.0 693.2L632.0 692.2L634.0 691.2L636.0 690.2L638.0 689.1L640.0 688.0L642.0 686.8L644.0 685.5L646.0 684.2L648.0 683.1L650.0 682.0L652.0 681.1L653.0 681.0M668.0 681.0L671.0 682.1L674.0 683.5L676.0 684.6L678.0 685.6L680.0 686.5L683.0 687.8L686.0 689.0L689.0 690.0L692.0 691.0L695.0 691.9L698.0 692.8L701.0 693.7L704.0 694.5L707.0 695.3L710.0 696.0L713.0 696.7L716.0 697.4L719.0 698.0L722.0 698.6L725.0 699.2L728.0 699.7L731.0 700.2L734.0 700.6L737.0 701.1L740.0 701.5L743.0 701.9L746.0 702.2L749.0 702.6L752.0 702.9L755.0 703.2L758.0 703.5L761.0 703.8L764.0 704.1L767.0 704.3L770.0 704.6L773.0 704.8L776.0 705.1L779.0 705.3L782.0 705.5L785.0 705.7L788.0 705.9L791.0 706.1L794.0 706.3L797.0 706.4L800.0 706.6L803.0 706.8L806.0 707.0L809.0 707.1L812.0 707.3L815.0 707.4L818.0 707.6L821.0 707.7L824.0 707.8L827.0 707.9L830.0 708.0L833.0 708.1L836.0 708.2L839.0 708.2L842.0 708.3L845.0 708.4L848.0 708.4L851.0 708.5L854.0 708.6L857.0 708.7L860.0 708.7L863.0 708.8L866.0 708.9L869.0 708.9L872.0 708.9L875.0 708.9L878.0 708.9L881.0 708.9L884.0 708.9L887.0 708.9L890.0 708.9L893.0 708.9L896.0 708.9L899.0 708.9L902.0 708.9L905.0 708.9L908.0 708.9L911.0 708.9L914.0 708.9L917.0 708.9L920.0 708.9L923.0 708.9L926.0 708.9L929.0 708.8L932.0 708.7L935.0 708.7L938.0 708.6L941.0 708.5L944.0 708.4L947.0 708.3L950.0 708.2L953.0 708.1L956.0 707.9L959.0 707.8L962.0 707.6L965.0 707.4L968.0 707.2L971.0 707.0L974.0 706.8L977.0 706.6L980.0 706.3L983.0 706.1L986.0 705.8L989.0 705.5L992.0 705.2L995.0 704.9L998.0 704.5L1001.0 704.2L1004.0 703.8L1007.0 703.4L1010.0 702.9L1013.0 702.4L1016.0 701.9L1019.0 701.4L1022.0 700.9L1025.0 700.3L1028.0 699.8L1031.0 699.2L1034.0 698.6L1037.0 697.9L1040.0 697.3L1043.0 696.7L1046.0 696.0L1049.0 695.3L1052.0 694.7L1055.0 694.0L1058.0 693.3L1061.0 692.6L1064.0 691.9L1067.0 691.2L1070.0 690.5L1073.0 689.8L1076.0 689.0L1079.0 688.1L1082.0 687.2L1085.0 686.3L1088.0 685.3L1091.0 684.2L1094.0 683.1L1097.0 681.9L1100.0 680.6L1102.6 679.1L1104.9 677.6L1107.0 676.1L1108.9 674.6L1110.7 673.1L1112.8 671.1L1114.7 669.1L1116.4 667.1L1117.9 665.1L1119.3 663.1L1120.4 661.1L1121.3 659.1L1122.4 656.6L1123.3 654.1L1124.4 650.1L1125.3 646.1L1125.9 642.1L1126.4 638.1L1126.7 634.1L1126.8 630.1L1126.9 626.1L1126.8 622.1L1126.6 618.1L1126.4 614.1L1126.1 610.1L1125.7 606.1L1125.2 602.1L1124.7 598.1L1124.2 594.1L1123.6 590.1L1123.0 586.1L1122.3 582.1L1121.6 578.1L1120.9 574.1L1120.1 570.1L1119.4 566.1L1118.6 562.1L1117.7 558.1L1116.9 554.1L1116.0 550.1L1115.4 547.6M434.5 681.0L436.4 682.5L438.4 684.0L441.0 685.8L443.0 687.3L445.0 688.7L447.0 690.0L449.0 691.2L451.0 692.3L453.0 693.3L455.0 694.3L458.0 695.6L461.0 696.9L464.0 698.0L467.0 699.0L470.0 700.0L473.0 700.8L476.0 701.6L479.0 702.2L482.0 702.8L485.0 703.3L488.0 703.8L491.0 704.3L494.0 704.7L497.0 705.1L500.0 705.4L503.0 705.7L506.0 706.0L509.0 706.3L512.0 706.5L515.0 706.8L518.0 707.0L521.0 707.2L524.0 707.3L527.0 707.3L530.0 707.4L533.0 707.4L536.0 707.5L539.0 707.5L542.0 707.5L545.0 707.5L548.0 707.5L551.0 707.5L554.0 707.5L557.0 707.5L560.0 707.5L563.0 707.4L566.0 707.3L569.0 707.2L572.0 707.1L575.0 706.9L578.0 706.7L581.0 706.4L584.0 706.0L587.0 705.5L590.0 704.9L593.0 704.5L596.0 703.9L599.0 703.4L602.0 702.7L605.0 702.0L608.0 701.1L611.0 700.2L614.0 699.2L617.0 698.1L620.0 697.0L623.0 695.7L626.0 694.4L628.0 693.4L630.0 692.5L632.0 691.5L634.0 690.5L636.0 689.4L638.0 688.3L640.0 687.1L642.0 685.9L644.0 684.6L646.0 683.3L648.0 682.1L650.0 681.0L651.0 681.0M670.0 681.0L673.0 682.1L675.0 683.1L677.0 684.2L679.0 685.2L681.0 686.1L684.0 687.4L687.0 688.5L690.0 689.6L693.0 690.6L696.0 691.5L699.0 692.4L702.0 693.3L705.0 694.1L708.0 694.9L711.0 695.6L714.0 696.3L717.0 697.0L720.0 697.6L723.0 698.2L726.0 698.8L729.0 699.3L732.0 699.8L735.0 700.2L738.0 700.7L741.0 701.1L744.0 701.5L747.0 701.9L750.0 702.2L753.0 702.5L756.0 702.9L759.0 703.2L762.0 703.4L765.0 703.7L768.0 704.0L771.0 704.2L774.0 704.5L777.0 704.7L780.0 704.9L783.0 705.1L786.0 705.4L789.0 705.6L792.0 705.7L795.0 705.9L798.0 706.1L801.0 706.3L804.0 706.5L807.0 706.6L810.0 706.8L813.0 707.0L816.0 707.1L819.0 707.2L822.0 707.4L825.0 707.5L828.0 707.6L831.0 707.7L834.0 707.7L837.0 707.8L840.0 707.9L843.0 708.0L846.0 708.0L849.0 708.1L852.0 708.2L855.0 708.3L858.0 708.4L861.0 708.4L864.0 708.5L867.0 708.5L870.0 708.5L873.0 708.5L876.0 708.5L879.0 708.5L882.0 708.5L885.0 708.5L888.0 708.5L891.0 708.5L894.0 708.5L897.0 708.5L900.0 708.5L903.0 708.5L906.0 708.5L909.0 708.5L912.0 708.5L915.0 708.5L918.0 708.5L921.0 708.5L924.0 708.5L927.0 708.5L930.0 708.4L933.0 708.4L936.0 708.3L939.0 708.2L942.0 708.1L945.0 708.0L948.0 707.9L951.0 707.8L954.0 707.7L957.0 707.5L960.0 707.4L963.0 707.2L966.0 707.0L969.0 706.8L972.0 706.6L975.0 706.4L978.0 706.1L981.0 705.9L984.0 705.6L987.0 705.3L990.0 705.0L993.0 704.7L996.0 704.3L999.0 704.0L1002.0 703.6L1005.0 703.2L1008.0 702.7L1011.0 702.3L1014.0 701.8L1017.0 701.2L1020.0 700.7L1023.0 700.2L1026.0 699.6L1029.0 699.0L1032.0 698.4L1035.0 697.8L1038.0 697.1L1041.0 696.5L1044.0 695.8L1047.0 695.1L1050.0 694.4L1053.0 693.7L1056.0 693.0L1059.0 692.3L1062.0 691.6L1065.0 690.9L1068.0 690.2L1071.0 689.5L1074.0 688.7L1077.0 687.9L1080.0 687.0L1083.0 686.1L1086.0 685.1L1089.0 684.0L1092.0 682.9L1095.0 681.8L1098.0 680.5L1100.0 679.5L1102.5 678.0L1104.8 676.5L1106.9 675.0L1108.7 673.5L1110.5 672.0L1112.6 670.0L1114.4 668.0L1116.1 666.0L1117.6 664.0L1119.0 662.0L1120.0 660.0L1121.0 658.0L1122.0 655.5L1123.0 652.5L1124.2 648.5L1125.0 644.5L1125.6 640.5L1126.0 636.5L1126.3 632.5L1126.5 628.5L1126.5 624.5L1126.4 620.5L1126.2 616.5L1126.0 612.5L1125.7 608.5L1125.3 604.5L1124.8 600.5L1124.3 596.5L1123.8 592.5L1123.2 588.5L1122.6 584.5L1121.9 580.5L1121.2 576.5L1120.5 572.5L1119.7 568.5L1118.9 564.5L1118.1 560.5L1117.3 556.5L1116.4 552.5L1115.5 548.5L1115.3 547.6M1192.5 721.9L1189.5 721.9L1186.5 721.9L1183.5 721.9L1180.5 721.9L1177.5 721.9L1174.5 721.9L1171.5 721.8L1168.5 721.8L1165.5 721.8L1162.5 721.7L1159.5 721.6L1156.5 721.5L1154.2 721.3L1152.0 721.2L1149.8 720.9L1147.5 720.5L1145.2 719.9L1143.2 718.9L1141.7 717.2L1140.8 715.0L1140.3 712.8L1140.1 710.5L1139.9 707.4L1139.8 704.7L1139.7 700.2L1139.7 696.5L1139.6 690.2L1139.5 675.9M1192.5 718.9L1189.5 718.9L1186.5 718.9L1183.5 718.9L1180.5 718.8L1177.5 718.8L1174.5 718.7L1171.5 718.6L1168.5 718.5L1165.5 718.4L1162.5 718.2L1159.5 718.0L1156.5 717.7L1154.2 717.4L1152.0 717.0L1149.8 716.3L1147.5 715.4L1145.5 714.2L1143.8 712.3L1142.5 710.1L1141.8 707.9L1141.2 705.7L1140.9 703.4L1140.6 700.8L1140.4 698.2L1140.2 695.7L1140.1 692.3L1140.0 689.3L1139.9 685.1L1139.8 682.4L1139.8 679.0L1139.8 674.7L1139.7 668.8L1139.4 660.1L1137.7 645.7L1132.5 613.0M1192.5 713.8L1189.5 713.7L1186.5 713.6L1183.5 713.5L1180.5 713.4L1177.5 713.3L1174.5 713.1L1171.5 712.9L1168.5 712.7L1165.5 712.4L1162.5 712.0L1159.5 711.4L1156.5 710.7L1154.2 709.9L1152.0 709.0L1150.0 707.8L1148.2 706.4L1146.8 704.7L1145.5 702.9L1144.5 700.9L1143.5 698.2L1142.8 695.4L1142.3 693.2L1141.9 690.7L1141.6 688.4L1141.3 686.0L1141.2 683.7L1141.0 681.0L1140.8 678.6L1140.7 675.7L1140.5 673.4L1140.5 670.8L1140.3 667.7L1140.2 664.1L1139.9 659.6L1139.6 656.9L1139.2 653.9L1138.7 650.5L1138.2 646.5L1137.5 641.8L1136.6 636.0L1135.5 629.0L1133.9 619.8L1131.6 607.5L1127.8 589.4L1120.8 559.0L1117.9 547.6M1192.5 708.1L1189.5 708.0L1186.5 707.9L1183.5 707.7L1180.5 707.5L1177.5 707.2L1174.5 706.9L1171.5 706.6L1168.5 706.1L1165.5 705.5L1162.5 704.8L1159.5 703.8L1156.5 702.5L1154.5 701.4L1152.5 700.0L1150.8 698.4L1149.2 696.7L1148.0 694.8L1146.8 692.5L1145.8 690.2L1145.0 688.0L1144.2 685.3L1143.8 683.1L1143.2 680.5L1142.8 677.2L1142.5 674.9L1142.2 672.7L1142.0 670.1L1141.8 667.8L1141.5 665.1L1141.4 662.8L1141.0 660.2L1140.6 657.3L1140.3 655.1L1139.9 652.6L1139.5 649.9L1139.0 646.9L1138.4 643.4L1137.8 639.5L1137.4 637.3L1137.0 634.9L1136.6 632.3L1136.1 629.4L1135.5 626.3L1134.9 622.9L1134.2 619.0L1133.4 614.7L1132.4 609.8L1131.3 604.2L1129.9 597.7L1128.2 590.1L1126.2 580.8L1123.5 569.2L1119.8 554.4L1118.1 547.6M1192.5 702.4L1189.5 702.2L1186.5 702.0L1183.5 701.7L1180.5 701.4L1177.5 701.0L1174.5 700.5L1171.5 699.9L1168.5 699.2L1165.5 698.3L1162.5 697.1L1160.5 696.2L1158.5 695.1L1156.5 693.8L1154.5 692.1L1152.8 690.3L1151.2 688.4L1150.0 686.5L1148.8 684.2L1147.8 682.0L1146.8 679.3L1146.0 676.8L1145.2 673.9L1144.8 671.6L1144.2 668.9L1143.8 665.8L1143.2 662.0L1142.8 659.9L1142.3 657.5L1141.7 654.7L1141.2 652.3L1140.7 649.6L1140.3 647.3L1139.8 644.9L1139.3 642.2L1138.7 639.1L1138.3 636.9L1137.9 634.5L1137.4 631.9L1136.8 629.1L1136.2 626.0L1135.5 622.5L1134.8 618.6L1133.9 614.3L1133.4 612.0L1132.9 609.4L1132.3 606.7L1131.7 603.8L1131.0 600.7L1130.3 597.3L1129.4 593.6L1128.5 589.6L1127.5 585.2L1126.4 580.3L1125.1 574.8L1123.6 568.7L1121.9 561.8L1119.9 553.8L1118.3 547.6M1192.5 696.8L1189.5 696.4L1186.5 696.1L1183.5 695.7L1180.5 695.2L1177.5 694.6L1174.5 693.9L1171.5 693.1L1168.5 692.0L1165.5 690.8L1163.5 689.8L1161.5 688.6L1159.5 687.3L1157.5 685.6L1155.5 683.6L1154.0 681.8L1152.5 679.7L1151.2 677.5L1150.2 675.5L1149.2 673.2L1148.2 670.5L1147.5 668.2L1146.8 665.4L1146.0 662.2L1145.2 659.7L1144.4 656.9L1143.6 653.6L1142.7 649.8L1142.1 647.7L1141.6 645.4L1141.0 642.8L1140.4 639.9L1139.7 636.8L1138.9 633.2L1138.4 630.8L1137.8 628.3L1137.2 625.5L1136.5 622.5L1136.0 620.3L1135.5 617.9L1135.0 615.4L1134.4 612.8L1133.7 609.9L1133.0 606.7L1132.3 603.3L1131.4 599.6L1130.5 595.5L1130.0 593.3L1129.4 591.0L1128.9 588.5L1128.2 585.9L1127.6 583.2L1126.9 580.3L1126.1 577.2L1125.3 573.9L1124.5 570.3L1123.5 566.5L1122.5 562.4L1121.4 558.0L1120.1 553.1L1118.7 547.9L1118.6 547.6M1192.5 691.1L1189.5 690.7L1186.5 690.2L1183.5 689.7L1180.5 689.0L1177.5 688.2L1174.5 687.3L1171.5 686.2L1168.5 684.9L1166.5 683.9L1164.5 682.7L1162.5 681.3L1160.5 679.7L1158.5 677.8L1156.5 675.5L1154.5 672.7L1153.2 670.6L1152.0 668.1L1151.0 665.9L1150.0 663.3L1149.1 661.1L1148.1 658.6L1147.1 655.8L1146.4 653.7L1145.6 651.4L1144.8 648.8L1143.9 645.9L1143.0 642.6L1142.0 638.8L1140.8 634.5L1140.2 632.0L1139.5 629.4L1138.8 626.5L1138.0 623.3L1137.2 619.7L1136.2 615.8L1135.1 611.4L1134.4 608.5L1133.7 605.3L1133.1 603.0L1132.5 600.6L1131.9 598.1L1131.3 595.4L1130.5 592.5L1129.8 589.4L1129.0 586.0L1128.1 582.4L1127.1 578.6L1126.0 574.3L1125.5 572.1L1124.9 569.7L1124.2 567.2L1123.6 564.6L1122.9 561.9L1122.1 559.0L1121.3 556.0L1120.5 552.8L1119.6 549.4L1119.1 547.6M1192.5 685.9L1189.5 685.4L1186.5 684.8L1183.5 684.1L1180.5 683.3L1177.5 682.3L1174.5 681.2L1171.5 679.8L1169.5 678.8L1167.5 677.6L1165.5 676.2L1163.5 674.7L1161.5 672.9L1159.5 670.7L1157.5 668.2L1155.5 665.2L1154.2 662.9L1153.1 660.9L1151.9 658.6L1150.6 656.0L1149.6 653.9L1148.6 651.4L1147.5 648.7L1146.4 645.6L1145.6 643.3L1144.7 640.8L1143.8 638.1L1142.9 635.0L1141.9 631.5L1140.7 627.6L1140.1 625.5L1139.5 623.2L1138.8 620.7L1138.1 618.0L1137.3 615.1L1136.5 612.0L1135.6 608.5L1134.6 604.8L1133.5 600.6L1132.3 595.9L1131.0 590.7L1130.4 588.4L1129.8 586.0L1129.1 583.5L1128.4 580.8L1127.7 578.0L1126.9 575.0L1126.0 571.7L1125.1 568.3L1124.2 564.6L1123.1 560.7L1122.0 556.5L1121.4 554.2L1120.7 551.9L1120.1 549.4L1119.6 547.6M1192.5 680.8L1189.5 680.2L1186.5 679.4L1183.5 678.6L1180.5 677.6L1177.5 676.4L1174.5 675.1L1172.5 674.0L1170.5 672.9L1168.5 671.5L1166.5 670.0L1164.5 668.3L1162.5 666.3L1160.5 664.0L1158.4 661.3L1156.1 658.1L1154.9 656.3L1153.7 654.2L1152.4 651.9L1151.1 649.3L1150.1 647.2L1149.0 644.8L1147.9 642.2L1146.8 639.3L1146.0 637.1L1145.1 634.8L1144.2 632.3L1143.3 629.5L1142.3 626.5L1141.2 623.1L1140.1 619.3L1138.8 615.1L1138.1 612.8L1137.4 610.3L1136.7 607.6L1135.9 604.8L1135.0 601.7L1134.1 598.3L1133.1 594.7L1132.0 590.7L1130.8 586.4L1129.5 581.5L1128.0 576.2L1126.4 570.1L1125.6 567.5L1124.9 564.7L1124.1 561.8L1123.2 558.7L1122.3 555.4L1121.4 552.0L1120.3 548.2L1120.1 547.6" fill="none" stroke="#231f20" stroke-width="1.4" stroke-linejoin="round"/>
<path d="M51.8 724.55H1274.3" stroke="#231f20" stroke-width="6.0" fill="none"/>
<path d="M332.6 216L332.6 381.1" stroke="#231f20" stroke-width="5" fill="none"/>
<path d="M332.6 411.4L319 375.1Q327.7 380.85 332.6 380.1Q337.5 380.85 346.2 375.1Z" fill="#231f20"/>
<path d="M863.8 228.7L699.1 228.7" stroke="#231f20" stroke-width="5" fill="none"/>
<path d="M668.8 228.7L705.1 215.1Q699.6 222.99 700.1 228.7Q699.6 234.41 705.1 242.3Z" fill="#231f20"/>
<path d="M863.8 418.2L699.1 418.2" stroke="#231f20" stroke-width="5" fill="none"/>
<path d="M668.8 418.2L705.1 404.6Q699.6 412.49 700.1 418.2Q699.6 423.91 705.1 431.8Z" fill="#231f20"/>
<path d="M1106.1 416.5L1106.1 251.7" stroke="#231f20" stroke-width="5" fill="none"/>
<path d="M1106.1 221.4L1119.7 257.7Q1111 251.95 1106.1 252.7Q1101.2 251.95 1092.5 257.7Z" fill="#231f20"/>
<path d="M194.9 578L170.6 578" stroke="#231f20" stroke-width="4.8" fill="none"/>
<path d="M140.9 578L176.6 564.7Q171.1 572.41 171.6 578Q171.1 583.59 176.6 591.3Z" fill="#231f20"/>
<path d="M271.3 524.6L271.3 561.6" stroke="#231f20" stroke-width="5" fill="none"/>
<path d="M271.3 590.6L258 555.6Q266.51 561.35 271.3 560.6Q276.09 561.35 284.6 555.6Z" fill="#231f20"/>
<path d="M310.6 634.4L273.9 634.4" stroke="#231f20" stroke-width="5" fill="none"/>
<path d="M244.6 634.4L279.9 621.3Q274.4 628.9 274.9 634.4Q274.4 639.9 279.9 647.5Z" fill="#231f20"/>
<path d="M443.5 528.4L443.5 595.3" stroke="#231f20" stroke-width="5" fill="none"/>
<path d="M443.5 624.8L430.2 589.3Q438.71 595.05 443.5 594.3Q448.29 595.05 456.8 589.3Z" fill="#231f20"/>
<path d="M580.1 579L567.7 579" stroke="#231f20" stroke-width="2.4" fill="none"/>
<path d="M553.6 579L571.3 572.7Q568.44 576.35 568.7 579Q568.44 581.65 571.3 585.3Z" fill="#231f20"/>
<path d="M607.6 635.9L607.6 597.8" stroke="#231f20" stroke-width="5.8" fill="none"/>
<path d="M607.6 567.2L621 603.4Q612.42 598.11 607.6 598.8Q602.78 598.11 594.2 603.4Z" fill="#231f20"/>
<path d="M780 536L780 604.4" stroke="#231f20" stroke-width="5" fill="none"/>
<path d="M780 632.9L766.7 598.4Q775.21 604.15 780 603.4Q784.79 604.15 793.3 598.4Z" fill="#231f20"/>
<text transform="translate(153.34 186.7) scale(0.9287 1)" font-size="41.8">8</text>
<text transform="translate(565.01 186.7) scale(1.0168 1)" font-size="41.96">9.2</text>
<text transform="translate(565.12 380.8) scale(0.9334 1)" font-size="42.11">9.1</text>
<text transform="translate(1024.88 186.7) scale(0.9350 1)" font-size="41.8">10</text>
<text transform="translate(138.97 541.9) scale(0.8787 1)" font-size="41.97">1</text>
<text transform="translate(215.79 542) scale(0.9070 1)" font-size="41.96">3</text>
<text transform="translate(210.75 645.8) scale(1.0382 1)" font-size="41.66">2</text>
<text transform="translate(351.19 541.9) scale(0.9597 1)" font-size="42.13">4</text>
<text transform="translate(553.16 541.6) scale(0.9291 1)" font-size="41.98">5</text>
<text transform="translate(593.14 553.9) scale(0.9177 1)" font-size="42.57">6</text>
<text transform="translate(664.94 554.8) scale(1.0079 1)" font-size="42.14">7</text>
<text transform="translate(1240.84 711.4) scale(1.2825 1)" font-size="41.07" font-style="italic">Z</text>
<path d="M135.6 727V957.7H1194.6" fill="none" stroke="#231f20" stroke-width="2.8"/>
<path d="M135.6 770.1H149.8M135.6 854.1H149.8M135.6 895.6H149.8M135.6 937.2H149.8M232 957.7V943.9M369 957.7V943.9M506.4 957.7V943.9M644 957.7V943.9M781.4 957.7V943.9M918.9 957.7V943.9M1038.2 957.7V943.9M1193.5 957.7V943.9" fill="none" stroke="#231f20" stroke-width="2.2"/>
<path d="M137.1 755.2C139.5 756.03 146.58 758.9 151.5 760.2C156.42 761.5 161.22 762.37 166.6 763C171.98 763.63 177.33 763.87 183.8 764C190.27 764.13 198.22 763.83 205.4 763.8C212.58 763.77 219.72 763.52 226.9 763.8C234.08 764.08 241.32 764.78 248.5 765.5C255.68 766.22 262.83 767.33 270 768.1C277.17 768.87 284.32 769.7 291.5 770.1C298.68 770.5 306.63 770.4 313.1 770.5C319.57 770.6 324.92 770.38 330.3 770.7C335.68 771.02 340.73 771.47 345.4 772.4C350.07 773.33 353.63 774.4 358.3 776.3C362.97 778.2 368.37 780.75 373.4 783.8C378.43 786.85 382.77 790.1 388.5 794.6C394.23 799.1 402.3 806.13 407.8 810.8C413.3 815.47 415.62 817.4 421.5 822.6C427.38 827.8 435.92 835.35 443.1 842C450.28 848.65 457.42 855.5 464.6 862.5C471.78 869.5 479.02 876.83 486.2 884C493.38 891.17 501.25 899.22 507.7 905.5C514.15 911.78 519.88 917.2 524.9 921.7C529.92 926.2 533.85 929.82 537.8 932.5C541.75 935.18 545.37 936.62 548.6 937.8C551.83 938.98 554.15 939.6 557.2 939.6C560.25 939.6 563.3 939.35 566.9 937.8C570.5 936.25 575.03 933.7 578.8 930.3C582.57 926.9 585.55 922.78 589.5 917.4C593.45 912.02 598.18 904.82 602.5 898C606.82 891.18 611.47 882.6 615.4 876.5C619.33 870.4 622.52 865.9 626.1 861.4C629.68 856.9 633.3 852.92 636.9 849.5C640.5 846.08 644.1 843.05 647.7 840.9C651.3 838.75 655.27 837.5 658.5 836.6C661.73 835.7 663.52 835.43 667.1 835.5C670.68 835.57 676.05 835.95 680 837C683.95 838.05 687.22 839.97 690.8 841.8C694.38 843.63 696.12 844.73 701.5 848C706.88 851.27 715.92 857.2 723.1 861.4C730.28 865.6 737.42 869.53 744.6 873.2C751.78 876.87 759.02 880.1 766.2 883.4C773.38 886.7 780.53 889.73 787.7 893C794.87 896.27 802.02 899.67 809.2 903C816.38 906.33 823.62 909.78 830.8 913C837.98 916.22 846.2 919.85 852.3 922.3C858.4 924.75 862.73 926.25 867.4 927.7C872.07 929.15 876.37 930.28 880.3 931C884.23 931.72 887.42 931.83 891 932C894.58 932.17 898.2 932.22 901.8 932C905.4 931.78 908.65 931.6 912.6 930.7C916.55 929.8 921.18 928.38 925.5 926.6C929.82 924.82 932.75 923.4 938.5 920C944.25 916.6 952.32 911.3 960 906.2C967.68 901.1 976.9 894.53 984.6 889.4C992.3 884.27 999.02 879.88 1006.2 875.4C1013.38 870.92 1020.53 866.63 1027.7 862.5C1034.87 858.37 1042.02 854.48 1049.2 850.6C1056.38 846.72 1063.62 842.78 1070.8 839.2C1077.98 835.62 1085.13 832.4 1092.3 829.1C1099.47 825.8 1106.62 822.35 1113.8 819.4C1120.98 816.45 1128.22 813.85 1135.4 811.4C1142.58 808.95 1149.72 806.7 1156.9 804.7C1164.08 802.7 1172.47 800.8 1178.5 799.4C1184.53 798 1190.67 796.82 1193.1 796.3" fill="none" stroke="#939598" stroke-width="3.8" stroke-linejoin="round"/>
<path d="M135.6 811.4H1193.2" fill="none" stroke="#231f20" stroke-width="4.6"/>
<path d="M894.2 873.2L981.65 764.64" stroke="#939598" stroke-width="6" fill="none"/>
<path d="M1001.1 740.5L989.19 776.49Q984.97 768.52 981.03 765.42Q977.52 761.51 968.47 759.8Z" fill="#939598"/>
<text transform="translate(46.3 784) scale(1.2852 1)" font-size="42">−</text>
<text transform="translate(75.64 780.9) scale(1.0065 1)" font-size="41.35">0.5</text>
<text transform="translate(107.12 823) scale(1.0373 1)" font-size="40.6">0</text>
<text transform="translate(46.3 868.3) scale(1.2852 1)" font-size="42">−</text>
<text transform="translate(75.64 865.2) scale(0.9885 1)" font-size="42.11">0.5</text>
<text transform="translate(48.29 909.1) scale(1.2903 1)" font-size="42">−</text>
<text transform="translate(80.04 906) scale(0.9252 1)" font-size="41.5">1.0</text>
<text transform="translate(48.29 950.7) scale(1.2903 1)" font-size="42">−</text>
<text transform="translate(80.08 947.6) scale(0.9417 1)" font-size="40.3">1.5</text>
<text transform="translate(186.5 1008.8) scale(1.2852 1)" font-size="42">−</text>
<text transform="translate(215.63 1005.7) scale(0.9695 1)" font-size="42.86">250</text>
<text transform="translate(322.98 1008.8) scale(1.2954 1)" font-size="42">−</text>
<text transform="translate(352.32 1005.7) scale(0.9728 1)" font-size="42.86">200</text>
<text transform="translate(462.07 1008.8) scale(1.3006 1)" font-size="42">−</text>
<text transform="translate(493.03 1005.7) scale(0.8977 1)" font-size="42.86">150</text>
<text transform="translate(599.5 1008.8) scale(1.2852 1)" font-size="42">−</text>
<text transform="translate(629.95 1005.7) scale(0.9198 1)" font-size="42.86">100</text>
<text transform="translate(746 1008.8) scale(1.2852 1)" font-size="42">−</text>
<text transform="translate(775.42 1005.7) scale(0.9643 1)" font-size="42.86">50</text>
<text transform="translate(908.43 1005.7) scale(0.9773 1)" font-size="42.86">0</text>
<text transform="translate(1036.08 1005.7) scale(0.9411 1)" font-size="42.86">50</text>
<text transform="translate(1165.63 1005.7) scale(0.8994 1)" font-size="42.86">100</text>
<text transform="translate(613.39 1054.8) scale(1.2078 1)" font-size="40.61" font-style="italic">Z</text>
<text transform="translate(641.93 1054.8) scale(1.0005 1)" font-size="41.74">, мм</text>
<g transform="translate(35.3 0) rotate(-90)">
<text transform="translate(-897.96 0) scale(1.0809 1)" font-size="42.75" font-style="italic">B</text>
<text transform="translate(-872.46 3.6) scale(1.0138 1)" font-size="43.04" font-style="italic">z</text>
<text transform="translate(-855.25 0) scale(1.1746 1)" font-size="42">,</text>
<text transform="translate(-833.06 0) scale(1.0208 1)" font-size="42.75">Тл</text>
</g>
<rect x="1307.7" y="62.5" width="72.7" height="39.5" fill="#c7c8ca" stroke="#231f20" stroke-width="2.3"/>
<g clip-path="url(#cl2)" fill="none" stroke="#231f20" stroke-width="2.3">
<path d="M1171.19 134.72C1191.98 134.72 1196.6 145.62 1217.39 145.62C1234.73 145.62 1238.58 134.72 1255.92 134.72C1276.71 134.72 1281.33 145.62 1302.12 145.62C1319.46 145.62 1323.31 134.72 1340.65 134.72C1361.44 134.72 1366.06 145.62 1386.85 145.62C1404.19 145.62 1408.04 134.72 1425.38 134.72C1446.17 134.72 1450.79 145.62 1471.58 145.62C1488.92 145.62 1492.77 134.72 1510.11 134.72"/>
<path d="M1171.19 149.31C1191.98 149.31 1196.6 160.21 1217.39 160.21C1234.73 160.21 1238.58 149.31 1255.92 149.31C1276.71 149.31 1281.33 160.21 1302.12 160.21C1319.46 160.21 1323.31 149.31 1340.65 149.31C1361.44 149.31 1366.06 160.21 1386.85 160.21C1404.19 160.21 1408.04 149.31 1425.38 149.31C1446.17 149.31 1450.79 160.21 1471.58 160.21C1488.92 160.21 1492.77 149.31 1510.11 149.31"/>
<path d="M1171.19 163.9C1191.98 163.9 1196.6 174.8 1217.39 174.8C1234.73 174.8 1238.58 163.9 1255.92 163.9C1276.71 163.9 1281.33 174.8 1302.12 174.8C1319.46 174.8 1323.31 163.9 1340.65 163.9C1361.44 163.9 1366.06 174.8 1386.85 174.8C1404.19 174.8 1408.04 163.9 1425.38 163.9C1446.17 163.9 1450.79 174.8 1471.58 174.8C1488.92 174.8 1492.77 163.9 1510.11 163.9"/>
<path d="M1171.19 178.49C1191.98 178.49 1196.6 189.39 1217.39 189.39C1234.73 189.39 1238.58 178.49 1255.92 178.49C1276.71 178.49 1281.33 189.39 1302.12 189.39C1319.46 189.39 1323.31 178.49 1340.65 178.49C1361.44 178.49 1366.06 189.39 1386.85 189.39C1404.19 189.39 1408.04 178.49 1425.38 178.49C1446.17 178.49 1450.79 189.39 1471.58 189.39C1488.92 189.39 1492.77 178.49 1510.11 178.49"/>
</g>
<rect x="1307.7" y="138.7" width="72.7" height="39.5" fill="none" stroke="#231f20" stroke-width="2.3"/>
<rect x="1307.7" y="219.2" width="72.7" height="39.5" fill="#939598" stroke="#231f20" stroke-width="2.3"/>
<text transform="translate(1397.49 100.8) scale(1.0680 1)" font-size="40.92">Магниты</text>
<text transform="translate(1397.9 174.7) scale(1.0492 1)" font-size="41.22">Бандаж</text>
<text transform="translate(1397.47 258.3) scale(1.0872 1)" font-size="40.76">Плазменная</text>
<text transform="translate(1397.53 307.9) scale(1.0879 1)" font-size="40.22">камера</text>
</svg></body></html>
